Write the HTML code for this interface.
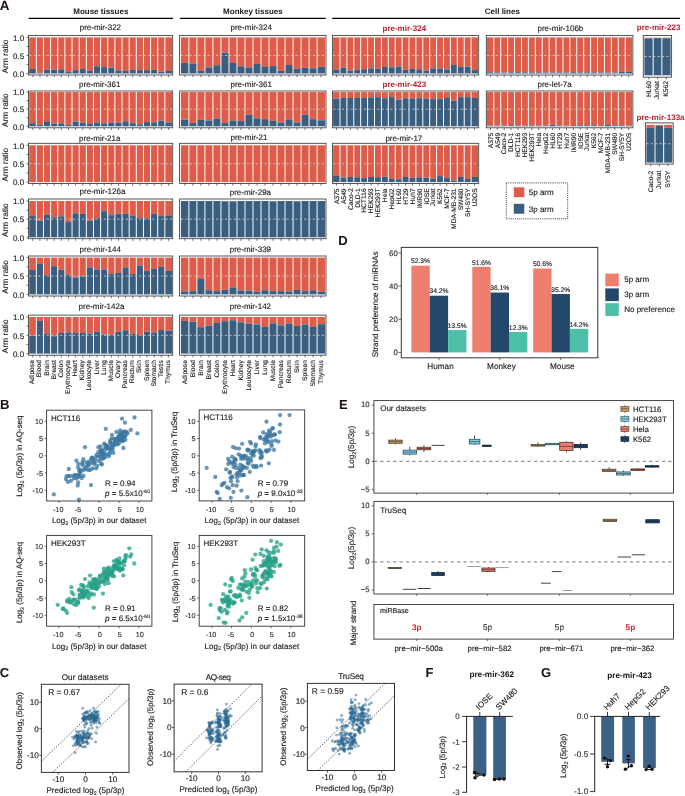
<!DOCTYPE html>
<html><head><meta charset="utf-8"><style>
html,body{margin:0;padding:0;background:#fff;}
svg{display:block;will-change:transform;}
text{font-family:"Liberation Sans", sans-serif;text-rendering:geometricPrecision;}
</style></head><body>
<svg width="685" height="796" viewBox="0 0 685 796" font-family='"Liberation Sans", sans-serif'>
<rect width="685" height="796" fill="#fff"/>
<text x="-0.30" y="9.60" font-size="13.4" text-anchor="start" font-weight="bold" fill="#1c1010">A</text>
<text x="100.80" y="14.40" font-size="8" text-anchor="middle" font-weight="bold" fill="#1a1a1a">Mouse tissues</text>
<text x="252.90" y="14.40" font-size="8" text-anchor="middle" font-weight="bold" fill="#1a1a1a">Monkey tissues</text>
<text x="502.30" y="14.40" font-size="8" text-anchor="middle" font-weight="bold" fill="#1a1a1a">Cell lines</text>
<line x1="28.60" y1="18.40" x2="173.00" y2="18.40" stroke="#000" stroke-width="1.15"/>
<line x1="180.00" y1="18.40" x2="325.80" y2="18.40" stroke="#000" stroke-width="1.15"/>
<line x1="332.20" y1="18.40" x2="680.10" y2="18.40" stroke="#000" stroke-width="1.15"/>
<rect x="28.50" y="35.40" width="144.20" height="39.60" fill="#fff" stroke="none" stroke-width="0"/>
<rect x="29.20" y="37.40" width="7.14" height="31.62" fill="#DE5D4A" stroke="none" stroke-width="0"/>
<rect x="29.20" y="69.02" width="7.14" height="4.48" fill="#3A5E7F" stroke="none" stroke-width="0"/>
<rect x="36.34" y="37.40" width="7.14" height="35.45" fill="#DE5D4A" stroke="none" stroke-width="0"/>
<rect x="36.34" y="72.85" width="7.14" height="0.65" fill="#3A5E7F" stroke="none" stroke-width="0"/>
<rect x="43.48" y="37.40" width="7.14" height="32.27" fill="#DE5D4A" stroke="none" stroke-width="0"/>
<rect x="43.48" y="69.67" width="7.14" height="3.83" fill="#3A5E7F" stroke="none" stroke-width="0"/>
<rect x="50.62" y="37.40" width="7.14" height="32.27" fill="#DE5D4A" stroke="none" stroke-width="0"/>
<rect x="50.62" y="69.67" width="7.14" height="3.83" fill="#3A5E7F" stroke="none" stroke-width="0"/>
<rect x="57.76" y="37.40" width="7.14" height="31.84" fill="#DE5D4A" stroke="none" stroke-width="0"/>
<rect x="57.76" y="69.24" width="7.14" height="4.26" fill="#3A5E7F" stroke="none" stroke-width="0"/>
<rect x="64.90" y="37.40" width="7.14" height="34.62" fill="#DE5D4A" stroke="none" stroke-width="0"/>
<rect x="64.90" y="72.02" width="7.14" height="1.48" fill="#3A5E7F" stroke="none" stroke-width="0"/>
<rect x="72.04" y="37.40" width="7.14" height="32.71" fill="#DE5D4A" stroke="none" stroke-width="0"/>
<rect x="72.04" y="70.11" width="7.14" height="3.39" fill="#3A5E7F" stroke="none" stroke-width="0"/>
<rect x="79.18" y="37.40" width="7.14" height="31.62" fill="#DE5D4A" stroke="none" stroke-width="0"/>
<rect x="79.18" y="69.02" width="7.14" height="4.48" fill="#3A5E7F" stroke="none" stroke-width="0"/>
<rect x="86.32" y="37.40" width="7.14" height="33.32" fill="#DE5D4A" stroke="none" stroke-width="0"/>
<rect x="86.32" y="70.72" width="7.14" height="2.78" fill="#3A5E7F" stroke="none" stroke-width="0"/>
<rect x="93.46" y="37.40" width="7.14" height="28.88" fill="#DE5D4A" stroke="none" stroke-width="0"/>
<rect x="93.46" y="66.28" width="7.14" height="7.22" fill="#3A5E7F" stroke="none" stroke-width="0"/>
<rect x="100.60" y="37.40" width="7.14" height="29.71" fill="#DE5D4A" stroke="none" stroke-width="0"/>
<rect x="100.60" y="67.11" width="7.14" height="6.39" fill="#3A5E7F" stroke="none" stroke-width="0"/>
<rect x="107.74" y="37.40" width="7.14" height="30.32" fill="#DE5D4A" stroke="none" stroke-width="0"/>
<rect x="107.74" y="67.72" width="7.14" height="5.78" fill="#3A5E7F" stroke="none" stroke-width="0"/>
<rect x="114.88" y="37.40" width="7.14" height="32.89" fill="#DE5D4A" stroke="none" stroke-width="0"/>
<rect x="114.88" y="70.29" width="7.14" height="3.21" fill="#3A5E7F" stroke="none" stroke-width="0"/>
<rect x="122.02" y="37.40" width="7.14" height="33.54" fill="#DE5D4A" stroke="none" stroke-width="0"/>
<rect x="122.02" y="70.94" width="7.14" height="2.56" fill="#3A5E7F" stroke="none" stroke-width="0"/>
<rect x="129.16" y="37.40" width="7.14" height="32.49" fill="#DE5D4A" stroke="none" stroke-width="0"/>
<rect x="129.16" y="69.89" width="7.14" height="3.61" fill="#3A5E7F" stroke="none" stroke-width="0"/>
<rect x="136.30" y="37.40" width="7.14" height="32.71" fill="#DE5D4A" stroke="none" stroke-width="0"/>
<rect x="136.30" y="70.11" width="7.14" height="3.39" fill="#3A5E7F" stroke="none" stroke-width="0"/>
<rect x="143.44" y="37.40" width="7.14" height="32.71" fill="#DE5D4A" stroke="none" stroke-width="0"/>
<rect x="143.44" y="70.11" width="7.14" height="3.39" fill="#3A5E7F" stroke="none" stroke-width="0"/>
<rect x="150.58" y="37.40" width="7.14" height="32.49" fill="#DE5D4A" stroke="none" stroke-width="0"/>
<rect x="150.58" y="69.89" width="7.14" height="3.61" fill="#3A5E7F" stroke="none" stroke-width="0"/>
<rect x="157.72" y="37.40" width="7.14" height="34.40" fill="#DE5D4A" stroke="none" stroke-width="0"/>
<rect x="157.72" y="71.80" width="7.14" height="1.70" fill="#3A5E7F" stroke="none" stroke-width="0"/>
<rect x="164.86" y="37.40" width="7.14" height="33.54" fill="#DE5D4A" stroke="none" stroke-width="0"/>
<rect x="164.86" y="70.94" width="7.14" height="2.56" fill="#3A5E7F" stroke="none" stroke-width="0"/>
<line x1="36.34" y1="37.40" x2="36.34" y2="73.50" stroke="#ffffff" stroke-width="0.95"/>
<line x1="43.48" y1="37.40" x2="43.48" y2="73.50" stroke="#ffffff" stroke-width="0.95"/>
<line x1="50.62" y1="37.40" x2="50.62" y2="73.50" stroke="#ffffff" stroke-width="0.95"/>
<line x1="57.76" y1="37.40" x2="57.76" y2="73.50" stroke="#ffffff" stroke-width="0.95"/>
<line x1="64.90" y1="37.40" x2="64.90" y2="73.50" stroke="#ffffff" stroke-width="0.95"/>
<line x1="72.04" y1="37.40" x2="72.04" y2="73.50" stroke="#ffffff" stroke-width="0.95"/>
<line x1="79.18" y1="37.40" x2="79.18" y2="73.50" stroke="#ffffff" stroke-width="0.95"/>
<line x1="86.32" y1="37.40" x2="86.32" y2="73.50" stroke="#ffffff" stroke-width="0.95"/>
<line x1="93.46" y1="37.40" x2="93.46" y2="73.50" stroke="#ffffff" stroke-width="0.95"/>
<line x1="100.60" y1="37.40" x2="100.60" y2="73.50" stroke="#ffffff" stroke-width="0.95"/>
<line x1="107.74" y1="37.40" x2="107.74" y2="73.50" stroke="#ffffff" stroke-width="0.95"/>
<line x1="114.88" y1="37.40" x2="114.88" y2="73.50" stroke="#ffffff" stroke-width="0.95"/>
<line x1="122.02" y1="37.40" x2="122.02" y2="73.50" stroke="#ffffff" stroke-width="0.95"/>
<line x1="129.16" y1="37.40" x2="129.16" y2="73.50" stroke="#ffffff" stroke-width="0.95"/>
<line x1="136.30" y1="37.40" x2="136.30" y2="73.50" stroke="#ffffff" stroke-width="0.95"/>
<line x1="143.44" y1="37.40" x2="143.44" y2="73.50" stroke="#ffffff" stroke-width="0.95"/>
<line x1="150.58" y1="37.40" x2="150.58" y2="73.50" stroke="#ffffff" stroke-width="0.95"/>
<line x1="157.72" y1="37.40" x2="157.72" y2="73.50" stroke="#ffffff" stroke-width="0.95"/>
<line x1="164.86" y1="37.40" x2="164.86" y2="73.50" stroke="#ffffff" stroke-width="0.95"/>
<line x1="29.20" y1="55.45" x2="172.00" y2="55.45" stroke="#c8c8c8" stroke-width="0.9" stroke-dasharray="2.2,2.2"/>
<rect x="28.50" y="35.40" width="144.20" height="39.60" fill="none" stroke="#3a3a3a" stroke-width="0.85"/>
<line x1="32.77" y1="75.00" x2="32.77" y2="77.20" stroke="#2a2a2a" stroke-width="0.65"/>
<line x1="39.91" y1="75.00" x2="39.91" y2="77.20" stroke="#2a2a2a" stroke-width="0.65"/>
<line x1="47.05" y1="75.00" x2="47.05" y2="77.20" stroke="#2a2a2a" stroke-width="0.65"/>
<line x1="54.19" y1="75.00" x2="54.19" y2="77.20" stroke="#2a2a2a" stroke-width="0.65"/>
<line x1="61.33" y1="75.00" x2="61.33" y2="77.20" stroke="#2a2a2a" stroke-width="0.65"/>
<line x1="68.47" y1="75.00" x2="68.47" y2="77.20" stroke="#2a2a2a" stroke-width="0.65"/>
<line x1="75.61" y1="75.00" x2="75.61" y2="77.20" stroke="#2a2a2a" stroke-width="0.65"/>
<line x1="82.75" y1="75.00" x2="82.75" y2="77.20" stroke="#2a2a2a" stroke-width="0.65"/>
<line x1="89.89" y1="75.00" x2="89.89" y2="77.20" stroke="#2a2a2a" stroke-width="0.65"/>
<line x1="97.03" y1="75.00" x2="97.03" y2="77.20" stroke="#2a2a2a" stroke-width="0.65"/>
<line x1="104.17" y1="75.00" x2="104.17" y2="77.20" stroke="#2a2a2a" stroke-width="0.65"/>
<line x1="111.31" y1="75.00" x2="111.31" y2="77.20" stroke="#2a2a2a" stroke-width="0.65"/>
<line x1="118.45" y1="75.00" x2="118.45" y2="77.20" stroke="#2a2a2a" stroke-width="0.65"/>
<line x1="125.59" y1="75.00" x2="125.59" y2="77.20" stroke="#2a2a2a" stroke-width="0.65"/>
<line x1="132.73" y1="75.00" x2="132.73" y2="77.20" stroke="#2a2a2a" stroke-width="0.65"/>
<line x1="139.87" y1="75.00" x2="139.87" y2="77.20" stroke="#2a2a2a" stroke-width="0.65"/>
<line x1="147.01" y1="75.00" x2="147.01" y2="77.20" stroke="#2a2a2a" stroke-width="0.65"/>
<line x1="154.15" y1="75.00" x2="154.15" y2="77.20" stroke="#2a2a2a" stroke-width="0.65"/>
<line x1="161.29" y1="75.00" x2="161.29" y2="77.20" stroke="#2a2a2a" stroke-width="0.65"/>
<line x1="168.43" y1="75.00" x2="168.43" y2="77.20" stroke="#2a2a2a" stroke-width="0.65"/>
<line x1="26.50" y1="73.50" x2="28.50" y2="73.50" stroke="#333" stroke-width="0.7"/>
<line x1="26.50" y1="64.47" x2="28.50" y2="64.47" stroke="#333" stroke-width="0.7"/>
<line x1="26.50" y1="55.45" x2="28.50" y2="55.45" stroke="#333" stroke-width="0.7"/>
<line x1="26.50" y1="46.42" x2="28.50" y2="46.42" stroke="#333" stroke-width="0.7"/>
<line x1="26.50" y1="37.40" x2="28.50" y2="37.40" stroke="#333" stroke-width="0.7"/>
<text x="24.20" y="76.70" font-size="8.0" text-anchor="end" fill="#222" stroke="#222" stroke-width="0.14">0.0</text>
<text x="24.20" y="58.65" font-size="8.0" text-anchor="end" fill="#222" stroke="#222" stroke-width="0.14">0.5</text>
<text x="24.20" y="40.60" font-size="8.0" text-anchor="end" fill="#222" stroke="#222" stroke-width="0.14">1.0</text>
<text x="0.00" y="0.00" font-size="8.3" text-anchor="middle" fill="#1a1a1a" transform="translate(8.40,56.45) rotate(-90)" stroke="#1a1a1a" stroke-width="0.14">Arm ratio</text>
<text x="79.70" y="30.40" font-size="8" text-anchor="start" fill="#1a1a1a" stroke="#1a1a1a" stroke-width="0.14">pre-mir-322</text>
<rect x="179.60" y="35.40" width="146.40" height="39.60" fill="#fff" stroke="none" stroke-width="0"/>
<rect x="180.90" y="37.40" width="8.01" height="25.45" fill="#DE5D4A" stroke="none" stroke-width="0"/>
<rect x="180.90" y="62.85" width="8.01" height="10.65" fill="#3A5E7F" stroke="none" stroke-width="0"/>
<rect x="188.91" y="37.40" width="8.01" height="26.10" fill="#DE5D4A" stroke="none" stroke-width="0"/>
<rect x="188.91" y="63.50" width="8.01" height="10.00" fill="#3A5E7F" stroke="none" stroke-width="0"/>
<rect x="196.92" y="37.40" width="8.01" height="33.43" fill="#DE5D4A" stroke="none" stroke-width="0"/>
<rect x="196.92" y="70.83" width="8.01" height="2.67" fill="#3A5E7F" stroke="none" stroke-width="0"/>
<rect x="204.93" y="37.40" width="8.01" height="29.96" fill="#DE5D4A" stroke="none" stroke-width="0"/>
<rect x="204.93" y="67.36" width="8.01" height="6.14" fill="#3A5E7F" stroke="none" stroke-width="0"/>
<rect x="212.94" y="37.40" width="8.01" height="27.80" fill="#DE5D4A" stroke="none" stroke-width="0"/>
<rect x="212.94" y="65.20" width="8.01" height="8.30" fill="#3A5E7F" stroke="none" stroke-width="0"/>
<rect x="220.96" y="37.40" width="8.01" height="15.34" fill="#DE5D4A" stroke="none" stroke-width="0"/>
<rect x="220.96" y="52.74" width="8.01" height="20.76" fill="#3A5E7F" stroke="none" stroke-width="0"/>
<rect x="228.97" y="37.40" width="8.01" height="25.63" fill="#DE5D4A" stroke="none" stroke-width="0"/>
<rect x="228.97" y="63.03" width="8.01" height="10.47" fill="#3A5E7F" stroke="none" stroke-width="0"/>
<rect x="236.98" y="37.40" width="8.01" height="28.88" fill="#DE5D4A" stroke="none" stroke-width="0"/>
<rect x="236.98" y="66.28" width="8.01" height="7.22" fill="#3A5E7F" stroke="none" stroke-width="0"/>
<rect x="244.99" y="37.40" width="8.01" height="29.96" fill="#DE5D4A" stroke="none" stroke-width="0"/>
<rect x="244.99" y="67.36" width="8.01" height="6.14" fill="#3A5E7F" stroke="none" stroke-width="0"/>
<rect x="253.00" y="37.40" width="8.01" height="26.53" fill="#DE5D4A" stroke="none" stroke-width="0"/>
<rect x="253.00" y="63.93" width="8.01" height="9.57" fill="#3A5E7F" stroke="none" stroke-width="0"/>
<rect x="261.01" y="37.40" width="8.01" height="29.60" fill="#DE5D4A" stroke="none" stroke-width="0"/>
<rect x="261.01" y="67.00" width="8.01" height="6.50" fill="#3A5E7F" stroke="none" stroke-width="0"/>
<rect x="269.02" y="37.40" width="8.01" height="28.70" fill="#DE5D4A" stroke="none" stroke-width="0"/>
<rect x="269.02" y="66.10" width="8.01" height="7.40" fill="#3A5E7F" stroke="none" stroke-width="0"/>
<rect x="277.03" y="37.40" width="8.01" height="33.43" fill="#DE5D4A" stroke="none" stroke-width="0"/>
<rect x="277.03" y="70.83" width="8.01" height="2.67" fill="#3A5E7F" stroke="none" stroke-width="0"/>
<rect x="285.04" y="37.40" width="8.01" height="27.62" fill="#DE5D4A" stroke="none" stroke-width="0"/>
<rect x="285.04" y="65.02" width="8.01" height="8.48" fill="#3A5E7F" stroke="none" stroke-width="0"/>
<rect x="293.06" y="37.40" width="8.01" height="31.52" fill="#DE5D4A" stroke="none" stroke-width="0"/>
<rect x="293.06" y="68.92" width="8.01" height="4.58" fill="#3A5E7F" stroke="none" stroke-width="0"/>
<rect x="301.07" y="37.40" width="8.01" height="30.43" fill="#DE5D4A" stroke="none" stroke-width="0"/>
<rect x="301.07" y="67.83" width="8.01" height="5.67" fill="#3A5E7F" stroke="none" stroke-width="0"/>
<rect x="309.08" y="37.40" width="8.01" height="30.83" fill="#DE5D4A" stroke="none" stroke-width="0"/>
<rect x="309.08" y="68.23" width="8.01" height="5.27" fill="#3A5E7F" stroke="none" stroke-width="0"/>
<rect x="317.09" y="37.40" width="8.01" height="29.35" fill="#DE5D4A" stroke="none" stroke-width="0"/>
<rect x="317.09" y="66.75" width="8.01" height="6.75" fill="#3A5E7F" stroke="none" stroke-width="0"/>
<line x1="188.91" y1="37.40" x2="188.91" y2="73.50" stroke="#ffffff" stroke-width="0.95"/>
<line x1="196.92" y1="37.40" x2="196.92" y2="73.50" stroke="#ffffff" stroke-width="0.95"/>
<line x1="204.93" y1="37.40" x2="204.93" y2="73.50" stroke="#ffffff" stroke-width="0.95"/>
<line x1="212.94" y1="37.40" x2="212.94" y2="73.50" stroke="#ffffff" stroke-width="0.95"/>
<line x1="220.96" y1="37.40" x2="220.96" y2="73.50" stroke="#ffffff" stroke-width="0.95"/>
<line x1="228.97" y1="37.40" x2="228.97" y2="73.50" stroke="#ffffff" stroke-width="0.95"/>
<line x1="236.98" y1="37.40" x2="236.98" y2="73.50" stroke="#ffffff" stroke-width="0.95"/>
<line x1="244.99" y1="37.40" x2="244.99" y2="73.50" stroke="#ffffff" stroke-width="0.95"/>
<line x1="253.00" y1="37.40" x2="253.00" y2="73.50" stroke="#ffffff" stroke-width="0.95"/>
<line x1="261.01" y1="37.40" x2="261.01" y2="73.50" stroke="#ffffff" stroke-width="0.95"/>
<line x1="269.02" y1="37.40" x2="269.02" y2="73.50" stroke="#ffffff" stroke-width="0.95"/>
<line x1="277.03" y1="37.40" x2="277.03" y2="73.50" stroke="#ffffff" stroke-width="0.95"/>
<line x1="285.04" y1="37.40" x2="285.04" y2="73.50" stroke="#ffffff" stroke-width="0.95"/>
<line x1="293.06" y1="37.40" x2="293.06" y2="73.50" stroke="#ffffff" stroke-width="0.95"/>
<line x1="301.07" y1="37.40" x2="301.07" y2="73.50" stroke="#ffffff" stroke-width="0.95"/>
<line x1="309.08" y1="37.40" x2="309.08" y2="73.50" stroke="#ffffff" stroke-width="0.95"/>
<line x1="317.09" y1="37.40" x2="317.09" y2="73.50" stroke="#ffffff" stroke-width="0.95"/>
<line x1="180.90" y1="55.45" x2="325.10" y2="55.45" stroke="#c8c8c8" stroke-width="0.9" stroke-dasharray="2.2,2.2"/>
<rect x="179.60" y="35.40" width="146.40" height="39.60" fill="none" stroke="#3a3a3a" stroke-width="0.85"/>
<line x1="184.91" y1="75.00" x2="184.91" y2="77.20" stroke="#2a2a2a" stroke-width="0.65"/>
<line x1="192.92" y1="75.00" x2="192.92" y2="77.20" stroke="#2a2a2a" stroke-width="0.65"/>
<line x1="200.93" y1="75.00" x2="200.93" y2="77.20" stroke="#2a2a2a" stroke-width="0.65"/>
<line x1="208.94" y1="75.00" x2="208.94" y2="77.20" stroke="#2a2a2a" stroke-width="0.65"/>
<line x1="216.95" y1="75.00" x2="216.95" y2="77.20" stroke="#2a2a2a" stroke-width="0.65"/>
<line x1="224.96" y1="75.00" x2="224.96" y2="77.20" stroke="#2a2a2a" stroke-width="0.65"/>
<line x1="232.97" y1="75.00" x2="232.97" y2="77.20" stroke="#2a2a2a" stroke-width="0.65"/>
<line x1="240.98" y1="75.00" x2="240.98" y2="77.20" stroke="#2a2a2a" stroke-width="0.65"/>
<line x1="248.99" y1="75.00" x2="248.99" y2="77.20" stroke="#2a2a2a" stroke-width="0.65"/>
<line x1="257.01" y1="75.00" x2="257.01" y2="77.20" stroke="#2a2a2a" stroke-width="0.65"/>
<line x1="265.02" y1="75.00" x2="265.02" y2="77.20" stroke="#2a2a2a" stroke-width="0.65"/>
<line x1="273.03" y1="75.00" x2="273.03" y2="77.20" stroke="#2a2a2a" stroke-width="0.65"/>
<line x1="281.04" y1="75.00" x2="281.04" y2="77.20" stroke="#2a2a2a" stroke-width="0.65"/>
<line x1="289.05" y1="75.00" x2="289.05" y2="77.20" stroke="#2a2a2a" stroke-width="0.65"/>
<line x1="297.06" y1="75.00" x2="297.06" y2="77.20" stroke="#2a2a2a" stroke-width="0.65"/>
<line x1="305.07" y1="75.00" x2="305.07" y2="77.20" stroke="#2a2a2a" stroke-width="0.65"/>
<line x1="313.08" y1="75.00" x2="313.08" y2="77.20" stroke="#2a2a2a" stroke-width="0.65"/>
<line x1="321.09" y1="75.00" x2="321.09" y2="77.20" stroke="#2a2a2a" stroke-width="0.65"/>
<text x="230.50" y="29.60" font-size="8" text-anchor="start" fill="#1a1a1a" stroke="#1a1a1a" stroke-width="0.14">pre-mir-324</text>
<rect x="332.50" y="35.40" width="146.20" height="39.60" fill="#fff" stroke="none" stroke-width="0"/>
<rect x="333.10" y="37.40" width="6.90" height="32.24" fill="#DE5D4A" stroke="none" stroke-width="0"/>
<rect x="333.10" y="69.64" width="6.90" height="3.86" fill="#3A5E7F" stroke="none" stroke-width="0"/>
<rect x="340.00" y="37.40" width="6.90" height="30.47" fill="#DE5D4A" stroke="none" stroke-width="0"/>
<rect x="340.00" y="67.87" width="6.90" height="5.63" fill="#3A5E7F" stroke="none" stroke-width="0"/>
<rect x="346.90" y="37.40" width="6.90" height="33.10" fill="#DE5D4A" stroke="none" stroke-width="0"/>
<rect x="346.90" y="70.50" width="6.90" height="3.00" fill="#3A5E7F" stroke="none" stroke-width="0"/>
<rect x="353.80" y="37.40" width="6.90" height="32.02" fill="#DE5D4A" stroke="none" stroke-width="0"/>
<rect x="353.80" y="69.42" width="6.90" height="4.08" fill="#3A5E7F" stroke="none" stroke-width="0"/>
<rect x="360.70" y="37.40" width="6.90" height="31.77" fill="#DE5D4A" stroke="none" stroke-width="0"/>
<rect x="360.70" y="69.17" width="6.90" height="4.33" fill="#3A5E7F" stroke="none" stroke-width="0"/>
<rect x="367.60" y="37.40" width="6.90" height="30.90" fill="#DE5D4A" stroke="none" stroke-width="0"/>
<rect x="367.60" y="68.30" width="6.90" height="5.20" fill="#3A5E7F" stroke="none" stroke-width="0"/>
<rect x="374.50" y="37.40" width="6.90" height="31.33" fill="#DE5D4A" stroke="none" stroke-width="0"/>
<rect x="374.50" y="68.73" width="6.90" height="4.77" fill="#3A5E7F" stroke="none" stroke-width="0"/>
<rect x="381.40" y="37.40" width="6.90" height="29.60" fill="#DE5D4A" stroke="none" stroke-width="0"/>
<rect x="381.40" y="67.00" width="6.90" height="6.50" fill="#3A5E7F" stroke="none" stroke-width="0"/>
<rect x="388.30" y="37.40" width="6.90" height="29.82" fill="#DE5D4A" stroke="none" stroke-width="0"/>
<rect x="388.30" y="67.22" width="6.90" height="6.28" fill="#3A5E7F" stroke="none" stroke-width="0"/>
<rect x="395.20" y="37.40" width="6.90" height="28.95" fill="#DE5D4A" stroke="none" stroke-width="0"/>
<rect x="395.20" y="66.35" width="6.90" height="7.15" fill="#3A5E7F" stroke="none" stroke-width="0"/>
<rect x="402.10" y="37.40" width="6.90" height="32.49" fill="#DE5D4A" stroke="none" stroke-width="0"/>
<rect x="402.10" y="69.89" width="6.90" height="3.61" fill="#3A5E7F" stroke="none" stroke-width="0"/>
<rect x="409.00" y="37.40" width="6.90" height="31.55" fill="#DE5D4A" stroke="none" stroke-width="0"/>
<rect x="409.00" y="68.95" width="6.90" height="4.55" fill="#3A5E7F" stroke="none" stroke-width="0"/>
<rect x="415.90" y="37.40" width="6.90" height="31.77" fill="#DE5D4A" stroke="none" stroke-width="0"/>
<rect x="415.90" y="69.17" width="6.90" height="4.33" fill="#3A5E7F" stroke="none" stroke-width="0"/>
<rect x="422.80" y="37.40" width="6.90" height="33.10" fill="#DE5D4A" stroke="none" stroke-width="0"/>
<rect x="422.80" y="70.50" width="6.90" height="3.00" fill="#3A5E7F" stroke="none" stroke-width="0"/>
<rect x="429.70" y="37.40" width="6.90" height="30.90" fill="#DE5D4A" stroke="none" stroke-width="0"/>
<rect x="429.70" y="68.30" width="6.90" height="5.20" fill="#3A5E7F" stroke="none" stroke-width="0"/>
<rect x="436.60" y="37.40" width="6.90" height="31.12" fill="#DE5D4A" stroke="none" stroke-width="0"/>
<rect x="436.60" y="68.52" width="6.90" height="4.98" fill="#3A5E7F" stroke="none" stroke-width="0"/>
<rect x="443.50" y="37.40" width="6.90" height="32.02" fill="#DE5D4A" stroke="none" stroke-width="0"/>
<rect x="443.50" y="69.42" width="6.90" height="4.08" fill="#3A5E7F" stroke="none" stroke-width="0"/>
<rect x="450.40" y="37.40" width="6.90" height="27.62" fill="#DE5D4A" stroke="none" stroke-width="0"/>
<rect x="450.40" y="65.02" width="6.90" height="8.48" fill="#3A5E7F" stroke="none" stroke-width="0"/>
<rect x="457.30" y="37.40" width="6.90" height="29.60" fill="#DE5D4A" stroke="none" stroke-width="0"/>
<rect x="457.30" y="67.00" width="6.90" height="6.50" fill="#3A5E7F" stroke="none" stroke-width="0"/>
<rect x="464.20" y="37.40" width="6.90" height="29.39" fill="#DE5D4A" stroke="none" stroke-width="0"/>
<rect x="464.20" y="66.79" width="6.90" height="6.71" fill="#3A5E7F" stroke="none" stroke-width="0"/>
<rect x="471.10" y="37.40" width="6.90" height="32.67" fill="#DE5D4A" stroke="none" stroke-width="0"/>
<rect x="471.10" y="70.07" width="6.90" height="3.43" fill="#3A5E7F" stroke="none" stroke-width="0"/>
<line x1="340.00" y1="37.40" x2="340.00" y2="73.50" stroke="#ffffff" stroke-width="0.95"/>
<line x1="346.90" y1="37.40" x2="346.90" y2="73.50" stroke="#ffffff" stroke-width="0.95"/>
<line x1="353.80" y1="37.40" x2="353.80" y2="73.50" stroke="#ffffff" stroke-width="0.95"/>
<line x1="360.70" y1="37.40" x2="360.70" y2="73.50" stroke="#ffffff" stroke-width="0.95"/>
<line x1="367.60" y1="37.40" x2="367.60" y2="73.50" stroke="#ffffff" stroke-width="0.95"/>
<line x1="374.50" y1="37.40" x2="374.50" y2="73.50" stroke="#ffffff" stroke-width="0.95"/>
<line x1="381.40" y1="37.40" x2="381.40" y2="73.50" stroke="#ffffff" stroke-width="0.95"/>
<line x1="388.30" y1="37.40" x2="388.30" y2="73.50" stroke="#ffffff" stroke-width="0.95"/>
<line x1="395.20" y1="37.40" x2="395.20" y2="73.50" stroke="#ffffff" stroke-width="0.95"/>
<line x1="402.10" y1="37.40" x2="402.10" y2="73.50" stroke="#ffffff" stroke-width="0.95"/>
<line x1="409.00" y1="37.40" x2="409.00" y2="73.50" stroke="#ffffff" stroke-width="0.95"/>
<line x1="415.90" y1="37.40" x2="415.90" y2="73.50" stroke="#ffffff" stroke-width="0.95"/>
<line x1="422.80" y1="37.40" x2="422.80" y2="73.50" stroke="#ffffff" stroke-width="0.95"/>
<line x1="429.70" y1="37.40" x2="429.70" y2="73.50" stroke="#ffffff" stroke-width="0.95"/>
<line x1="436.60" y1="37.40" x2="436.60" y2="73.50" stroke="#ffffff" stroke-width="0.95"/>
<line x1="443.50" y1="37.40" x2="443.50" y2="73.50" stroke="#ffffff" stroke-width="0.95"/>
<line x1="450.40" y1="37.40" x2="450.40" y2="73.50" stroke="#ffffff" stroke-width="0.95"/>
<line x1="457.30" y1="37.40" x2="457.30" y2="73.50" stroke="#ffffff" stroke-width="0.95"/>
<line x1="464.20" y1="37.40" x2="464.20" y2="73.50" stroke="#ffffff" stroke-width="0.95"/>
<line x1="471.10" y1="37.40" x2="471.10" y2="73.50" stroke="#ffffff" stroke-width="0.95"/>
<line x1="333.10" y1="55.45" x2="478.00" y2="55.45" stroke="#c8c8c8" stroke-width="0.9" stroke-dasharray="2.2,2.2"/>
<rect x="332.50" y="35.40" width="146.20" height="39.60" fill="none" stroke="#3a3a3a" stroke-width="0.85"/>
<line x1="336.55" y1="75.00" x2="336.55" y2="77.20" stroke="#2a2a2a" stroke-width="0.65"/>
<line x1="343.45" y1="75.00" x2="343.45" y2="77.20" stroke="#2a2a2a" stroke-width="0.65"/>
<line x1="350.35" y1="75.00" x2="350.35" y2="77.20" stroke="#2a2a2a" stroke-width="0.65"/>
<line x1="357.25" y1="75.00" x2="357.25" y2="77.20" stroke="#2a2a2a" stroke-width="0.65"/>
<line x1="364.15" y1="75.00" x2="364.15" y2="77.20" stroke="#2a2a2a" stroke-width="0.65"/>
<line x1="371.05" y1="75.00" x2="371.05" y2="77.20" stroke="#2a2a2a" stroke-width="0.65"/>
<line x1="377.95" y1="75.00" x2="377.95" y2="77.20" stroke="#2a2a2a" stroke-width="0.65"/>
<line x1="384.85" y1="75.00" x2="384.85" y2="77.20" stroke="#2a2a2a" stroke-width="0.65"/>
<line x1="391.75" y1="75.00" x2="391.75" y2="77.20" stroke="#2a2a2a" stroke-width="0.65"/>
<line x1="398.65" y1="75.00" x2="398.65" y2="77.20" stroke="#2a2a2a" stroke-width="0.65"/>
<line x1="405.55" y1="75.00" x2="405.55" y2="77.20" stroke="#2a2a2a" stroke-width="0.65"/>
<line x1="412.45" y1="75.00" x2="412.45" y2="77.20" stroke="#2a2a2a" stroke-width="0.65"/>
<line x1="419.35" y1="75.00" x2="419.35" y2="77.20" stroke="#2a2a2a" stroke-width="0.65"/>
<line x1="426.25" y1="75.00" x2="426.25" y2="77.20" stroke="#2a2a2a" stroke-width="0.65"/>
<line x1="433.15" y1="75.00" x2="433.15" y2="77.20" stroke="#2a2a2a" stroke-width="0.65"/>
<line x1="440.05" y1="75.00" x2="440.05" y2="77.20" stroke="#2a2a2a" stroke-width="0.65"/>
<line x1="446.95" y1="75.00" x2="446.95" y2="77.20" stroke="#2a2a2a" stroke-width="0.65"/>
<line x1="453.85" y1="75.00" x2="453.85" y2="77.20" stroke="#2a2a2a" stroke-width="0.65"/>
<line x1="460.75" y1="75.00" x2="460.75" y2="77.20" stroke="#2a2a2a" stroke-width="0.65"/>
<line x1="467.65" y1="75.00" x2="467.65" y2="77.20" stroke="#2a2a2a" stroke-width="0.65"/>
<line x1="474.55" y1="75.00" x2="474.55" y2="77.20" stroke="#2a2a2a" stroke-width="0.65"/>
<text x="382.50" y="30.50" font-size="8" text-anchor="start" font-weight="bold" fill="#B8232F">pre-mir-324</text>
<rect x="486.30" y="35.40" width="146.60" height="39.60" fill="#fff" stroke="none" stroke-width="0"/>
<rect x="486.90" y="37.40" width="6.91" height="34.84" fill="#DE5D4A" stroke="none" stroke-width="0"/>
<rect x="486.90" y="72.24" width="6.91" height="1.26" fill="#3A5E7F" stroke="none" stroke-width="0"/>
<rect x="493.81" y="37.40" width="6.91" height="35.02" fill="#DE5D4A" stroke="none" stroke-width="0"/>
<rect x="493.81" y="72.42" width="6.91" height="1.08" fill="#3A5E7F" stroke="none" stroke-width="0"/>
<rect x="500.73" y="37.40" width="6.91" height="35.20" fill="#DE5D4A" stroke="none" stroke-width="0"/>
<rect x="500.73" y="72.60" width="6.91" height="0.90" fill="#3A5E7F" stroke="none" stroke-width="0"/>
<rect x="507.64" y="37.40" width="6.91" height="35.02" fill="#DE5D4A" stroke="none" stroke-width="0"/>
<rect x="507.64" y="72.42" width="6.91" height="1.08" fill="#3A5E7F" stroke="none" stroke-width="0"/>
<rect x="514.56" y="37.40" width="6.91" height="34.84" fill="#DE5D4A" stroke="none" stroke-width="0"/>
<rect x="514.56" y="72.24" width="6.91" height="1.26" fill="#3A5E7F" stroke="none" stroke-width="0"/>
<rect x="521.47" y="37.40" width="6.91" height="35.02" fill="#DE5D4A" stroke="none" stroke-width="0"/>
<rect x="521.47" y="72.42" width="6.91" height="1.08" fill="#3A5E7F" stroke="none" stroke-width="0"/>
<rect x="528.39" y="37.40" width="6.91" height="35.02" fill="#DE5D4A" stroke="none" stroke-width="0"/>
<rect x="528.39" y="72.42" width="6.91" height="1.08" fill="#3A5E7F" stroke="none" stroke-width="0"/>
<rect x="535.30" y="37.40" width="6.91" height="35.02" fill="#DE5D4A" stroke="none" stroke-width="0"/>
<rect x="535.30" y="72.42" width="6.91" height="1.08" fill="#3A5E7F" stroke="none" stroke-width="0"/>
<rect x="542.21" y="37.40" width="6.91" height="35.20" fill="#DE5D4A" stroke="none" stroke-width="0"/>
<rect x="542.21" y="72.60" width="6.91" height="0.90" fill="#3A5E7F" stroke="none" stroke-width="0"/>
<rect x="549.13" y="37.40" width="6.91" height="35.20" fill="#DE5D4A" stroke="none" stroke-width="0"/>
<rect x="549.13" y="72.60" width="6.91" height="0.90" fill="#3A5E7F" stroke="none" stroke-width="0"/>
<rect x="556.04" y="37.40" width="6.91" height="35.02" fill="#DE5D4A" stroke="none" stroke-width="0"/>
<rect x="556.04" y="72.42" width="6.91" height="1.08" fill="#3A5E7F" stroke="none" stroke-width="0"/>
<rect x="562.96" y="37.40" width="6.91" height="35.20" fill="#DE5D4A" stroke="none" stroke-width="0"/>
<rect x="562.96" y="72.60" width="6.91" height="0.90" fill="#3A5E7F" stroke="none" stroke-width="0"/>
<rect x="569.87" y="37.40" width="6.91" height="34.84" fill="#DE5D4A" stroke="none" stroke-width="0"/>
<rect x="569.87" y="72.24" width="6.91" height="1.26" fill="#3A5E7F" stroke="none" stroke-width="0"/>
<rect x="576.79" y="37.40" width="6.91" height="35.02" fill="#DE5D4A" stroke="none" stroke-width="0"/>
<rect x="576.79" y="72.42" width="6.91" height="1.08" fill="#3A5E7F" stroke="none" stroke-width="0"/>
<rect x="583.70" y="37.40" width="6.91" height="35.02" fill="#DE5D4A" stroke="none" stroke-width="0"/>
<rect x="583.70" y="72.42" width="6.91" height="1.08" fill="#3A5E7F" stroke="none" stroke-width="0"/>
<rect x="590.61" y="37.40" width="6.91" height="35.02" fill="#DE5D4A" stroke="none" stroke-width="0"/>
<rect x="590.61" y="72.42" width="6.91" height="1.08" fill="#3A5E7F" stroke="none" stroke-width="0"/>
<rect x="597.53" y="37.40" width="6.91" height="35.20" fill="#DE5D4A" stroke="none" stroke-width="0"/>
<rect x="597.53" y="72.60" width="6.91" height="0.90" fill="#3A5E7F" stroke="none" stroke-width="0"/>
<rect x="604.44" y="37.40" width="6.91" height="35.20" fill="#DE5D4A" stroke="none" stroke-width="0"/>
<rect x="604.44" y="72.60" width="6.91" height="0.90" fill="#3A5E7F" stroke="none" stroke-width="0"/>
<rect x="611.36" y="37.40" width="6.91" height="35.20" fill="#DE5D4A" stroke="none" stroke-width="0"/>
<rect x="611.36" y="72.60" width="6.91" height="0.90" fill="#3A5E7F" stroke="none" stroke-width="0"/>
<rect x="618.27" y="37.40" width="6.91" height="34.48" fill="#DE5D4A" stroke="none" stroke-width="0"/>
<rect x="618.27" y="71.88" width="6.91" height="1.62" fill="#3A5E7F" stroke="none" stroke-width="0"/>
<rect x="625.19" y="37.40" width="6.91" height="34.48" fill="#DE5D4A" stroke="none" stroke-width="0"/>
<rect x="625.19" y="71.88" width="6.91" height="1.62" fill="#3A5E7F" stroke="none" stroke-width="0"/>
<line x1="493.81" y1="37.40" x2="493.81" y2="73.50" stroke="#ffffff" stroke-width="0.95"/>
<line x1="500.73" y1="37.40" x2="500.73" y2="73.50" stroke="#ffffff" stroke-width="0.95"/>
<line x1="507.64" y1="37.40" x2="507.64" y2="73.50" stroke="#ffffff" stroke-width="0.95"/>
<line x1="514.56" y1="37.40" x2="514.56" y2="73.50" stroke="#ffffff" stroke-width="0.95"/>
<line x1="521.47" y1="37.40" x2="521.47" y2="73.50" stroke="#ffffff" stroke-width="0.95"/>
<line x1="528.39" y1="37.40" x2="528.39" y2="73.50" stroke="#ffffff" stroke-width="0.95"/>
<line x1="535.30" y1="37.40" x2="535.30" y2="73.50" stroke="#ffffff" stroke-width="0.95"/>
<line x1="542.21" y1="37.40" x2="542.21" y2="73.50" stroke="#ffffff" stroke-width="0.95"/>
<line x1="549.13" y1="37.40" x2="549.13" y2="73.50" stroke="#ffffff" stroke-width="0.95"/>
<line x1="556.04" y1="37.40" x2="556.04" y2="73.50" stroke="#ffffff" stroke-width="0.95"/>
<line x1="562.96" y1="37.40" x2="562.96" y2="73.50" stroke="#ffffff" stroke-width="0.95"/>
<line x1="569.87" y1="37.40" x2="569.87" y2="73.50" stroke="#ffffff" stroke-width="0.95"/>
<line x1="576.79" y1="37.40" x2="576.79" y2="73.50" stroke="#ffffff" stroke-width="0.95"/>
<line x1="583.70" y1="37.40" x2="583.70" y2="73.50" stroke="#ffffff" stroke-width="0.95"/>
<line x1="590.61" y1="37.40" x2="590.61" y2="73.50" stroke="#ffffff" stroke-width="0.95"/>
<line x1="597.53" y1="37.40" x2="597.53" y2="73.50" stroke="#ffffff" stroke-width="0.95"/>
<line x1="604.44" y1="37.40" x2="604.44" y2="73.50" stroke="#ffffff" stroke-width="0.95"/>
<line x1="611.36" y1="37.40" x2="611.36" y2="73.50" stroke="#ffffff" stroke-width="0.95"/>
<line x1="618.27" y1="37.40" x2="618.27" y2="73.50" stroke="#ffffff" stroke-width="0.95"/>
<line x1="625.19" y1="37.40" x2="625.19" y2="73.50" stroke="#ffffff" stroke-width="0.95"/>
<line x1="486.90" y1="55.45" x2="632.10" y2="55.45" stroke="#c8c8c8" stroke-width="0.9" stroke-dasharray="2.2,2.2"/>
<rect x="486.30" y="35.40" width="146.60" height="39.60" fill="none" stroke="#3a3a3a" stroke-width="0.85"/>
<line x1="490.36" y1="75.00" x2="490.36" y2="77.20" stroke="#2a2a2a" stroke-width="0.65"/>
<line x1="497.27" y1="75.00" x2="497.27" y2="77.20" stroke="#2a2a2a" stroke-width="0.65"/>
<line x1="504.19" y1="75.00" x2="504.19" y2="77.20" stroke="#2a2a2a" stroke-width="0.65"/>
<line x1="511.10" y1="75.00" x2="511.10" y2="77.20" stroke="#2a2a2a" stroke-width="0.65"/>
<line x1="518.01" y1="75.00" x2="518.01" y2="77.20" stroke="#2a2a2a" stroke-width="0.65"/>
<line x1="524.93" y1="75.00" x2="524.93" y2="77.20" stroke="#2a2a2a" stroke-width="0.65"/>
<line x1="531.84" y1="75.00" x2="531.84" y2="77.20" stroke="#2a2a2a" stroke-width="0.65"/>
<line x1="538.76" y1="75.00" x2="538.76" y2="77.20" stroke="#2a2a2a" stroke-width="0.65"/>
<line x1="545.67" y1="75.00" x2="545.67" y2="77.20" stroke="#2a2a2a" stroke-width="0.65"/>
<line x1="552.59" y1="75.00" x2="552.59" y2="77.20" stroke="#2a2a2a" stroke-width="0.65"/>
<line x1="559.50" y1="75.00" x2="559.50" y2="77.20" stroke="#2a2a2a" stroke-width="0.65"/>
<line x1="566.41" y1="75.00" x2="566.41" y2="77.20" stroke="#2a2a2a" stroke-width="0.65"/>
<line x1="573.33" y1="75.00" x2="573.33" y2="77.20" stroke="#2a2a2a" stroke-width="0.65"/>
<line x1="580.24" y1="75.00" x2="580.24" y2="77.20" stroke="#2a2a2a" stroke-width="0.65"/>
<line x1="587.16" y1="75.00" x2="587.16" y2="77.20" stroke="#2a2a2a" stroke-width="0.65"/>
<line x1="594.07" y1="75.00" x2="594.07" y2="77.20" stroke="#2a2a2a" stroke-width="0.65"/>
<line x1="600.99" y1="75.00" x2="600.99" y2="77.20" stroke="#2a2a2a" stroke-width="0.65"/>
<line x1="607.90" y1="75.00" x2="607.90" y2="77.20" stroke="#2a2a2a" stroke-width="0.65"/>
<line x1="614.81" y1="75.00" x2="614.81" y2="77.20" stroke="#2a2a2a" stroke-width="0.65"/>
<line x1="621.73" y1="75.00" x2="621.73" y2="77.20" stroke="#2a2a2a" stroke-width="0.65"/>
<line x1="628.64" y1="75.00" x2="628.64" y2="77.20" stroke="#2a2a2a" stroke-width="0.65"/>
<text x="537.50" y="31.00" font-size="8" text-anchor="start" fill="#1a1a1a" stroke="#1a1a1a" stroke-width="0.14">pre-mir-106b</text>
<rect x="28.50" y="91.00" width="144.20" height="36.80" fill="#fff" stroke="none" stroke-width="0"/>
<rect x="29.20" y="92.10" width="7.14" height="31.05" fill="#DE5D4A" stroke="none" stroke-width="0"/>
<rect x="29.20" y="123.15" width="7.14" height="3.15" fill="#3A5E7F" stroke="none" stroke-width="0"/>
<rect x="36.34" y="92.10" width="7.14" height="32.76" fill="#DE5D4A" stroke="none" stroke-width="0"/>
<rect x="36.34" y="124.86" width="7.14" height="1.44" fill="#3A5E7F" stroke="none" stroke-width="0"/>
<rect x="43.48" y="92.10" width="7.14" height="29.14" fill="#DE5D4A" stroke="none" stroke-width="0"/>
<rect x="43.48" y="121.24" width="7.14" height="5.06" fill="#3A5E7F" stroke="none" stroke-width="0"/>
<rect x="50.62" y="92.10" width="7.14" height="31.46" fill="#DE5D4A" stroke="none" stroke-width="0"/>
<rect x="50.62" y="123.56" width="7.14" height="2.74" fill="#3A5E7F" stroke="none" stroke-width="0"/>
<rect x="57.76" y="92.10" width="7.14" height="31.26" fill="#DE5D4A" stroke="none" stroke-width="0"/>
<rect x="57.76" y="123.36" width="7.14" height="2.94" fill="#3A5E7F" stroke="none" stroke-width="0"/>
<rect x="64.90" y="92.10" width="7.14" height="32.76" fill="#DE5D4A" stroke="none" stroke-width="0"/>
<rect x="64.90" y="124.86" width="7.14" height="1.44" fill="#3A5E7F" stroke="none" stroke-width="0"/>
<rect x="72.04" y="92.10" width="7.14" height="29.34" fill="#DE5D4A" stroke="none" stroke-width="0"/>
<rect x="72.04" y="121.44" width="7.14" height="4.86" fill="#3A5E7F" stroke="none" stroke-width="0"/>
<rect x="79.18" y="92.10" width="7.14" height="30.64" fill="#DE5D4A" stroke="none" stroke-width="0"/>
<rect x="79.18" y="122.74" width="7.14" height="3.56" fill="#3A5E7F" stroke="none" stroke-width="0"/>
<rect x="86.32" y="92.10" width="7.14" height="31.91" fill="#DE5D4A" stroke="none" stroke-width="0"/>
<rect x="86.32" y="124.01" width="7.14" height="2.29" fill="#3A5E7F" stroke="none" stroke-width="0"/>
<rect x="93.46" y="92.10" width="7.14" height="30.44" fill="#DE5D4A" stroke="none" stroke-width="0"/>
<rect x="93.46" y="122.54" width="7.14" height="3.76" fill="#3A5E7F" stroke="none" stroke-width="0"/>
<rect x="100.60" y="92.10" width="7.14" height="31.26" fill="#DE5D4A" stroke="none" stroke-width="0"/>
<rect x="100.60" y="123.36" width="7.14" height="2.94" fill="#3A5E7F" stroke="none" stroke-width="0"/>
<rect x="107.74" y="92.10" width="7.14" height="30.64" fill="#DE5D4A" stroke="none" stroke-width="0"/>
<rect x="107.74" y="122.74" width="7.14" height="3.56" fill="#3A5E7F" stroke="none" stroke-width="0"/>
<rect x="114.88" y="92.10" width="7.14" height="30.64" fill="#DE5D4A" stroke="none" stroke-width="0"/>
<rect x="114.88" y="122.74" width="7.14" height="3.56" fill="#3A5E7F" stroke="none" stroke-width="0"/>
<rect x="122.02" y="92.10" width="7.14" height="29.14" fill="#DE5D4A" stroke="none" stroke-width="0"/>
<rect x="122.02" y="121.24" width="7.14" height="5.06" fill="#3A5E7F" stroke="none" stroke-width="0"/>
<rect x="129.16" y="92.10" width="7.14" height="31.05" fill="#DE5D4A" stroke="none" stroke-width="0"/>
<rect x="129.16" y="123.15" width="7.14" height="3.15" fill="#3A5E7F" stroke="none" stroke-width="0"/>
<rect x="136.30" y="92.10" width="7.14" height="32.15" fill="#DE5D4A" stroke="none" stroke-width="0"/>
<rect x="136.30" y="124.25" width="7.14" height="2.05" fill="#3A5E7F" stroke="none" stroke-width="0"/>
<rect x="143.44" y="92.10" width="7.14" height="29.96" fill="#DE5D4A" stroke="none" stroke-width="0"/>
<rect x="143.44" y="122.06" width="7.14" height="4.24" fill="#3A5E7F" stroke="none" stroke-width="0"/>
<rect x="150.58" y="92.10" width="7.14" height="30.20" fill="#DE5D4A" stroke="none" stroke-width="0"/>
<rect x="150.58" y="122.30" width="7.14" height="4.00" fill="#3A5E7F" stroke="none" stroke-width="0"/>
<rect x="157.72" y="92.10" width="7.14" height="28.49" fill="#DE5D4A" stroke="none" stroke-width="0"/>
<rect x="157.72" y="120.59" width="7.14" height="5.71" fill="#3A5E7F" stroke="none" stroke-width="0"/>
<rect x="164.86" y="92.10" width="7.14" height="30.64" fill="#DE5D4A" stroke="none" stroke-width="0"/>
<rect x="164.86" y="122.74" width="7.14" height="3.56" fill="#3A5E7F" stroke="none" stroke-width="0"/>
<line x1="36.34" y1="92.10" x2="36.34" y2="126.30" stroke="#ffffff" stroke-width="0.95"/>
<line x1="43.48" y1="92.10" x2="43.48" y2="126.30" stroke="#ffffff" stroke-width="0.95"/>
<line x1="50.62" y1="92.10" x2="50.62" y2="126.30" stroke="#ffffff" stroke-width="0.95"/>
<line x1="57.76" y1="92.10" x2="57.76" y2="126.30" stroke="#ffffff" stroke-width="0.95"/>
<line x1="64.90" y1="92.10" x2="64.90" y2="126.30" stroke="#ffffff" stroke-width="0.95"/>
<line x1="72.04" y1="92.10" x2="72.04" y2="126.30" stroke="#ffffff" stroke-width="0.95"/>
<line x1="79.18" y1="92.10" x2="79.18" y2="126.30" stroke="#ffffff" stroke-width="0.95"/>
<line x1="86.32" y1="92.10" x2="86.32" y2="126.30" stroke="#ffffff" stroke-width="0.95"/>
<line x1="93.46" y1="92.10" x2="93.46" y2="126.30" stroke="#ffffff" stroke-width="0.95"/>
<line x1="100.60" y1="92.10" x2="100.60" y2="126.30" stroke="#ffffff" stroke-width="0.95"/>
<line x1="107.74" y1="92.10" x2="107.74" y2="126.30" stroke="#ffffff" stroke-width="0.95"/>
<line x1="114.88" y1="92.10" x2="114.88" y2="126.30" stroke="#ffffff" stroke-width="0.95"/>
<line x1="122.02" y1="92.10" x2="122.02" y2="126.30" stroke="#ffffff" stroke-width="0.95"/>
<line x1="129.16" y1="92.10" x2="129.16" y2="126.30" stroke="#ffffff" stroke-width="0.95"/>
<line x1="136.30" y1="92.10" x2="136.30" y2="126.30" stroke="#ffffff" stroke-width="0.95"/>
<line x1="143.44" y1="92.10" x2="143.44" y2="126.30" stroke="#ffffff" stroke-width="0.95"/>
<line x1="150.58" y1="92.10" x2="150.58" y2="126.30" stroke="#ffffff" stroke-width="0.95"/>
<line x1="157.72" y1="92.10" x2="157.72" y2="126.30" stroke="#ffffff" stroke-width="0.95"/>
<line x1="164.86" y1="92.10" x2="164.86" y2="126.30" stroke="#ffffff" stroke-width="0.95"/>
<line x1="29.20" y1="109.20" x2="172.00" y2="109.20" stroke="#c8c8c8" stroke-width="0.9" stroke-dasharray="2.2,2.2"/>
<rect x="28.50" y="91.00" width="144.20" height="36.80" fill="none" stroke="#3a3a3a" stroke-width="0.85"/>
<line x1="32.77" y1="127.80" x2="32.77" y2="130.00" stroke="#2a2a2a" stroke-width="0.65"/>
<line x1="39.91" y1="127.80" x2="39.91" y2="130.00" stroke="#2a2a2a" stroke-width="0.65"/>
<line x1="47.05" y1="127.80" x2="47.05" y2="130.00" stroke="#2a2a2a" stroke-width="0.65"/>
<line x1="54.19" y1="127.80" x2="54.19" y2="130.00" stroke="#2a2a2a" stroke-width="0.65"/>
<line x1="61.33" y1="127.80" x2="61.33" y2="130.00" stroke="#2a2a2a" stroke-width="0.65"/>
<line x1="68.47" y1="127.80" x2="68.47" y2="130.00" stroke="#2a2a2a" stroke-width="0.65"/>
<line x1="75.61" y1="127.80" x2="75.61" y2="130.00" stroke="#2a2a2a" stroke-width="0.65"/>
<line x1="82.75" y1="127.80" x2="82.75" y2="130.00" stroke="#2a2a2a" stroke-width="0.65"/>
<line x1="89.89" y1="127.80" x2="89.89" y2="130.00" stroke="#2a2a2a" stroke-width="0.65"/>
<line x1="97.03" y1="127.80" x2="97.03" y2="130.00" stroke="#2a2a2a" stroke-width="0.65"/>
<line x1="104.17" y1="127.80" x2="104.17" y2="130.00" stroke="#2a2a2a" stroke-width="0.65"/>
<line x1="111.31" y1="127.80" x2="111.31" y2="130.00" stroke="#2a2a2a" stroke-width="0.65"/>
<line x1="118.45" y1="127.80" x2="118.45" y2="130.00" stroke="#2a2a2a" stroke-width="0.65"/>
<line x1="125.59" y1="127.80" x2="125.59" y2="130.00" stroke="#2a2a2a" stroke-width="0.65"/>
<line x1="132.73" y1="127.80" x2="132.73" y2="130.00" stroke="#2a2a2a" stroke-width="0.65"/>
<line x1="139.87" y1="127.80" x2="139.87" y2="130.00" stroke="#2a2a2a" stroke-width="0.65"/>
<line x1="147.01" y1="127.80" x2="147.01" y2="130.00" stroke="#2a2a2a" stroke-width="0.65"/>
<line x1="154.15" y1="127.80" x2="154.15" y2="130.00" stroke="#2a2a2a" stroke-width="0.65"/>
<line x1="161.29" y1="127.80" x2="161.29" y2="130.00" stroke="#2a2a2a" stroke-width="0.65"/>
<line x1="168.43" y1="127.80" x2="168.43" y2="130.00" stroke="#2a2a2a" stroke-width="0.65"/>
<line x1="26.50" y1="126.30" x2="28.50" y2="126.30" stroke="#333" stroke-width="0.7"/>
<line x1="26.50" y1="117.75" x2="28.50" y2="117.75" stroke="#333" stroke-width="0.7"/>
<line x1="26.50" y1="109.20" x2="28.50" y2="109.20" stroke="#333" stroke-width="0.7"/>
<line x1="26.50" y1="100.65" x2="28.50" y2="100.65" stroke="#333" stroke-width="0.7"/>
<line x1="26.50" y1="92.10" x2="28.50" y2="92.10" stroke="#333" stroke-width="0.7"/>
<text x="24.20" y="129.50" font-size="8.0" text-anchor="end" fill="#222" stroke="#222" stroke-width="0.14">0.0</text>
<text x="24.20" y="112.40" font-size="8.0" text-anchor="end" fill="#222" stroke="#222" stroke-width="0.14">0.5</text>
<text x="24.20" y="95.30" font-size="8.0" text-anchor="end" fill="#222" stroke="#222" stroke-width="0.14">1.0</text>
<text x="0.00" y="0.00" font-size="8.3" text-anchor="middle" fill="#1a1a1a" transform="translate(8.40,110.20) rotate(-90)" stroke="#1a1a1a" stroke-width="0.14">Arm ratio</text>
<text x="79.10" y="87.00" font-size="8" text-anchor="start" fill="#1a1a1a" stroke="#1a1a1a" stroke-width="0.14">pre-mir-361</text>
<rect x="179.60" y="91.00" width="146.40" height="36.80" fill="#fff" stroke="none" stroke-width="0"/>
<rect x="180.90" y="92.10" width="8.01" height="27.50" fill="#DE5D4A" stroke="none" stroke-width="0"/>
<rect x="180.90" y="119.60" width="8.01" height="6.70" fill="#3A5E7F" stroke="none" stroke-width="0"/>
<rect x="188.91" y="92.10" width="8.01" height="30.95" fill="#DE5D4A" stroke="none" stroke-width="0"/>
<rect x="188.91" y="123.05" width="8.01" height="3.25" fill="#3A5E7F" stroke="none" stroke-width="0"/>
<rect x="196.92" y="92.10" width="8.01" height="27.70" fill="#DE5D4A" stroke="none" stroke-width="0"/>
<rect x="196.92" y="119.80" width="8.01" height="6.50" fill="#3A5E7F" stroke="none" stroke-width="0"/>
<rect x="204.93" y="92.10" width="8.01" height="28.35" fill="#DE5D4A" stroke="none" stroke-width="0"/>
<rect x="204.93" y="120.45" width="8.01" height="5.85" fill="#3A5E7F" stroke="none" stroke-width="0"/>
<rect x="212.94" y="92.10" width="8.01" height="26.40" fill="#DE5D4A" stroke="none" stroke-width="0"/>
<rect x="212.94" y="118.50" width="8.01" height="7.80" fill="#3A5E7F" stroke="none" stroke-width="0"/>
<rect x="220.96" y="92.10" width="8.01" height="30.95" fill="#DE5D4A" stroke="none" stroke-width="0"/>
<rect x="220.96" y="123.05" width="8.01" height="3.25" fill="#3A5E7F" stroke="none" stroke-width="0"/>
<rect x="228.97" y="92.10" width="8.01" height="28.35" fill="#DE5D4A" stroke="none" stroke-width="0"/>
<rect x="228.97" y="120.45" width="8.01" height="5.85" fill="#3A5E7F" stroke="none" stroke-width="0"/>
<rect x="236.98" y="92.10" width="8.01" height="29.00" fill="#DE5D4A" stroke="none" stroke-width="0"/>
<rect x="236.98" y="121.10" width="8.01" height="5.20" fill="#3A5E7F" stroke="none" stroke-width="0"/>
<rect x="244.99" y="92.10" width="8.01" height="22.78" fill="#DE5D4A" stroke="none" stroke-width="0"/>
<rect x="244.99" y="114.88" width="8.01" height="11.42" fill="#3A5E7F" stroke="none" stroke-width="0"/>
<rect x="253.00" y="92.10" width="8.01" height="26.20" fill="#DE5D4A" stroke="none" stroke-width="0"/>
<rect x="253.00" y="118.30" width="8.01" height="8.00" fill="#3A5E7F" stroke="none" stroke-width="0"/>
<rect x="261.01" y="92.10" width="8.01" height="27.05" fill="#DE5D4A" stroke="none" stroke-width="0"/>
<rect x="261.01" y="119.15" width="8.01" height="7.15" fill="#3A5E7F" stroke="none" stroke-width="0"/>
<rect x="269.02" y="92.10" width="8.01" height="28.80" fill="#DE5D4A" stroke="none" stroke-width="0"/>
<rect x="269.02" y="120.90" width="8.01" height="5.40" fill="#3A5E7F" stroke="none" stroke-width="0"/>
<rect x="277.03" y="92.10" width="8.01" height="30.51" fill="#DE5D4A" stroke="none" stroke-width="0"/>
<rect x="277.03" y="122.61" width="8.01" height="3.69" fill="#3A5E7F" stroke="none" stroke-width="0"/>
<rect x="285.04" y="92.10" width="8.01" height="27.29" fill="#DE5D4A" stroke="none" stroke-width="0"/>
<rect x="285.04" y="119.39" width="8.01" height="6.91" fill="#3A5E7F" stroke="none" stroke-width="0"/>
<rect x="293.06" y="92.10" width="8.01" height="30.30" fill="#DE5D4A" stroke="none" stroke-width="0"/>
<rect x="293.06" y="122.40" width="8.01" height="3.90" fill="#3A5E7F" stroke="none" stroke-width="0"/>
<rect x="301.07" y="92.10" width="8.01" height="22.78" fill="#DE5D4A" stroke="none" stroke-width="0"/>
<rect x="301.07" y="114.88" width="8.01" height="11.42" fill="#3A5E7F" stroke="none" stroke-width="0"/>
<rect x="309.08" y="92.10" width="8.01" height="27.05" fill="#DE5D4A" stroke="none" stroke-width="0"/>
<rect x="309.08" y="119.15" width="8.01" height="7.15" fill="#3A5E7F" stroke="none" stroke-width="0"/>
<rect x="317.09" y="92.10" width="8.01" height="28.15" fill="#DE5D4A" stroke="none" stroke-width="0"/>
<rect x="317.09" y="120.25" width="8.01" height="6.05" fill="#3A5E7F" stroke="none" stroke-width="0"/>
<line x1="188.91" y1="92.10" x2="188.91" y2="126.30" stroke="#ffffff" stroke-width="0.95"/>
<line x1="196.92" y1="92.10" x2="196.92" y2="126.30" stroke="#ffffff" stroke-width="0.95"/>
<line x1="204.93" y1="92.10" x2="204.93" y2="126.30" stroke="#ffffff" stroke-width="0.95"/>
<line x1="212.94" y1="92.10" x2="212.94" y2="126.30" stroke="#ffffff" stroke-width="0.95"/>
<line x1="220.96" y1="92.10" x2="220.96" y2="126.30" stroke="#ffffff" stroke-width="0.95"/>
<line x1="228.97" y1="92.10" x2="228.97" y2="126.30" stroke="#ffffff" stroke-width="0.95"/>
<line x1="236.98" y1="92.10" x2="236.98" y2="126.30" stroke="#ffffff" stroke-width="0.95"/>
<line x1="244.99" y1="92.10" x2="244.99" y2="126.30" stroke="#ffffff" stroke-width="0.95"/>
<line x1="253.00" y1="92.10" x2="253.00" y2="126.30" stroke="#ffffff" stroke-width="0.95"/>
<line x1="261.01" y1="92.10" x2="261.01" y2="126.30" stroke="#ffffff" stroke-width="0.95"/>
<line x1="269.02" y1="92.10" x2="269.02" y2="126.30" stroke="#ffffff" stroke-width="0.95"/>
<line x1="277.03" y1="92.10" x2="277.03" y2="126.30" stroke="#ffffff" stroke-width="0.95"/>
<line x1="285.04" y1="92.10" x2="285.04" y2="126.30" stroke="#ffffff" stroke-width="0.95"/>
<line x1="293.06" y1="92.10" x2="293.06" y2="126.30" stroke="#ffffff" stroke-width="0.95"/>
<line x1="301.07" y1="92.10" x2="301.07" y2="126.30" stroke="#ffffff" stroke-width="0.95"/>
<line x1="309.08" y1="92.10" x2="309.08" y2="126.30" stroke="#ffffff" stroke-width="0.95"/>
<line x1="317.09" y1="92.10" x2="317.09" y2="126.30" stroke="#ffffff" stroke-width="0.95"/>
<line x1="180.90" y1="109.20" x2="325.10" y2="109.20" stroke="#c8c8c8" stroke-width="0.9" stroke-dasharray="2.2,2.2"/>
<rect x="179.60" y="91.00" width="146.40" height="36.80" fill="none" stroke="#3a3a3a" stroke-width="0.85"/>
<line x1="184.91" y1="127.80" x2="184.91" y2="130.00" stroke="#2a2a2a" stroke-width="0.65"/>
<line x1="192.92" y1="127.80" x2="192.92" y2="130.00" stroke="#2a2a2a" stroke-width="0.65"/>
<line x1="200.93" y1="127.80" x2="200.93" y2="130.00" stroke="#2a2a2a" stroke-width="0.65"/>
<line x1="208.94" y1="127.80" x2="208.94" y2="130.00" stroke="#2a2a2a" stroke-width="0.65"/>
<line x1="216.95" y1="127.80" x2="216.95" y2="130.00" stroke="#2a2a2a" stroke-width="0.65"/>
<line x1="224.96" y1="127.80" x2="224.96" y2="130.00" stroke="#2a2a2a" stroke-width="0.65"/>
<line x1="232.97" y1="127.80" x2="232.97" y2="130.00" stroke="#2a2a2a" stroke-width="0.65"/>
<line x1="240.98" y1="127.80" x2="240.98" y2="130.00" stroke="#2a2a2a" stroke-width="0.65"/>
<line x1="248.99" y1="127.80" x2="248.99" y2="130.00" stroke="#2a2a2a" stroke-width="0.65"/>
<line x1="257.01" y1="127.80" x2="257.01" y2="130.00" stroke="#2a2a2a" stroke-width="0.65"/>
<line x1="265.02" y1="127.80" x2="265.02" y2="130.00" stroke="#2a2a2a" stroke-width="0.65"/>
<line x1="273.03" y1="127.80" x2="273.03" y2="130.00" stroke="#2a2a2a" stroke-width="0.65"/>
<line x1="281.04" y1="127.80" x2="281.04" y2="130.00" stroke="#2a2a2a" stroke-width="0.65"/>
<line x1="289.05" y1="127.80" x2="289.05" y2="130.00" stroke="#2a2a2a" stroke-width="0.65"/>
<line x1="297.06" y1="127.80" x2="297.06" y2="130.00" stroke="#2a2a2a" stroke-width="0.65"/>
<line x1="305.07" y1="127.80" x2="305.07" y2="130.00" stroke="#2a2a2a" stroke-width="0.65"/>
<line x1="313.08" y1="127.80" x2="313.08" y2="130.00" stroke="#2a2a2a" stroke-width="0.65"/>
<line x1="321.09" y1="127.80" x2="321.09" y2="130.00" stroke="#2a2a2a" stroke-width="0.65"/>
<text x="230.50" y="86.70" font-size="8" text-anchor="start" fill="#1a1a1a" stroke="#1a1a1a" stroke-width="0.14">pre-mir-361</text>
<rect x="332.50" y="91.00" width="146.20" height="36.80" fill="#fff" stroke="none" stroke-width="0"/>
<rect x="333.10" y="92.10" width="6.90" height="6.57" fill="#DE5D4A" stroke="none" stroke-width="0"/>
<rect x="333.10" y="98.67" width="6.90" height="27.63" fill="#3A5E7F" stroke="none" stroke-width="0"/>
<rect x="340.00" y="92.10" width="6.90" height="5.88" fill="#DE5D4A" stroke="none" stroke-width="0"/>
<rect x="340.00" y="97.98" width="6.90" height="28.32" fill="#3A5E7F" stroke="none" stroke-width="0"/>
<rect x="346.90" y="92.10" width="6.90" height="5.88" fill="#DE5D4A" stroke="none" stroke-width="0"/>
<rect x="346.90" y="97.98" width="6.90" height="28.32" fill="#3A5E7F" stroke="none" stroke-width="0"/>
<rect x="353.80" y="92.10" width="6.90" height="5.88" fill="#DE5D4A" stroke="none" stroke-width="0"/>
<rect x="353.80" y="97.98" width="6.90" height="28.32" fill="#3A5E7F" stroke="none" stroke-width="0"/>
<rect x="360.70" y="92.10" width="6.90" height="5.88" fill="#DE5D4A" stroke="none" stroke-width="0"/>
<rect x="360.70" y="97.98" width="6.90" height="28.32" fill="#3A5E7F" stroke="none" stroke-width="0"/>
<rect x="367.60" y="92.10" width="6.90" height="5.23" fill="#DE5D4A" stroke="none" stroke-width="0"/>
<rect x="367.60" y="97.33" width="6.90" height="28.97" fill="#3A5E7F" stroke="none" stroke-width="0"/>
<rect x="374.50" y="92.10" width="6.90" height="5.03" fill="#DE5D4A" stroke="none" stroke-width="0"/>
<rect x="374.50" y="97.13" width="6.90" height="29.17" fill="#3A5E7F" stroke="none" stroke-width="0"/>
<rect x="381.40" y="92.10" width="6.90" height="6.12" fill="#DE5D4A" stroke="none" stroke-width="0"/>
<rect x="381.40" y="98.22" width="6.90" height="28.08" fill="#3A5E7F" stroke="none" stroke-width="0"/>
<rect x="388.30" y="92.10" width="6.90" height="5.03" fill="#DE5D4A" stroke="none" stroke-width="0"/>
<rect x="388.30" y="97.13" width="6.90" height="29.17" fill="#3A5E7F" stroke="none" stroke-width="0"/>
<rect x="395.20" y="92.10" width="6.90" height="7.66" fill="#DE5D4A" stroke="none" stroke-width="0"/>
<rect x="395.20" y="99.76" width="6.90" height="26.54" fill="#3A5E7F" stroke="none" stroke-width="0"/>
<rect x="402.10" y="92.10" width="6.90" height="6.12" fill="#DE5D4A" stroke="none" stroke-width="0"/>
<rect x="402.10" y="98.22" width="6.90" height="28.08" fill="#3A5E7F" stroke="none" stroke-width="0"/>
<rect x="409.00" y="92.10" width="6.90" height="6.33" fill="#DE5D4A" stroke="none" stroke-width="0"/>
<rect x="409.00" y="98.43" width="6.90" height="27.87" fill="#3A5E7F" stroke="none" stroke-width="0"/>
<rect x="415.90" y="92.10" width="6.90" height="6.12" fill="#DE5D4A" stroke="none" stroke-width="0"/>
<rect x="415.90" y="98.22" width="6.90" height="28.08" fill="#3A5E7F" stroke="none" stroke-width="0"/>
<rect x="422.80" y="92.10" width="6.90" height="6.77" fill="#DE5D4A" stroke="none" stroke-width="0"/>
<rect x="422.80" y="98.87" width="6.90" height="27.43" fill="#3A5E7F" stroke="none" stroke-width="0"/>
<rect x="429.70" y="92.10" width="6.90" height="6.98" fill="#DE5D4A" stroke="none" stroke-width="0"/>
<rect x="429.70" y="99.08" width="6.90" height="27.22" fill="#3A5E7F" stroke="none" stroke-width="0"/>
<rect x="436.60" y="92.10" width="6.90" height="6.98" fill="#DE5D4A" stroke="none" stroke-width="0"/>
<rect x="436.60" y="99.08" width="6.90" height="27.22" fill="#3A5E7F" stroke="none" stroke-width="0"/>
<rect x="443.50" y="92.10" width="6.90" height="5.88" fill="#DE5D4A" stroke="none" stroke-width="0"/>
<rect x="443.50" y="97.98" width="6.90" height="28.32" fill="#3A5E7F" stroke="none" stroke-width="0"/>
<rect x="450.40" y="92.10" width="6.90" height="8.72" fill="#DE5D4A" stroke="none" stroke-width="0"/>
<rect x="450.40" y="100.82" width="6.90" height="25.48" fill="#3A5E7F" stroke="none" stroke-width="0"/>
<rect x="457.30" y="92.10" width="6.90" height="5.03" fill="#DE5D4A" stroke="none" stroke-width="0"/>
<rect x="457.30" y="97.13" width="6.90" height="29.17" fill="#3A5E7F" stroke="none" stroke-width="0"/>
<rect x="464.20" y="92.10" width="6.90" height="5.03" fill="#DE5D4A" stroke="none" stroke-width="0"/>
<rect x="464.20" y="97.13" width="6.90" height="29.17" fill="#3A5E7F" stroke="none" stroke-width="0"/>
<rect x="471.10" y="92.10" width="6.90" height="5.88" fill="#DE5D4A" stroke="none" stroke-width="0"/>
<rect x="471.10" y="97.98" width="6.90" height="28.32" fill="#3A5E7F" stroke="none" stroke-width="0"/>
<line x1="340.00" y1="92.10" x2="340.00" y2="126.30" stroke="#ffffff" stroke-width="0.95"/>
<line x1="346.90" y1="92.10" x2="346.90" y2="126.30" stroke="#ffffff" stroke-width="0.95"/>
<line x1="353.80" y1="92.10" x2="353.80" y2="126.30" stroke="#ffffff" stroke-width="0.95"/>
<line x1="360.70" y1="92.10" x2="360.70" y2="126.30" stroke="#ffffff" stroke-width="0.95"/>
<line x1="367.60" y1="92.10" x2="367.60" y2="126.30" stroke="#ffffff" stroke-width="0.95"/>
<line x1="374.50" y1="92.10" x2="374.50" y2="126.30" stroke="#ffffff" stroke-width="0.95"/>
<line x1="381.40" y1="92.10" x2="381.40" y2="126.30" stroke="#ffffff" stroke-width="0.95"/>
<line x1="388.30" y1="92.10" x2="388.30" y2="126.30" stroke="#ffffff" stroke-width="0.95"/>
<line x1="395.20" y1="92.10" x2="395.20" y2="126.30" stroke="#ffffff" stroke-width="0.95"/>
<line x1="402.10" y1="92.10" x2="402.10" y2="126.30" stroke="#ffffff" stroke-width="0.95"/>
<line x1="409.00" y1="92.10" x2="409.00" y2="126.30" stroke="#ffffff" stroke-width="0.95"/>
<line x1="415.90" y1="92.10" x2="415.90" y2="126.30" stroke="#ffffff" stroke-width="0.95"/>
<line x1="422.80" y1="92.10" x2="422.80" y2="126.30" stroke="#ffffff" stroke-width="0.95"/>
<line x1="429.70" y1="92.10" x2="429.70" y2="126.30" stroke="#ffffff" stroke-width="0.95"/>
<line x1="436.60" y1="92.10" x2="436.60" y2="126.30" stroke="#ffffff" stroke-width="0.95"/>
<line x1="443.50" y1="92.10" x2="443.50" y2="126.30" stroke="#ffffff" stroke-width="0.95"/>
<line x1="450.40" y1="92.10" x2="450.40" y2="126.30" stroke="#ffffff" stroke-width="0.95"/>
<line x1="457.30" y1="92.10" x2="457.30" y2="126.30" stroke="#ffffff" stroke-width="0.95"/>
<line x1="464.20" y1="92.10" x2="464.20" y2="126.30" stroke="#ffffff" stroke-width="0.95"/>
<line x1="471.10" y1="92.10" x2="471.10" y2="126.30" stroke="#ffffff" stroke-width="0.95"/>
<line x1="333.10" y1="109.20" x2="478.00" y2="109.20" stroke="#c8c8c8" stroke-width="0.9" stroke-dasharray="2.2,2.2"/>
<rect x="332.50" y="91.00" width="146.20" height="36.80" fill="none" stroke="#3a3a3a" stroke-width="0.85"/>
<line x1="336.55" y1="127.80" x2="336.55" y2="130.00" stroke="#2a2a2a" stroke-width="0.65"/>
<line x1="343.45" y1="127.80" x2="343.45" y2="130.00" stroke="#2a2a2a" stroke-width="0.65"/>
<line x1="350.35" y1="127.80" x2="350.35" y2="130.00" stroke="#2a2a2a" stroke-width="0.65"/>
<line x1="357.25" y1="127.80" x2="357.25" y2="130.00" stroke="#2a2a2a" stroke-width="0.65"/>
<line x1="364.15" y1="127.80" x2="364.15" y2="130.00" stroke="#2a2a2a" stroke-width="0.65"/>
<line x1="371.05" y1="127.80" x2="371.05" y2="130.00" stroke="#2a2a2a" stroke-width="0.65"/>
<line x1="377.95" y1="127.80" x2="377.95" y2="130.00" stroke="#2a2a2a" stroke-width="0.65"/>
<line x1="384.85" y1="127.80" x2="384.85" y2="130.00" stroke="#2a2a2a" stroke-width="0.65"/>
<line x1="391.75" y1="127.80" x2="391.75" y2="130.00" stroke="#2a2a2a" stroke-width="0.65"/>
<line x1="398.65" y1="127.80" x2="398.65" y2="130.00" stroke="#2a2a2a" stroke-width="0.65"/>
<line x1="405.55" y1="127.80" x2="405.55" y2="130.00" stroke="#2a2a2a" stroke-width="0.65"/>
<line x1="412.45" y1="127.80" x2="412.45" y2="130.00" stroke="#2a2a2a" stroke-width="0.65"/>
<line x1="419.35" y1="127.80" x2="419.35" y2="130.00" stroke="#2a2a2a" stroke-width="0.65"/>
<line x1="426.25" y1="127.80" x2="426.25" y2="130.00" stroke="#2a2a2a" stroke-width="0.65"/>
<line x1="433.15" y1="127.80" x2="433.15" y2="130.00" stroke="#2a2a2a" stroke-width="0.65"/>
<line x1="440.05" y1="127.80" x2="440.05" y2="130.00" stroke="#2a2a2a" stroke-width="0.65"/>
<line x1="446.95" y1="127.80" x2="446.95" y2="130.00" stroke="#2a2a2a" stroke-width="0.65"/>
<line x1="453.85" y1="127.80" x2="453.85" y2="130.00" stroke="#2a2a2a" stroke-width="0.65"/>
<line x1="460.75" y1="127.80" x2="460.75" y2="130.00" stroke="#2a2a2a" stroke-width="0.65"/>
<line x1="467.65" y1="127.80" x2="467.65" y2="130.00" stroke="#2a2a2a" stroke-width="0.65"/>
<line x1="474.55" y1="127.80" x2="474.55" y2="130.00" stroke="#2a2a2a" stroke-width="0.65"/>
<text x="382.50" y="86.50" font-size="8" text-anchor="start" font-weight="bold" fill="#B8232F">pre-mir-423</text>
<rect x="486.30" y="91.00" width="146.60" height="36.80" fill="#fff" stroke="none" stroke-width="0"/>
<rect x="486.90" y="92.10" width="6.91" height="33.52" fill="#DE5D4A" stroke="none" stroke-width="0"/>
<rect x="486.90" y="125.62" width="6.91" height="0.68" fill="#3A5E7F" stroke="none" stroke-width="0"/>
<rect x="493.81" y="92.10" width="6.91" height="33.52" fill="#DE5D4A" stroke="none" stroke-width="0"/>
<rect x="493.81" y="125.62" width="6.91" height="0.68" fill="#3A5E7F" stroke="none" stroke-width="0"/>
<rect x="500.73" y="92.10" width="6.91" height="33.52" fill="#DE5D4A" stroke="none" stroke-width="0"/>
<rect x="500.73" y="125.62" width="6.91" height="0.68" fill="#3A5E7F" stroke="none" stroke-width="0"/>
<rect x="507.64" y="92.10" width="6.91" height="33.17" fill="#DE5D4A" stroke="none" stroke-width="0"/>
<rect x="507.64" y="125.27" width="6.91" height="1.03" fill="#3A5E7F" stroke="none" stroke-width="0"/>
<rect x="514.56" y="92.10" width="6.91" height="33.52" fill="#DE5D4A" stroke="none" stroke-width="0"/>
<rect x="514.56" y="125.62" width="6.91" height="0.68" fill="#3A5E7F" stroke="none" stroke-width="0"/>
<rect x="521.47" y="92.10" width="6.91" height="33.52" fill="#DE5D4A" stroke="none" stroke-width="0"/>
<rect x="521.47" y="125.62" width="6.91" height="0.68" fill="#3A5E7F" stroke="none" stroke-width="0"/>
<rect x="528.39" y="92.10" width="6.91" height="33.34" fill="#DE5D4A" stroke="none" stroke-width="0"/>
<rect x="528.39" y="125.44" width="6.91" height="0.86" fill="#3A5E7F" stroke="none" stroke-width="0"/>
<rect x="535.30" y="92.10" width="6.91" height="33.52" fill="#DE5D4A" stroke="none" stroke-width="0"/>
<rect x="535.30" y="125.62" width="6.91" height="0.68" fill="#3A5E7F" stroke="none" stroke-width="0"/>
<rect x="542.21" y="92.10" width="6.91" height="33.52" fill="#DE5D4A" stroke="none" stroke-width="0"/>
<rect x="542.21" y="125.62" width="6.91" height="0.68" fill="#3A5E7F" stroke="none" stroke-width="0"/>
<rect x="549.13" y="92.10" width="6.91" height="32.66" fill="#DE5D4A" stroke="none" stroke-width="0"/>
<rect x="549.13" y="124.76" width="6.91" height="1.54" fill="#3A5E7F" stroke="none" stroke-width="0"/>
<rect x="556.04" y="92.10" width="6.91" height="33.52" fill="#DE5D4A" stroke="none" stroke-width="0"/>
<rect x="556.04" y="125.62" width="6.91" height="0.68" fill="#3A5E7F" stroke="none" stroke-width="0"/>
<rect x="562.96" y="92.10" width="6.91" height="33.52" fill="#DE5D4A" stroke="none" stroke-width="0"/>
<rect x="562.96" y="125.62" width="6.91" height="0.68" fill="#3A5E7F" stroke="none" stroke-width="0"/>
<rect x="569.87" y="92.10" width="6.91" height="33.86" fill="#DE5D4A" stroke="none" stroke-width="0"/>
<rect x="569.87" y="125.96" width="6.91" height="0.34" fill="#3A5E7F" stroke="none" stroke-width="0"/>
<rect x="576.79" y="92.10" width="6.91" height="33.17" fill="#DE5D4A" stroke="none" stroke-width="0"/>
<rect x="576.79" y="125.27" width="6.91" height="1.03" fill="#3A5E7F" stroke="none" stroke-width="0"/>
<rect x="583.70" y="92.10" width="6.91" height="33.17" fill="#DE5D4A" stroke="none" stroke-width="0"/>
<rect x="583.70" y="125.27" width="6.91" height="1.03" fill="#3A5E7F" stroke="none" stroke-width="0"/>
<rect x="590.61" y="92.10" width="6.91" height="33.17" fill="#DE5D4A" stroke="none" stroke-width="0"/>
<rect x="590.61" y="125.27" width="6.91" height="1.03" fill="#3A5E7F" stroke="none" stroke-width="0"/>
<rect x="597.53" y="92.10" width="6.91" height="33.86" fill="#DE5D4A" stroke="none" stroke-width="0"/>
<rect x="597.53" y="125.96" width="6.91" height="0.34" fill="#3A5E7F" stroke="none" stroke-width="0"/>
<rect x="604.44" y="92.10" width="6.91" height="32.83" fill="#DE5D4A" stroke="none" stroke-width="0"/>
<rect x="604.44" y="124.93" width="6.91" height="1.37" fill="#3A5E7F" stroke="none" stroke-width="0"/>
<rect x="611.36" y="92.10" width="6.91" height="33.17" fill="#DE5D4A" stroke="none" stroke-width="0"/>
<rect x="611.36" y="125.27" width="6.91" height="1.03" fill="#3A5E7F" stroke="none" stroke-width="0"/>
<rect x="618.27" y="92.10" width="6.91" height="33.34" fill="#DE5D4A" stroke="none" stroke-width="0"/>
<rect x="618.27" y="125.44" width="6.91" height="0.86" fill="#3A5E7F" stroke="none" stroke-width="0"/>
<rect x="625.19" y="92.10" width="6.91" height="33.52" fill="#DE5D4A" stroke="none" stroke-width="0"/>
<rect x="625.19" y="125.62" width="6.91" height="0.68" fill="#3A5E7F" stroke="none" stroke-width="0"/>
<line x1="493.81" y1="92.10" x2="493.81" y2="126.30" stroke="#ffffff" stroke-width="0.95"/>
<line x1="500.73" y1="92.10" x2="500.73" y2="126.30" stroke="#ffffff" stroke-width="0.95"/>
<line x1="507.64" y1="92.10" x2="507.64" y2="126.30" stroke="#ffffff" stroke-width="0.95"/>
<line x1="514.56" y1="92.10" x2="514.56" y2="126.30" stroke="#ffffff" stroke-width="0.95"/>
<line x1="521.47" y1="92.10" x2="521.47" y2="126.30" stroke="#ffffff" stroke-width="0.95"/>
<line x1="528.39" y1="92.10" x2="528.39" y2="126.30" stroke="#ffffff" stroke-width="0.95"/>
<line x1="535.30" y1="92.10" x2="535.30" y2="126.30" stroke="#ffffff" stroke-width="0.95"/>
<line x1="542.21" y1="92.10" x2="542.21" y2="126.30" stroke="#ffffff" stroke-width="0.95"/>
<line x1="549.13" y1="92.10" x2="549.13" y2="126.30" stroke="#ffffff" stroke-width="0.95"/>
<line x1="556.04" y1="92.10" x2="556.04" y2="126.30" stroke="#ffffff" stroke-width="0.95"/>
<line x1="562.96" y1="92.10" x2="562.96" y2="126.30" stroke="#ffffff" stroke-width="0.95"/>
<line x1="569.87" y1="92.10" x2="569.87" y2="126.30" stroke="#ffffff" stroke-width="0.95"/>
<line x1="576.79" y1="92.10" x2="576.79" y2="126.30" stroke="#ffffff" stroke-width="0.95"/>
<line x1="583.70" y1="92.10" x2="583.70" y2="126.30" stroke="#ffffff" stroke-width="0.95"/>
<line x1="590.61" y1="92.10" x2="590.61" y2="126.30" stroke="#ffffff" stroke-width="0.95"/>
<line x1="597.53" y1="92.10" x2="597.53" y2="126.30" stroke="#ffffff" stroke-width="0.95"/>
<line x1="604.44" y1="92.10" x2="604.44" y2="126.30" stroke="#ffffff" stroke-width="0.95"/>
<line x1="611.36" y1="92.10" x2="611.36" y2="126.30" stroke="#ffffff" stroke-width="0.95"/>
<line x1="618.27" y1="92.10" x2="618.27" y2="126.30" stroke="#ffffff" stroke-width="0.95"/>
<line x1="625.19" y1="92.10" x2="625.19" y2="126.30" stroke="#ffffff" stroke-width="0.95"/>
<line x1="486.90" y1="109.20" x2="632.10" y2="109.20" stroke="#c8c8c8" stroke-width="0.9" stroke-dasharray="2.2,2.2"/>
<rect x="486.30" y="91.00" width="146.60" height="36.80" fill="none" stroke="#3a3a3a" stroke-width="0.85"/>
<line x1="490.36" y1="127.80" x2="490.36" y2="130.00" stroke="#2a2a2a" stroke-width="0.65"/>
<line x1="497.27" y1="127.80" x2="497.27" y2="130.00" stroke="#2a2a2a" stroke-width="0.65"/>
<line x1="504.19" y1="127.80" x2="504.19" y2="130.00" stroke="#2a2a2a" stroke-width="0.65"/>
<line x1="511.10" y1="127.80" x2="511.10" y2="130.00" stroke="#2a2a2a" stroke-width="0.65"/>
<line x1="518.01" y1="127.80" x2="518.01" y2="130.00" stroke="#2a2a2a" stroke-width="0.65"/>
<line x1="524.93" y1="127.80" x2="524.93" y2="130.00" stroke="#2a2a2a" stroke-width="0.65"/>
<line x1="531.84" y1="127.80" x2="531.84" y2="130.00" stroke="#2a2a2a" stroke-width="0.65"/>
<line x1="538.76" y1="127.80" x2="538.76" y2="130.00" stroke="#2a2a2a" stroke-width="0.65"/>
<line x1="545.67" y1="127.80" x2="545.67" y2="130.00" stroke="#2a2a2a" stroke-width="0.65"/>
<line x1="552.59" y1="127.80" x2="552.59" y2="130.00" stroke="#2a2a2a" stroke-width="0.65"/>
<line x1="559.50" y1="127.80" x2="559.50" y2="130.00" stroke="#2a2a2a" stroke-width="0.65"/>
<line x1="566.41" y1="127.80" x2="566.41" y2="130.00" stroke="#2a2a2a" stroke-width="0.65"/>
<line x1="573.33" y1="127.80" x2="573.33" y2="130.00" stroke="#2a2a2a" stroke-width="0.65"/>
<line x1="580.24" y1="127.80" x2="580.24" y2="130.00" stroke="#2a2a2a" stroke-width="0.65"/>
<line x1="587.16" y1="127.80" x2="587.16" y2="130.00" stroke="#2a2a2a" stroke-width="0.65"/>
<line x1="594.07" y1="127.80" x2="594.07" y2="130.00" stroke="#2a2a2a" stroke-width="0.65"/>
<line x1="600.99" y1="127.80" x2="600.99" y2="130.00" stroke="#2a2a2a" stroke-width="0.65"/>
<line x1="607.90" y1="127.80" x2="607.90" y2="130.00" stroke="#2a2a2a" stroke-width="0.65"/>
<line x1="614.81" y1="127.80" x2="614.81" y2="130.00" stroke="#2a2a2a" stroke-width="0.65"/>
<line x1="621.73" y1="127.80" x2="621.73" y2="130.00" stroke="#2a2a2a" stroke-width="0.65"/>
<line x1="628.64" y1="127.80" x2="628.64" y2="130.00" stroke="#2a2a2a" stroke-width="0.65"/>
<text x="537.50" y="87.20" font-size="8" text-anchor="start" fill="#1a1a1a" stroke="#1a1a1a" stroke-width="0.14">pre-let-7a</text>
<text x="0.00" y="0.00" font-size="6.7" text-anchor="end" fill="#222" transform="translate(492.66,132.70) rotate(-90)" stroke="#222" stroke-width="0.14">A375</text>
<text x="0.00" y="0.00" font-size="6.7" text-anchor="end" fill="#222" transform="translate(499.57,132.70) rotate(-90)" stroke="#222" stroke-width="0.14">A549</text>
<text x="0.00" y="0.00" font-size="6.7" text-anchor="end" fill="#222" transform="translate(506.49,132.70) rotate(-90)" stroke="#222" stroke-width="0.14">Caco-2</text>
<text x="0.00" y="0.00" font-size="6.7" text-anchor="end" fill="#222" transform="translate(513.40,132.70) rotate(-90)" stroke="#222" stroke-width="0.14">DLD-1</text>
<text x="0.00" y="0.00" font-size="6.7" text-anchor="end" fill="#222" transform="translate(520.31,132.70) rotate(-90)" stroke="#222" stroke-width="0.14">HCT116</text>
<text x="0.00" y="0.00" font-size="6.7" text-anchor="end" fill="#222" transform="translate(527.23,132.70) rotate(-90)" stroke="#222" stroke-width="0.14">HEK293</text>
<text x="0.00" y="0.00" font-size="6.7" text-anchor="end" fill="#222" transform="translate(534.14,132.70) rotate(-90)" stroke="#222" stroke-width="0.14">HEK293T</text>
<text x="0.00" y="0.00" font-size="6.7" text-anchor="end" fill="#222" transform="translate(541.06,132.70) rotate(-90)" stroke="#222" stroke-width="0.14">Hela</text>
<text x="0.00" y="0.00" font-size="6.7" text-anchor="end" fill="#222" transform="translate(547.97,132.70) rotate(-90)" stroke="#222" stroke-width="0.14">HepG2</text>
<text x="0.00" y="0.00" font-size="6.7" text-anchor="end" fill="#222" transform="translate(554.89,132.70) rotate(-90)" stroke="#222" stroke-width="0.14">HL60</text>
<text x="0.00" y="0.00" font-size="6.7" text-anchor="end" fill="#222" transform="translate(561.80,132.70) rotate(-90)" stroke="#222" stroke-width="0.14">HT29</text>
<text x="0.00" y="0.00" font-size="6.7" text-anchor="end" fill="#222" transform="translate(568.71,132.70) rotate(-90)" stroke="#222" stroke-width="0.14">Huh7</text>
<text x="0.00" y="0.00" font-size="6.7" text-anchor="end" fill="#222" transform="translate(575.63,132.70) rotate(-90)" stroke="#222" stroke-width="0.14">IMR90</text>
<text x="0.00" y="0.00" font-size="6.7" text-anchor="end" fill="#222" transform="translate(582.54,132.70) rotate(-90)" stroke="#222" stroke-width="0.14">IOSE</text>
<text x="0.00" y="0.00" font-size="6.7" text-anchor="end" fill="#222" transform="translate(589.46,132.70) rotate(-90)" stroke="#222" stroke-width="0.14">Jurkat</text>
<text x="0.00" y="0.00" font-size="6.7" text-anchor="end" fill="#222" transform="translate(596.37,132.70) rotate(-90)" stroke="#222" stroke-width="0.14">K562</text>
<text x="0.00" y="0.00" font-size="6.7" text-anchor="end" fill="#222" transform="translate(603.29,132.70) rotate(-90)" stroke="#222" stroke-width="0.14">MCF-7</text>
<text x="0.00" y="0.00" font-size="6.7" text-anchor="end" fill="#222" transform="translate(610.20,132.70) rotate(-90)" stroke="#222" stroke-width="0.14">MDA-MB-231</text>
<text x="0.00" y="0.00" font-size="6.7" text-anchor="end" fill="#222" transform="translate(617.11,132.70) rotate(-90)" stroke="#222" stroke-width="0.14">SW480</text>
<text x="0.00" y="0.00" font-size="6.7" text-anchor="end" fill="#222" transform="translate(624.03,132.70) rotate(-90)" stroke="#222" stroke-width="0.14">SH-SY5Y</text>
<text x="0.00" y="0.00" font-size="6.7" text-anchor="end" fill="#222" transform="translate(630.94,132.70) rotate(-90)" stroke="#222" stroke-width="0.14">U2OS</text>
<rect x="28.50" y="143.30" width="144.20" height="40.20" fill="#fff" stroke="none" stroke-width="0"/>
<rect x="29.20" y="145.30" width="7.14" height="36.80" fill="#DE5D4A" stroke="none" stroke-width="0"/>
<rect x="36.34" y="145.30" width="7.14" height="36.80" fill="#DE5D4A" stroke="none" stroke-width="0"/>
<rect x="43.48" y="145.30" width="7.14" height="36.80" fill="#DE5D4A" stroke="none" stroke-width="0"/>
<rect x="50.62" y="145.30" width="7.14" height="36.80" fill="#DE5D4A" stroke="none" stroke-width="0"/>
<rect x="57.76" y="145.30" width="7.14" height="36.80" fill="#DE5D4A" stroke="none" stroke-width="0"/>
<rect x="64.90" y="145.30" width="7.14" height="36.80" fill="#DE5D4A" stroke="none" stroke-width="0"/>
<rect x="72.04" y="145.30" width="7.14" height="36.80" fill="#DE5D4A" stroke="none" stroke-width="0"/>
<rect x="79.18" y="145.30" width="7.14" height="36.80" fill="#DE5D4A" stroke="none" stroke-width="0"/>
<rect x="86.32" y="145.30" width="7.14" height="36.80" fill="#DE5D4A" stroke="none" stroke-width="0"/>
<rect x="93.46" y="145.30" width="7.14" height="36.80" fill="#DE5D4A" stroke="none" stroke-width="0"/>
<rect x="100.60" y="145.30" width="7.14" height="36.80" fill="#DE5D4A" stroke="none" stroke-width="0"/>
<rect x="107.74" y="145.30" width="7.14" height="36.80" fill="#DE5D4A" stroke="none" stroke-width="0"/>
<rect x="114.88" y="145.30" width="7.14" height="36.80" fill="#DE5D4A" stroke="none" stroke-width="0"/>
<rect x="122.02" y="145.30" width="7.14" height="36.80" fill="#DE5D4A" stroke="none" stroke-width="0"/>
<rect x="129.16" y="145.30" width="7.14" height="36.80" fill="#DE5D4A" stroke="none" stroke-width="0"/>
<rect x="136.30" y="145.30" width="7.14" height="36.80" fill="#DE5D4A" stroke="none" stroke-width="0"/>
<rect x="143.44" y="145.30" width="7.14" height="36.80" fill="#DE5D4A" stroke="none" stroke-width="0"/>
<rect x="150.58" y="145.30" width="7.14" height="36.80" fill="#DE5D4A" stroke="none" stroke-width="0"/>
<rect x="157.72" y="145.30" width="7.14" height="36.80" fill="#DE5D4A" stroke="none" stroke-width="0"/>
<rect x="164.86" y="145.30" width="7.14" height="36.80" fill="#DE5D4A" stroke="none" stroke-width="0"/>
<line x1="36.34" y1="145.30" x2="36.34" y2="182.10" stroke="#ffffff" stroke-width="0.95"/>
<line x1="43.48" y1="145.30" x2="43.48" y2="182.10" stroke="#ffffff" stroke-width="0.95"/>
<line x1="50.62" y1="145.30" x2="50.62" y2="182.10" stroke="#ffffff" stroke-width="0.95"/>
<line x1="57.76" y1="145.30" x2="57.76" y2="182.10" stroke="#ffffff" stroke-width="0.95"/>
<line x1="64.90" y1="145.30" x2="64.90" y2="182.10" stroke="#ffffff" stroke-width="0.95"/>
<line x1="72.04" y1="145.30" x2="72.04" y2="182.10" stroke="#ffffff" stroke-width="0.95"/>
<line x1="79.18" y1="145.30" x2="79.18" y2="182.10" stroke="#ffffff" stroke-width="0.95"/>
<line x1="86.32" y1="145.30" x2="86.32" y2="182.10" stroke="#ffffff" stroke-width="0.95"/>
<line x1="93.46" y1="145.30" x2="93.46" y2="182.10" stroke="#ffffff" stroke-width="0.95"/>
<line x1="100.60" y1="145.30" x2="100.60" y2="182.10" stroke="#ffffff" stroke-width="0.95"/>
<line x1="107.74" y1="145.30" x2="107.74" y2="182.10" stroke="#ffffff" stroke-width="0.95"/>
<line x1="114.88" y1="145.30" x2="114.88" y2="182.10" stroke="#ffffff" stroke-width="0.95"/>
<line x1="122.02" y1="145.30" x2="122.02" y2="182.10" stroke="#ffffff" stroke-width="0.95"/>
<line x1="129.16" y1="145.30" x2="129.16" y2="182.10" stroke="#ffffff" stroke-width="0.95"/>
<line x1="136.30" y1="145.30" x2="136.30" y2="182.10" stroke="#ffffff" stroke-width="0.95"/>
<line x1="143.44" y1="145.30" x2="143.44" y2="182.10" stroke="#ffffff" stroke-width="0.95"/>
<line x1="150.58" y1="145.30" x2="150.58" y2="182.10" stroke="#ffffff" stroke-width="0.95"/>
<line x1="157.72" y1="145.30" x2="157.72" y2="182.10" stroke="#ffffff" stroke-width="0.95"/>
<line x1="164.86" y1="145.30" x2="164.86" y2="182.10" stroke="#ffffff" stroke-width="0.95"/>
<line x1="29.20" y1="163.70" x2="172.00" y2="163.70" stroke="#c8c8c8" stroke-width="0.9" stroke-dasharray="2.2,2.2"/>
<rect x="28.50" y="143.30" width="144.20" height="40.20" fill="none" stroke="#3a3a3a" stroke-width="0.85"/>
<line x1="32.77" y1="183.50" x2="32.77" y2="185.70" stroke="#2a2a2a" stroke-width="0.65"/>
<line x1="39.91" y1="183.50" x2="39.91" y2="185.70" stroke="#2a2a2a" stroke-width="0.65"/>
<line x1="47.05" y1="183.50" x2="47.05" y2="185.70" stroke="#2a2a2a" stroke-width="0.65"/>
<line x1="54.19" y1="183.50" x2="54.19" y2="185.70" stroke="#2a2a2a" stroke-width="0.65"/>
<line x1="61.33" y1="183.50" x2="61.33" y2="185.70" stroke="#2a2a2a" stroke-width="0.65"/>
<line x1="68.47" y1="183.50" x2="68.47" y2="185.70" stroke="#2a2a2a" stroke-width="0.65"/>
<line x1="75.61" y1="183.50" x2="75.61" y2="185.70" stroke="#2a2a2a" stroke-width="0.65"/>
<line x1="82.75" y1="183.50" x2="82.75" y2="185.70" stroke="#2a2a2a" stroke-width="0.65"/>
<line x1="89.89" y1="183.50" x2="89.89" y2="185.70" stroke="#2a2a2a" stroke-width="0.65"/>
<line x1="97.03" y1="183.50" x2="97.03" y2="185.70" stroke="#2a2a2a" stroke-width="0.65"/>
<line x1="104.17" y1="183.50" x2="104.17" y2="185.70" stroke="#2a2a2a" stroke-width="0.65"/>
<line x1="111.31" y1="183.50" x2="111.31" y2="185.70" stroke="#2a2a2a" stroke-width="0.65"/>
<line x1="118.45" y1="183.50" x2="118.45" y2="185.70" stroke="#2a2a2a" stroke-width="0.65"/>
<line x1="125.59" y1="183.50" x2="125.59" y2="185.70" stroke="#2a2a2a" stroke-width="0.65"/>
<line x1="132.73" y1="183.50" x2="132.73" y2="185.70" stroke="#2a2a2a" stroke-width="0.65"/>
<line x1="139.87" y1="183.50" x2="139.87" y2="185.70" stroke="#2a2a2a" stroke-width="0.65"/>
<line x1="147.01" y1="183.50" x2="147.01" y2="185.70" stroke="#2a2a2a" stroke-width="0.65"/>
<line x1="154.15" y1="183.50" x2="154.15" y2="185.70" stroke="#2a2a2a" stroke-width="0.65"/>
<line x1="161.29" y1="183.50" x2="161.29" y2="185.70" stroke="#2a2a2a" stroke-width="0.65"/>
<line x1="168.43" y1="183.50" x2="168.43" y2="185.70" stroke="#2a2a2a" stroke-width="0.65"/>
<line x1="26.50" y1="182.10" x2="28.50" y2="182.10" stroke="#333" stroke-width="0.7"/>
<line x1="26.50" y1="172.90" x2="28.50" y2="172.90" stroke="#333" stroke-width="0.7"/>
<line x1="26.50" y1="163.70" x2="28.50" y2="163.70" stroke="#333" stroke-width="0.7"/>
<line x1="26.50" y1="154.50" x2="28.50" y2="154.50" stroke="#333" stroke-width="0.7"/>
<line x1="26.50" y1="145.30" x2="28.50" y2="145.30" stroke="#333" stroke-width="0.7"/>
<text x="24.20" y="185.30" font-size="8.0" text-anchor="end" fill="#222" stroke="#222" stroke-width="0.14">0.0</text>
<text x="24.20" y="166.90" font-size="8.0" text-anchor="end" fill="#222" stroke="#222" stroke-width="0.14">0.5</text>
<text x="24.20" y="148.50" font-size="8.0" text-anchor="end" fill="#222" stroke="#222" stroke-width="0.14">1.0</text>
<text x="0.00" y="0.00" font-size="8.3" text-anchor="middle" fill="#1a1a1a" transform="translate(8.40,164.70) rotate(-90)" stroke="#1a1a1a" stroke-width="0.14">Arm ratio</text>
<text x="79.10" y="140.90" font-size="8" text-anchor="start" fill="#1a1a1a" stroke="#1a1a1a" stroke-width="0.14">pre-mir-21a</text>
<rect x="179.60" y="143.30" width="146.40" height="40.20" fill="#fff" stroke="none" stroke-width="0"/>
<rect x="180.90" y="145.30" width="8.01" height="36.80" fill="#DE5D4A" stroke="none" stroke-width="0"/>
<rect x="188.91" y="145.30" width="8.01" height="36.80" fill="#DE5D4A" stroke="none" stroke-width="0"/>
<rect x="196.92" y="145.30" width="8.01" height="36.80" fill="#DE5D4A" stroke="none" stroke-width="0"/>
<rect x="204.93" y="145.30" width="8.01" height="36.80" fill="#DE5D4A" stroke="none" stroke-width="0"/>
<rect x="212.94" y="145.30" width="8.01" height="36.80" fill="#DE5D4A" stroke="none" stroke-width="0"/>
<rect x="220.96" y="145.30" width="8.01" height="36.80" fill="#DE5D4A" stroke="none" stroke-width="0"/>
<rect x="228.97" y="145.30" width="8.01" height="36.80" fill="#DE5D4A" stroke="none" stroke-width="0"/>
<rect x="236.98" y="145.30" width="8.01" height="36.80" fill="#DE5D4A" stroke="none" stroke-width="0"/>
<rect x="244.99" y="145.30" width="8.01" height="36.80" fill="#DE5D4A" stroke="none" stroke-width="0"/>
<rect x="253.00" y="145.30" width="8.01" height="36.80" fill="#DE5D4A" stroke="none" stroke-width="0"/>
<rect x="261.01" y="145.30" width="8.01" height="36.80" fill="#DE5D4A" stroke="none" stroke-width="0"/>
<rect x="269.02" y="145.30" width="8.01" height="36.80" fill="#DE5D4A" stroke="none" stroke-width="0"/>
<rect x="277.03" y="145.30" width="8.01" height="36.80" fill="#DE5D4A" stroke="none" stroke-width="0"/>
<rect x="285.04" y="145.30" width="8.01" height="36.80" fill="#DE5D4A" stroke="none" stroke-width="0"/>
<rect x="293.06" y="145.30" width="8.01" height="36.80" fill="#DE5D4A" stroke="none" stroke-width="0"/>
<rect x="301.07" y="145.30" width="8.01" height="36.80" fill="#DE5D4A" stroke="none" stroke-width="0"/>
<rect x="309.08" y="145.30" width="8.01" height="36.80" fill="#DE5D4A" stroke="none" stroke-width="0"/>
<rect x="317.09" y="145.30" width="8.01" height="36.80" fill="#DE5D4A" stroke="none" stroke-width="0"/>
<line x1="188.91" y1="145.30" x2="188.91" y2="182.10" stroke="#ffffff" stroke-width="0.95"/>
<line x1="196.92" y1="145.30" x2="196.92" y2="182.10" stroke="#ffffff" stroke-width="0.95"/>
<line x1="204.93" y1="145.30" x2="204.93" y2="182.10" stroke="#ffffff" stroke-width="0.95"/>
<line x1="212.94" y1="145.30" x2="212.94" y2="182.10" stroke="#ffffff" stroke-width="0.95"/>
<line x1="220.96" y1="145.30" x2="220.96" y2="182.10" stroke="#ffffff" stroke-width="0.95"/>
<line x1="228.97" y1="145.30" x2="228.97" y2="182.10" stroke="#ffffff" stroke-width="0.95"/>
<line x1="236.98" y1="145.30" x2="236.98" y2="182.10" stroke="#ffffff" stroke-width="0.95"/>
<line x1="244.99" y1="145.30" x2="244.99" y2="182.10" stroke="#ffffff" stroke-width="0.95"/>
<line x1="253.00" y1="145.30" x2="253.00" y2="182.10" stroke="#ffffff" stroke-width="0.95"/>
<line x1="261.01" y1="145.30" x2="261.01" y2="182.10" stroke="#ffffff" stroke-width="0.95"/>
<line x1="269.02" y1="145.30" x2="269.02" y2="182.10" stroke="#ffffff" stroke-width="0.95"/>
<line x1="277.03" y1="145.30" x2="277.03" y2="182.10" stroke="#ffffff" stroke-width="0.95"/>
<line x1="285.04" y1="145.30" x2="285.04" y2="182.10" stroke="#ffffff" stroke-width="0.95"/>
<line x1="293.06" y1="145.30" x2="293.06" y2="182.10" stroke="#ffffff" stroke-width="0.95"/>
<line x1="301.07" y1="145.30" x2="301.07" y2="182.10" stroke="#ffffff" stroke-width="0.95"/>
<line x1="309.08" y1="145.30" x2="309.08" y2="182.10" stroke="#ffffff" stroke-width="0.95"/>
<line x1="317.09" y1="145.30" x2="317.09" y2="182.10" stroke="#ffffff" stroke-width="0.95"/>
<line x1="180.90" y1="163.70" x2="325.10" y2="163.70" stroke="#c8c8c8" stroke-width="0.9" stroke-dasharray="2.2,2.2"/>
<rect x="179.60" y="143.30" width="146.40" height="40.20" fill="none" stroke="#3a3a3a" stroke-width="0.85"/>
<line x1="184.91" y1="183.50" x2="184.91" y2="185.70" stroke="#2a2a2a" stroke-width="0.65"/>
<line x1="192.92" y1="183.50" x2="192.92" y2="185.70" stroke="#2a2a2a" stroke-width="0.65"/>
<line x1="200.93" y1="183.50" x2="200.93" y2="185.70" stroke="#2a2a2a" stroke-width="0.65"/>
<line x1="208.94" y1="183.50" x2="208.94" y2="185.70" stroke="#2a2a2a" stroke-width="0.65"/>
<line x1="216.95" y1="183.50" x2="216.95" y2="185.70" stroke="#2a2a2a" stroke-width="0.65"/>
<line x1="224.96" y1="183.50" x2="224.96" y2="185.70" stroke="#2a2a2a" stroke-width="0.65"/>
<line x1="232.97" y1="183.50" x2="232.97" y2="185.70" stroke="#2a2a2a" stroke-width="0.65"/>
<line x1="240.98" y1="183.50" x2="240.98" y2="185.70" stroke="#2a2a2a" stroke-width="0.65"/>
<line x1="248.99" y1="183.50" x2="248.99" y2="185.70" stroke="#2a2a2a" stroke-width="0.65"/>
<line x1="257.01" y1="183.50" x2="257.01" y2="185.70" stroke="#2a2a2a" stroke-width="0.65"/>
<line x1="265.02" y1="183.50" x2="265.02" y2="185.70" stroke="#2a2a2a" stroke-width="0.65"/>
<line x1="273.03" y1="183.50" x2="273.03" y2="185.70" stroke="#2a2a2a" stroke-width="0.65"/>
<line x1="281.04" y1="183.50" x2="281.04" y2="185.70" stroke="#2a2a2a" stroke-width="0.65"/>
<line x1="289.05" y1="183.50" x2="289.05" y2="185.70" stroke="#2a2a2a" stroke-width="0.65"/>
<line x1="297.06" y1="183.50" x2="297.06" y2="185.70" stroke="#2a2a2a" stroke-width="0.65"/>
<line x1="305.07" y1="183.50" x2="305.07" y2="185.70" stroke="#2a2a2a" stroke-width="0.65"/>
<line x1="313.08" y1="183.50" x2="313.08" y2="185.70" stroke="#2a2a2a" stroke-width="0.65"/>
<line x1="321.09" y1="183.50" x2="321.09" y2="185.70" stroke="#2a2a2a" stroke-width="0.65"/>
<text x="230.50" y="140.30" font-size="8" text-anchor="start" fill="#1a1a1a" stroke="#1a1a1a" stroke-width="0.14">pre-mir-21</text>
<rect x="332.50" y="143.30" width="146.20" height="40.20" fill="#fff" stroke="none" stroke-width="0"/>
<rect x="333.10" y="145.30" width="6.90" height="30.14" fill="#DE5D4A" stroke="none" stroke-width="0"/>
<rect x="333.10" y="175.44" width="6.90" height="6.66" fill="#3A5E7F" stroke="none" stroke-width="0"/>
<rect x="340.00" y="145.30" width="6.90" height="32.35" fill="#DE5D4A" stroke="none" stroke-width="0"/>
<rect x="340.00" y="177.65" width="6.90" height="4.45" fill="#3A5E7F" stroke="none" stroke-width="0"/>
<rect x="346.90" y="145.30" width="6.90" height="31.68" fill="#DE5D4A" stroke="none" stroke-width="0"/>
<rect x="346.90" y="176.98" width="6.90" height="5.12" fill="#3A5E7F" stroke="none" stroke-width="0"/>
<rect x="353.80" y="145.30" width="6.90" height="31.91" fill="#DE5D4A" stroke="none" stroke-width="0"/>
<rect x="353.80" y="177.21" width="6.90" height="4.89" fill="#3A5E7F" stroke="none" stroke-width="0"/>
<rect x="360.70" y="145.30" width="6.90" height="32.79" fill="#DE5D4A" stroke="none" stroke-width="0"/>
<rect x="360.70" y="178.09" width="6.90" height="4.01" fill="#3A5E7F" stroke="none" stroke-width="0"/>
<rect x="367.60" y="145.30" width="6.90" height="31.68" fill="#DE5D4A" stroke="none" stroke-width="0"/>
<rect x="367.60" y="176.98" width="6.90" height="5.12" fill="#3A5E7F" stroke="none" stroke-width="0"/>
<rect x="374.50" y="145.30" width="6.90" height="31.91" fill="#DE5D4A" stroke="none" stroke-width="0"/>
<rect x="374.50" y="177.21" width="6.90" height="4.89" fill="#3A5E7F" stroke="none" stroke-width="0"/>
<rect x="381.40" y="145.30" width="6.90" height="31.46" fill="#DE5D4A" stroke="none" stroke-width="0"/>
<rect x="381.40" y="176.76" width="6.90" height="5.34" fill="#3A5E7F" stroke="none" stroke-width="0"/>
<rect x="388.30" y="145.30" width="6.90" height="33.64" fill="#DE5D4A" stroke="none" stroke-width="0"/>
<rect x="388.30" y="178.94" width="6.90" height="3.16" fill="#3A5E7F" stroke="none" stroke-width="0"/>
<rect x="395.20" y="145.30" width="6.90" height="33.86" fill="#DE5D4A" stroke="none" stroke-width="0"/>
<rect x="395.20" y="179.16" width="6.90" height="2.94" fill="#3A5E7F" stroke="none" stroke-width="0"/>
<rect x="402.10" y="145.30" width="6.90" height="31.68" fill="#DE5D4A" stroke="none" stroke-width="0"/>
<rect x="402.10" y="176.98" width="6.90" height="5.12" fill="#3A5E7F" stroke="none" stroke-width="0"/>
<rect x="409.00" y="145.30" width="6.90" height="32.57" fill="#DE5D4A" stroke="none" stroke-width="0"/>
<rect x="409.00" y="177.87" width="6.90" height="4.23" fill="#3A5E7F" stroke="none" stroke-width="0"/>
<rect x="415.90" y="145.30" width="6.90" height="31.91" fill="#DE5D4A" stroke="none" stroke-width="0"/>
<rect x="415.90" y="177.21" width="6.90" height="4.89" fill="#3A5E7F" stroke="none" stroke-width="0"/>
<rect x="422.80" y="145.30" width="6.90" height="32.35" fill="#DE5D4A" stroke="none" stroke-width="0"/>
<rect x="422.80" y="177.65" width="6.90" height="4.45" fill="#3A5E7F" stroke="none" stroke-width="0"/>
<rect x="429.70" y="145.30" width="6.90" height="33.41" fill="#DE5D4A" stroke="none" stroke-width="0"/>
<rect x="429.70" y="178.71" width="6.90" height="3.39" fill="#3A5E7F" stroke="none" stroke-width="0"/>
<rect x="436.60" y="145.30" width="6.90" height="30.80" fill="#DE5D4A" stroke="none" stroke-width="0"/>
<rect x="436.60" y="176.10" width="6.90" height="6.00" fill="#3A5E7F" stroke="none" stroke-width="0"/>
<rect x="443.50" y="145.30" width="6.90" height="32.79" fill="#DE5D4A" stroke="none" stroke-width="0"/>
<rect x="443.50" y="178.09" width="6.90" height="4.01" fill="#3A5E7F" stroke="none" stroke-width="0"/>
<rect x="450.40" y="145.30" width="6.90" height="35.40" fill="#DE5D4A" stroke="none" stroke-width="0"/>
<rect x="450.40" y="180.70" width="6.90" height="1.40" fill="#3A5E7F" stroke="none" stroke-width="0"/>
<rect x="457.30" y="145.30" width="6.90" height="31.68" fill="#DE5D4A" stroke="none" stroke-width="0"/>
<rect x="457.30" y="176.98" width="6.90" height="5.12" fill="#3A5E7F" stroke="none" stroke-width="0"/>
<rect x="464.20" y="145.30" width="6.90" height="33.64" fill="#DE5D4A" stroke="none" stroke-width="0"/>
<rect x="464.20" y="178.94" width="6.90" height="3.16" fill="#3A5E7F" stroke="none" stroke-width="0"/>
<rect x="471.10" y="145.30" width="6.90" height="31.68" fill="#DE5D4A" stroke="none" stroke-width="0"/>
<rect x="471.10" y="176.98" width="6.90" height="5.12" fill="#3A5E7F" stroke="none" stroke-width="0"/>
<line x1="340.00" y1="145.30" x2="340.00" y2="182.10" stroke="#ffffff" stroke-width="0.95"/>
<line x1="346.90" y1="145.30" x2="346.90" y2="182.10" stroke="#ffffff" stroke-width="0.95"/>
<line x1="353.80" y1="145.30" x2="353.80" y2="182.10" stroke="#ffffff" stroke-width="0.95"/>
<line x1="360.70" y1="145.30" x2="360.70" y2="182.10" stroke="#ffffff" stroke-width="0.95"/>
<line x1="367.60" y1="145.30" x2="367.60" y2="182.10" stroke="#ffffff" stroke-width="0.95"/>
<line x1="374.50" y1="145.30" x2="374.50" y2="182.10" stroke="#ffffff" stroke-width="0.95"/>
<line x1="381.40" y1="145.30" x2="381.40" y2="182.10" stroke="#ffffff" stroke-width="0.95"/>
<line x1="388.30" y1="145.30" x2="388.30" y2="182.10" stroke="#ffffff" stroke-width="0.95"/>
<line x1="395.20" y1="145.30" x2="395.20" y2="182.10" stroke="#ffffff" stroke-width="0.95"/>
<line x1="402.10" y1="145.30" x2="402.10" y2="182.10" stroke="#ffffff" stroke-width="0.95"/>
<line x1="409.00" y1="145.30" x2="409.00" y2="182.10" stroke="#ffffff" stroke-width="0.95"/>
<line x1="415.90" y1="145.30" x2="415.90" y2="182.10" stroke="#ffffff" stroke-width="0.95"/>
<line x1="422.80" y1="145.30" x2="422.80" y2="182.10" stroke="#ffffff" stroke-width="0.95"/>
<line x1="429.70" y1="145.30" x2="429.70" y2="182.10" stroke="#ffffff" stroke-width="0.95"/>
<line x1="436.60" y1="145.30" x2="436.60" y2="182.10" stroke="#ffffff" stroke-width="0.95"/>
<line x1="443.50" y1="145.30" x2="443.50" y2="182.10" stroke="#ffffff" stroke-width="0.95"/>
<line x1="450.40" y1="145.30" x2="450.40" y2="182.10" stroke="#ffffff" stroke-width="0.95"/>
<line x1="457.30" y1="145.30" x2="457.30" y2="182.10" stroke="#ffffff" stroke-width="0.95"/>
<line x1="464.20" y1="145.30" x2="464.20" y2="182.10" stroke="#ffffff" stroke-width="0.95"/>
<line x1="471.10" y1="145.30" x2="471.10" y2="182.10" stroke="#ffffff" stroke-width="0.95"/>
<line x1="333.10" y1="163.70" x2="478.00" y2="163.70" stroke="#c8c8c8" stroke-width="0.9" stroke-dasharray="2.2,2.2"/>
<rect x="332.50" y="143.30" width="146.20" height="40.20" fill="none" stroke="#3a3a3a" stroke-width="0.85"/>
<line x1="336.55" y1="183.50" x2="336.55" y2="185.70" stroke="#2a2a2a" stroke-width="0.65"/>
<line x1="343.45" y1="183.50" x2="343.45" y2="185.70" stroke="#2a2a2a" stroke-width="0.65"/>
<line x1="350.35" y1="183.50" x2="350.35" y2="185.70" stroke="#2a2a2a" stroke-width="0.65"/>
<line x1="357.25" y1="183.50" x2="357.25" y2="185.70" stroke="#2a2a2a" stroke-width="0.65"/>
<line x1="364.15" y1="183.50" x2="364.15" y2="185.70" stroke="#2a2a2a" stroke-width="0.65"/>
<line x1="371.05" y1="183.50" x2="371.05" y2="185.70" stroke="#2a2a2a" stroke-width="0.65"/>
<line x1="377.95" y1="183.50" x2="377.95" y2="185.70" stroke="#2a2a2a" stroke-width="0.65"/>
<line x1="384.85" y1="183.50" x2="384.85" y2="185.70" stroke="#2a2a2a" stroke-width="0.65"/>
<line x1="391.75" y1="183.50" x2="391.75" y2="185.70" stroke="#2a2a2a" stroke-width="0.65"/>
<line x1="398.65" y1="183.50" x2="398.65" y2="185.70" stroke="#2a2a2a" stroke-width="0.65"/>
<line x1="405.55" y1="183.50" x2="405.55" y2="185.70" stroke="#2a2a2a" stroke-width="0.65"/>
<line x1="412.45" y1="183.50" x2="412.45" y2="185.70" stroke="#2a2a2a" stroke-width="0.65"/>
<line x1="419.35" y1="183.50" x2="419.35" y2="185.70" stroke="#2a2a2a" stroke-width="0.65"/>
<line x1="426.25" y1="183.50" x2="426.25" y2="185.70" stroke="#2a2a2a" stroke-width="0.65"/>
<line x1="433.15" y1="183.50" x2="433.15" y2="185.70" stroke="#2a2a2a" stroke-width="0.65"/>
<line x1="440.05" y1="183.50" x2="440.05" y2="185.70" stroke="#2a2a2a" stroke-width="0.65"/>
<line x1="446.95" y1="183.50" x2="446.95" y2="185.70" stroke="#2a2a2a" stroke-width="0.65"/>
<line x1="453.85" y1="183.50" x2="453.85" y2="185.70" stroke="#2a2a2a" stroke-width="0.65"/>
<line x1="460.75" y1="183.50" x2="460.75" y2="185.70" stroke="#2a2a2a" stroke-width="0.65"/>
<line x1="467.65" y1="183.50" x2="467.65" y2="185.70" stroke="#2a2a2a" stroke-width="0.65"/>
<line x1="474.55" y1="183.50" x2="474.55" y2="185.70" stroke="#2a2a2a" stroke-width="0.65"/>
<text x="385.40" y="140.80" font-size="8" text-anchor="start" fill="#1a1a1a" stroke="#1a1a1a" stroke-width="0.14">pre-mir-17</text>
<text x="0.00" y="0.00" font-size="6.7" text-anchor="end" fill="#222" transform="translate(338.85,188.40) rotate(-90)" stroke="#222" stroke-width="0.14">A375</text>
<text x="0.00" y="0.00" font-size="6.7" text-anchor="end" fill="#222" transform="translate(345.75,188.40) rotate(-90)" stroke="#222" stroke-width="0.14">A549</text>
<text x="0.00" y="0.00" font-size="6.7" text-anchor="end" fill="#222" transform="translate(352.65,188.40) rotate(-90)" stroke="#222" stroke-width="0.14">Caco-2</text>
<text x="0.00" y="0.00" font-size="6.7" text-anchor="end" fill="#222" transform="translate(359.55,188.40) rotate(-90)" stroke="#222" stroke-width="0.14">DLD-1</text>
<text x="0.00" y="0.00" font-size="6.7" text-anchor="end" fill="#222" transform="translate(366.45,188.40) rotate(-90)" stroke="#222" stroke-width="0.14">HCT116</text>
<text x="0.00" y="0.00" font-size="6.7" text-anchor="end" fill="#222" transform="translate(373.35,188.40) rotate(-90)" stroke="#222" stroke-width="0.14">HEK293</text>
<text x="0.00" y="0.00" font-size="6.7" text-anchor="end" fill="#222" transform="translate(380.25,188.40) rotate(-90)" stroke="#222" stroke-width="0.14">HEK293T</text>
<text x="0.00" y="0.00" font-size="6.7" text-anchor="end" fill="#222" transform="translate(387.15,188.40) rotate(-90)" stroke="#222" stroke-width="0.14">Hela</text>
<text x="0.00" y="0.00" font-size="6.7" text-anchor="end" fill="#222" transform="translate(394.05,188.40) rotate(-90)" stroke="#222" stroke-width="0.14">HepG2</text>
<text x="0.00" y="0.00" font-size="6.7" text-anchor="end" fill="#222" transform="translate(400.95,188.40) rotate(-90)" stroke="#222" stroke-width="0.14">HL60</text>
<text x="0.00" y="0.00" font-size="6.7" text-anchor="end" fill="#222" transform="translate(407.85,188.40) rotate(-90)" stroke="#222" stroke-width="0.14">HT29</text>
<text x="0.00" y="0.00" font-size="6.7" text-anchor="end" fill="#222" transform="translate(414.75,188.40) rotate(-90)" stroke="#222" stroke-width="0.14">Huh7</text>
<text x="0.00" y="0.00" font-size="6.7" text-anchor="end" fill="#222" transform="translate(421.65,188.40) rotate(-90)" stroke="#222" stroke-width="0.14">IMR90</text>
<text x="0.00" y="0.00" font-size="6.7" text-anchor="end" fill="#222" transform="translate(428.55,188.40) rotate(-90)" stroke="#222" stroke-width="0.14">IOSE</text>
<text x="0.00" y="0.00" font-size="6.7" text-anchor="end" fill="#222" transform="translate(435.45,188.40) rotate(-90)" stroke="#222" stroke-width="0.14">Jurkat</text>
<text x="0.00" y="0.00" font-size="6.7" text-anchor="end" fill="#222" transform="translate(442.35,188.40) rotate(-90)" stroke="#222" stroke-width="0.14">K562</text>
<text x="0.00" y="0.00" font-size="6.7" text-anchor="end" fill="#222" transform="translate(449.25,188.40) rotate(-90)" stroke="#222" stroke-width="0.14">MCF-7</text>
<text x="0.00" y="0.00" font-size="6.7" text-anchor="end" fill="#222" transform="translate(456.15,188.40) rotate(-90)" stroke="#222" stroke-width="0.14">MDA-MB-231</text>
<text x="0.00" y="0.00" font-size="6.7" text-anchor="end" fill="#222" transform="translate(463.05,188.40) rotate(-90)" stroke="#222" stroke-width="0.14">SW480</text>
<text x="0.00" y="0.00" font-size="6.7" text-anchor="end" fill="#222" transform="translate(469.95,188.40) rotate(-90)" stroke="#222" stroke-width="0.14">SH-SY5Y</text>
<text x="0.00" y="0.00" font-size="6.7" text-anchor="end" fill="#222" transform="translate(476.85,188.40) rotate(-90)" stroke="#222" stroke-width="0.14">U2OS</text>
<rect x="28.50" y="199.00" width="144.20" height="39.70" fill="#fff" stroke="none" stroke-width="0"/>
<rect x="29.20" y="201.00" width="7.14" height="15.03" fill="#DE5D4A" stroke="none" stroke-width="0"/>
<rect x="29.20" y="216.03" width="7.14" height="21.27" fill="#3A5E7F" stroke="none" stroke-width="0"/>
<rect x="36.34" y="201.00" width="7.14" height="19.71" fill="#DE5D4A" stroke="none" stroke-width="0"/>
<rect x="36.34" y="220.71" width="7.14" height="16.59" fill="#3A5E7F" stroke="none" stroke-width="0"/>
<rect x="43.48" y="201.00" width="7.14" height="13.94" fill="#DE5D4A" stroke="none" stroke-width="0"/>
<rect x="43.48" y="214.94" width="7.14" height="22.36" fill="#3A5E7F" stroke="none" stroke-width="0"/>
<rect x="50.62" y="201.00" width="7.14" height="16.30" fill="#DE5D4A" stroke="none" stroke-width="0"/>
<rect x="50.62" y="217.30" width="7.14" height="20.00" fill="#3A5E7F" stroke="none" stroke-width="0"/>
<rect x="57.76" y="201.00" width="7.14" height="15.25" fill="#DE5D4A" stroke="none" stroke-width="0"/>
<rect x="57.76" y="216.25" width="7.14" height="21.05" fill="#3A5E7F" stroke="none" stroke-width="0"/>
<rect x="64.90" y="201.00" width="7.14" height="21.02" fill="#DE5D4A" stroke="none" stroke-width="0"/>
<rect x="64.90" y="222.02" width="7.14" height="15.28" fill="#3A5E7F" stroke="none" stroke-width="0"/>
<rect x="72.04" y="201.00" width="7.14" height="12.23" fill="#DE5D4A" stroke="none" stroke-width="0"/>
<rect x="72.04" y="213.23" width="7.14" height="24.07" fill="#3A5E7F" stroke="none" stroke-width="0"/>
<rect x="79.18" y="201.00" width="7.14" height="12.89" fill="#DE5D4A" stroke="none" stroke-width="0"/>
<rect x="79.18" y="213.89" width="7.14" height="23.41" fill="#3A5E7F" stroke="none" stroke-width="0"/>
<rect x="86.32" y="201.00" width="7.14" height="19.93" fill="#DE5D4A" stroke="none" stroke-width="0"/>
<rect x="86.32" y="220.93" width="7.14" height="16.37" fill="#3A5E7F" stroke="none" stroke-width="0"/>
<rect x="93.46" y="201.00" width="7.14" height="17.13" fill="#DE5D4A" stroke="none" stroke-width="0"/>
<rect x="93.46" y="218.13" width="7.14" height="19.17" fill="#3A5E7F" stroke="none" stroke-width="0"/>
<rect x="100.60" y="201.00" width="7.14" height="10.13" fill="#DE5D4A" stroke="none" stroke-width="0"/>
<rect x="100.60" y="211.13" width="7.14" height="26.17" fill="#3A5E7F" stroke="none" stroke-width="0"/>
<rect x="107.74" y="201.00" width="7.14" height="14.16" fill="#DE5D4A" stroke="none" stroke-width="0"/>
<rect x="107.74" y="215.16" width="7.14" height="22.14" fill="#3A5E7F" stroke="none" stroke-width="0"/>
<rect x="114.88" y="201.00" width="7.14" height="12.67" fill="#DE5D4A" stroke="none" stroke-width="0"/>
<rect x="114.88" y="213.67" width="7.14" height="23.63" fill="#3A5E7F" stroke="none" stroke-width="0"/>
<rect x="122.02" y="201.00" width="7.14" height="12.89" fill="#DE5D4A" stroke="none" stroke-width="0"/>
<rect x="122.02" y="213.89" width="7.14" height="23.41" fill="#3A5E7F" stroke="none" stroke-width="0"/>
<rect x="129.16" y="201.00" width="7.14" height="15.03" fill="#DE5D4A" stroke="none" stroke-width="0"/>
<rect x="129.16" y="216.03" width="7.14" height="21.27" fill="#3A5E7F" stroke="none" stroke-width="0"/>
<rect x="136.30" y="201.00" width="7.14" height="16.95" fill="#DE5D4A" stroke="none" stroke-width="0"/>
<rect x="136.30" y="217.95" width="7.14" height="19.35" fill="#3A5E7F" stroke="none" stroke-width="0"/>
<rect x="143.44" y="201.00" width="7.14" height="17.13" fill="#DE5D4A" stroke="none" stroke-width="0"/>
<rect x="143.44" y="218.13" width="7.14" height="19.17" fill="#3A5E7F" stroke="none" stroke-width="0"/>
<rect x="150.58" y="201.00" width="7.14" height="12.89" fill="#DE5D4A" stroke="none" stroke-width="0"/>
<rect x="150.58" y="213.89" width="7.14" height="23.41" fill="#3A5E7F" stroke="none" stroke-width="0"/>
<rect x="157.72" y="201.00" width="7.14" height="15.03" fill="#DE5D4A" stroke="none" stroke-width="0"/>
<rect x="157.72" y="216.03" width="7.14" height="21.27" fill="#3A5E7F" stroke="none" stroke-width="0"/>
<rect x="164.86" y="201.00" width="7.14" height="14.37" fill="#DE5D4A" stroke="none" stroke-width="0"/>
<rect x="164.86" y="215.37" width="7.14" height="21.93" fill="#3A5E7F" stroke="none" stroke-width="0"/>
<line x1="36.34" y1="201.00" x2="36.34" y2="237.30" stroke="#ffffff" stroke-width="0.95"/>
<line x1="43.48" y1="201.00" x2="43.48" y2="237.30" stroke="#ffffff" stroke-width="0.95"/>
<line x1="50.62" y1="201.00" x2="50.62" y2="237.30" stroke="#ffffff" stroke-width="0.95"/>
<line x1="57.76" y1="201.00" x2="57.76" y2="237.30" stroke="#ffffff" stroke-width="0.95"/>
<line x1="64.90" y1="201.00" x2="64.90" y2="237.30" stroke="#ffffff" stroke-width="0.95"/>
<line x1="72.04" y1="201.00" x2="72.04" y2="237.30" stroke="#ffffff" stroke-width="0.95"/>
<line x1="79.18" y1="201.00" x2="79.18" y2="237.30" stroke="#ffffff" stroke-width="0.95"/>
<line x1="86.32" y1="201.00" x2="86.32" y2="237.30" stroke="#ffffff" stroke-width="0.95"/>
<line x1="93.46" y1="201.00" x2="93.46" y2="237.30" stroke="#ffffff" stroke-width="0.95"/>
<line x1="100.60" y1="201.00" x2="100.60" y2="237.30" stroke="#ffffff" stroke-width="0.95"/>
<line x1="107.74" y1="201.00" x2="107.74" y2="237.30" stroke="#ffffff" stroke-width="0.95"/>
<line x1="114.88" y1="201.00" x2="114.88" y2="237.30" stroke="#ffffff" stroke-width="0.95"/>
<line x1="122.02" y1="201.00" x2="122.02" y2="237.30" stroke="#ffffff" stroke-width="0.95"/>
<line x1="129.16" y1="201.00" x2="129.16" y2="237.30" stroke="#ffffff" stroke-width="0.95"/>
<line x1="136.30" y1="201.00" x2="136.30" y2="237.30" stroke="#ffffff" stroke-width="0.95"/>
<line x1="143.44" y1="201.00" x2="143.44" y2="237.30" stroke="#ffffff" stroke-width="0.95"/>
<line x1="150.58" y1="201.00" x2="150.58" y2="237.30" stroke="#ffffff" stroke-width="0.95"/>
<line x1="157.72" y1="201.00" x2="157.72" y2="237.30" stroke="#ffffff" stroke-width="0.95"/>
<line x1="164.86" y1="201.00" x2="164.86" y2="237.30" stroke="#ffffff" stroke-width="0.95"/>
<line x1="29.20" y1="219.15" x2="172.00" y2="219.15" stroke="#c8c8c8" stroke-width="0.9" stroke-dasharray="2.2,2.2"/>
<rect x="28.50" y="199.00" width="144.20" height="39.70" fill="none" stroke="#3a3a3a" stroke-width="0.85"/>
<line x1="32.77" y1="238.70" x2="32.77" y2="240.90" stroke="#2a2a2a" stroke-width="0.65"/>
<line x1="39.91" y1="238.70" x2="39.91" y2="240.90" stroke="#2a2a2a" stroke-width="0.65"/>
<line x1="47.05" y1="238.70" x2="47.05" y2="240.90" stroke="#2a2a2a" stroke-width="0.65"/>
<line x1="54.19" y1="238.70" x2="54.19" y2="240.90" stroke="#2a2a2a" stroke-width="0.65"/>
<line x1="61.33" y1="238.70" x2="61.33" y2="240.90" stroke="#2a2a2a" stroke-width="0.65"/>
<line x1="68.47" y1="238.70" x2="68.47" y2="240.90" stroke="#2a2a2a" stroke-width="0.65"/>
<line x1="75.61" y1="238.70" x2="75.61" y2="240.90" stroke="#2a2a2a" stroke-width="0.65"/>
<line x1="82.75" y1="238.70" x2="82.75" y2="240.90" stroke="#2a2a2a" stroke-width="0.65"/>
<line x1="89.89" y1="238.70" x2="89.89" y2="240.90" stroke="#2a2a2a" stroke-width="0.65"/>
<line x1="97.03" y1="238.70" x2="97.03" y2="240.90" stroke="#2a2a2a" stroke-width="0.65"/>
<line x1="104.17" y1="238.70" x2="104.17" y2="240.90" stroke="#2a2a2a" stroke-width="0.65"/>
<line x1="111.31" y1="238.70" x2="111.31" y2="240.90" stroke="#2a2a2a" stroke-width="0.65"/>
<line x1="118.45" y1="238.70" x2="118.45" y2="240.90" stroke="#2a2a2a" stroke-width="0.65"/>
<line x1="125.59" y1="238.70" x2="125.59" y2="240.90" stroke="#2a2a2a" stroke-width="0.65"/>
<line x1="132.73" y1="238.70" x2="132.73" y2="240.90" stroke="#2a2a2a" stroke-width="0.65"/>
<line x1="139.87" y1="238.70" x2="139.87" y2="240.90" stroke="#2a2a2a" stroke-width="0.65"/>
<line x1="147.01" y1="238.70" x2="147.01" y2="240.90" stroke="#2a2a2a" stroke-width="0.65"/>
<line x1="154.15" y1="238.70" x2="154.15" y2="240.90" stroke="#2a2a2a" stroke-width="0.65"/>
<line x1="161.29" y1="238.70" x2="161.29" y2="240.90" stroke="#2a2a2a" stroke-width="0.65"/>
<line x1="168.43" y1="238.70" x2="168.43" y2="240.90" stroke="#2a2a2a" stroke-width="0.65"/>
<line x1="26.50" y1="237.30" x2="28.50" y2="237.30" stroke="#333" stroke-width="0.7"/>
<line x1="26.50" y1="228.23" x2="28.50" y2="228.23" stroke="#333" stroke-width="0.7"/>
<line x1="26.50" y1="219.15" x2="28.50" y2="219.15" stroke="#333" stroke-width="0.7"/>
<line x1="26.50" y1="210.07" x2="28.50" y2="210.07" stroke="#333" stroke-width="0.7"/>
<line x1="26.50" y1="201.00" x2="28.50" y2="201.00" stroke="#333" stroke-width="0.7"/>
<text x="24.20" y="240.50" font-size="8.0" text-anchor="end" fill="#222" stroke="#222" stroke-width="0.14">0.0</text>
<text x="24.20" y="222.35" font-size="8.0" text-anchor="end" fill="#222" stroke="#222" stroke-width="0.14">0.5</text>
<text x="24.20" y="204.20" font-size="8.0" text-anchor="end" fill="#222" stroke="#222" stroke-width="0.14">1.0</text>
<text x="0.00" y="0.00" font-size="8.3" text-anchor="middle" fill="#1a1a1a" transform="translate(8.40,220.15) rotate(-90)" stroke="#1a1a1a" stroke-width="0.14">Arm ratio</text>
<text x="79.60" y="194.40" font-size="8" text-anchor="start" fill="#1a1a1a" stroke="#1a1a1a" stroke-width="0.14">pre-mir-126a</text>
<rect x="179.60" y="199.00" width="146.40" height="39.70" fill="#fff" stroke="none" stroke-width="0"/>
<rect x="180.90" y="201.00" width="8.01" height="0.00" fill="#DE5D4A" stroke="none" stroke-width="0"/>
<rect x="180.90" y="201.00" width="8.01" height="36.30" fill="#3A5E7F" stroke="none" stroke-width="0"/>
<rect x="188.91" y="201.00" width="8.01" height="0.00" fill="#DE5D4A" stroke="none" stroke-width="0"/>
<rect x="188.91" y="201.00" width="8.01" height="36.30" fill="#3A5E7F" stroke="none" stroke-width="0"/>
<rect x="196.92" y="201.00" width="8.01" height="0.00" fill="#DE5D4A" stroke="none" stroke-width="0"/>
<rect x="196.92" y="201.00" width="8.01" height="36.30" fill="#3A5E7F" stroke="none" stroke-width="0"/>
<rect x="204.93" y="201.00" width="8.01" height="0.00" fill="#DE5D4A" stroke="none" stroke-width="0"/>
<rect x="204.93" y="201.00" width="8.01" height="36.30" fill="#3A5E7F" stroke="none" stroke-width="0"/>
<rect x="212.94" y="201.00" width="8.01" height="0.00" fill="#DE5D4A" stroke="none" stroke-width="0"/>
<rect x="212.94" y="201.00" width="8.01" height="36.30" fill="#3A5E7F" stroke="none" stroke-width="0"/>
<rect x="220.96" y="201.00" width="8.01" height="0.36" fill="#DE5D4A" stroke="none" stroke-width="0"/>
<rect x="220.96" y="201.36" width="8.01" height="35.94" fill="#3A5E7F" stroke="none" stroke-width="0"/>
<rect x="228.97" y="201.00" width="8.01" height="0.36" fill="#DE5D4A" stroke="none" stroke-width="0"/>
<rect x="228.97" y="201.36" width="8.01" height="35.94" fill="#3A5E7F" stroke="none" stroke-width="0"/>
<rect x="236.98" y="201.00" width="8.01" height="0.00" fill="#DE5D4A" stroke="none" stroke-width="0"/>
<rect x="236.98" y="201.00" width="8.01" height="36.30" fill="#3A5E7F" stroke="none" stroke-width="0"/>
<rect x="244.99" y="201.00" width="8.01" height="0.00" fill="#DE5D4A" stroke="none" stroke-width="0"/>
<rect x="244.99" y="201.00" width="8.01" height="36.30" fill="#3A5E7F" stroke="none" stroke-width="0"/>
<rect x="253.00" y="201.00" width="8.01" height="0.00" fill="#DE5D4A" stroke="none" stroke-width="0"/>
<rect x="253.00" y="201.00" width="8.01" height="36.30" fill="#3A5E7F" stroke="none" stroke-width="0"/>
<rect x="261.01" y="201.00" width="8.01" height="0.00" fill="#DE5D4A" stroke="none" stroke-width="0"/>
<rect x="261.01" y="201.00" width="8.01" height="36.30" fill="#3A5E7F" stroke="none" stroke-width="0"/>
<rect x="269.02" y="201.00" width="8.01" height="0.36" fill="#DE5D4A" stroke="none" stroke-width="0"/>
<rect x="269.02" y="201.36" width="8.01" height="35.94" fill="#3A5E7F" stroke="none" stroke-width="0"/>
<rect x="277.03" y="201.00" width="8.01" height="0.00" fill="#DE5D4A" stroke="none" stroke-width="0"/>
<rect x="277.03" y="201.00" width="8.01" height="36.30" fill="#3A5E7F" stroke="none" stroke-width="0"/>
<rect x="285.04" y="201.00" width="8.01" height="0.00" fill="#DE5D4A" stroke="none" stroke-width="0"/>
<rect x="285.04" y="201.00" width="8.01" height="36.30" fill="#3A5E7F" stroke="none" stroke-width="0"/>
<rect x="293.06" y="201.00" width="8.01" height="0.36" fill="#DE5D4A" stroke="none" stroke-width="0"/>
<rect x="293.06" y="201.36" width="8.01" height="35.94" fill="#3A5E7F" stroke="none" stroke-width="0"/>
<rect x="301.07" y="201.00" width="8.01" height="0.00" fill="#DE5D4A" stroke="none" stroke-width="0"/>
<rect x="301.07" y="201.00" width="8.01" height="36.30" fill="#3A5E7F" stroke="none" stroke-width="0"/>
<rect x="309.08" y="201.00" width="8.01" height="0.00" fill="#DE5D4A" stroke="none" stroke-width="0"/>
<rect x="309.08" y="201.00" width="8.01" height="36.30" fill="#3A5E7F" stroke="none" stroke-width="0"/>
<rect x="317.09" y="201.00" width="8.01" height="0.00" fill="#DE5D4A" stroke="none" stroke-width="0"/>
<rect x="317.09" y="201.00" width="8.01" height="36.30" fill="#3A5E7F" stroke="none" stroke-width="0"/>
<line x1="188.91" y1="201.00" x2="188.91" y2="237.30" stroke="#ffffff" stroke-width="0.95"/>
<line x1="196.92" y1="201.00" x2="196.92" y2="237.30" stroke="#ffffff" stroke-width="0.95"/>
<line x1="204.93" y1="201.00" x2="204.93" y2="237.30" stroke="#ffffff" stroke-width="0.95"/>
<line x1="212.94" y1="201.00" x2="212.94" y2="237.30" stroke="#ffffff" stroke-width="0.95"/>
<line x1="220.96" y1="201.00" x2="220.96" y2="237.30" stroke="#ffffff" stroke-width="0.95"/>
<line x1="228.97" y1="201.00" x2="228.97" y2="237.30" stroke="#ffffff" stroke-width="0.95"/>
<line x1="236.98" y1="201.00" x2="236.98" y2="237.30" stroke="#ffffff" stroke-width="0.95"/>
<line x1="244.99" y1="201.00" x2="244.99" y2="237.30" stroke="#ffffff" stroke-width="0.95"/>
<line x1="253.00" y1="201.00" x2="253.00" y2="237.30" stroke="#ffffff" stroke-width="0.95"/>
<line x1="261.01" y1="201.00" x2="261.01" y2="237.30" stroke="#ffffff" stroke-width="0.95"/>
<line x1="269.02" y1="201.00" x2="269.02" y2="237.30" stroke="#ffffff" stroke-width="0.95"/>
<line x1="277.03" y1="201.00" x2="277.03" y2="237.30" stroke="#ffffff" stroke-width="0.95"/>
<line x1="285.04" y1="201.00" x2="285.04" y2="237.30" stroke="#ffffff" stroke-width="0.95"/>
<line x1="293.06" y1="201.00" x2="293.06" y2="237.30" stroke="#ffffff" stroke-width="0.95"/>
<line x1="301.07" y1="201.00" x2="301.07" y2="237.30" stroke="#ffffff" stroke-width="0.95"/>
<line x1="309.08" y1="201.00" x2="309.08" y2="237.30" stroke="#ffffff" stroke-width="0.95"/>
<line x1="317.09" y1="201.00" x2="317.09" y2="237.30" stroke="#ffffff" stroke-width="0.95"/>
<line x1="180.90" y1="219.15" x2="325.10" y2="219.15" stroke="#c8c8c8" stroke-width="0.9" stroke-dasharray="2.2,2.2"/>
<rect x="179.60" y="199.00" width="146.40" height="39.70" fill="none" stroke="#3a3a3a" stroke-width="0.85"/>
<line x1="184.91" y1="238.70" x2="184.91" y2="240.90" stroke="#2a2a2a" stroke-width="0.65"/>
<line x1="192.92" y1="238.70" x2="192.92" y2="240.90" stroke="#2a2a2a" stroke-width="0.65"/>
<line x1="200.93" y1="238.70" x2="200.93" y2="240.90" stroke="#2a2a2a" stroke-width="0.65"/>
<line x1="208.94" y1="238.70" x2="208.94" y2="240.90" stroke="#2a2a2a" stroke-width="0.65"/>
<line x1="216.95" y1="238.70" x2="216.95" y2="240.90" stroke="#2a2a2a" stroke-width="0.65"/>
<line x1="224.96" y1="238.70" x2="224.96" y2="240.90" stroke="#2a2a2a" stroke-width="0.65"/>
<line x1="232.97" y1="238.70" x2="232.97" y2="240.90" stroke="#2a2a2a" stroke-width="0.65"/>
<line x1="240.98" y1="238.70" x2="240.98" y2="240.90" stroke="#2a2a2a" stroke-width="0.65"/>
<line x1="248.99" y1="238.70" x2="248.99" y2="240.90" stroke="#2a2a2a" stroke-width="0.65"/>
<line x1="257.01" y1="238.70" x2="257.01" y2="240.90" stroke="#2a2a2a" stroke-width="0.65"/>
<line x1="265.02" y1="238.70" x2="265.02" y2="240.90" stroke="#2a2a2a" stroke-width="0.65"/>
<line x1="273.03" y1="238.70" x2="273.03" y2="240.90" stroke="#2a2a2a" stroke-width="0.65"/>
<line x1="281.04" y1="238.70" x2="281.04" y2="240.90" stroke="#2a2a2a" stroke-width="0.65"/>
<line x1="289.05" y1="238.70" x2="289.05" y2="240.90" stroke="#2a2a2a" stroke-width="0.65"/>
<line x1="297.06" y1="238.70" x2="297.06" y2="240.90" stroke="#2a2a2a" stroke-width="0.65"/>
<line x1="305.07" y1="238.70" x2="305.07" y2="240.90" stroke="#2a2a2a" stroke-width="0.65"/>
<line x1="313.08" y1="238.70" x2="313.08" y2="240.90" stroke="#2a2a2a" stroke-width="0.65"/>
<line x1="321.09" y1="238.70" x2="321.09" y2="240.90" stroke="#2a2a2a" stroke-width="0.65"/>
<text x="229.70" y="194.70" font-size="8" text-anchor="start" fill="#1a1a1a" stroke="#1a1a1a" stroke-width="0.14">pre-mir-29a</text>
<rect x="28.50" y="256.00" width="144.20" height="40.00" fill="#fff" stroke="none" stroke-width="0"/>
<rect x="29.20" y="257.60" width="7.14" height="12.40" fill="#DE5D4A" stroke="none" stroke-width="0"/>
<rect x="29.20" y="270.00" width="7.14" height="24.40" fill="#3A5E7F" stroke="none" stroke-width="0"/>
<rect x="36.34" y="257.60" width="7.14" height="6.33" fill="#DE5D4A" stroke="none" stroke-width="0"/>
<rect x="36.34" y="263.93" width="7.14" height="30.47" fill="#3A5E7F" stroke="none" stroke-width="0"/>
<rect x="43.48" y="257.60" width="7.14" height="17.37" fill="#DE5D4A" stroke="none" stroke-width="0"/>
<rect x="43.48" y="274.97" width="7.14" height="19.43" fill="#3A5E7F" stroke="none" stroke-width="0"/>
<rect x="50.62" y="257.60" width="7.14" height="8.57" fill="#DE5D4A" stroke="none" stroke-width="0"/>
<rect x="50.62" y="266.17" width="7.14" height="28.23" fill="#3A5E7F" stroke="none" stroke-width="0"/>
<rect x="57.76" y="257.60" width="7.14" height="12.18" fill="#DE5D4A" stroke="none" stroke-width="0"/>
<rect x="57.76" y="269.78" width="7.14" height="24.62" fill="#3A5E7F" stroke="none" stroke-width="0"/>
<rect x="64.90" y="257.60" width="7.14" height="17.37" fill="#DE5D4A" stroke="none" stroke-width="0"/>
<rect x="64.90" y="274.97" width="7.14" height="19.43" fill="#3A5E7F" stroke="none" stroke-width="0"/>
<rect x="72.04" y="257.60" width="7.14" height="19.87" fill="#DE5D4A" stroke="none" stroke-width="0"/>
<rect x="72.04" y="277.47" width="7.14" height="16.93" fill="#3A5E7F" stroke="none" stroke-width="0"/>
<rect x="79.18" y="257.60" width="7.14" height="18.77" fill="#DE5D4A" stroke="none" stroke-width="0"/>
<rect x="79.18" y="276.37" width="7.14" height="18.03" fill="#3A5E7F" stroke="none" stroke-width="0"/>
<rect x="86.32" y="257.60" width="7.14" height="9.72" fill="#DE5D4A" stroke="none" stroke-width="0"/>
<rect x="86.32" y="267.32" width="7.14" height="27.08" fill="#3A5E7F" stroke="none" stroke-width="0"/>
<rect x="93.46" y="257.60" width="7.14" height="11.74" fill="#DE5D4A" stroke="none" stroke-width="0"/>
<rect x="93.46" y="269.34" width="7.14" height="25.06" fill="#3A5E7F" stroke="none" stroke-width="0"/>
<rect x="100.60" y="257.60" width="7.14" height="11.74" fill="#DE5D4A" stroke="none" stroke-width="0"/>
<rect x="100.60" y="269.34" width="7.14" height="25.06" fill="#3A5E7F" stroke="none" stroke-width="0"/>
<rect x="107.74" y="257.60" width="7.14" height="16.27" fill="#DE5D4A" stroke="none" stroke-width="0"/>
<rect x="107.74" y="273.87" width="7.14" height="20.53" fill="#3A5E7F" stroke="none" stroke-width="0"/>
<rect x="114.88" y="257.60" width="7.14" height="15.35" fill="#DE5D4A" stroke="none" stroke-width="0"/>
<rect x="114.88" y="272.95" width="7.14" height="21.45" fill="#3A5E7F" stroke="none" stroke-width="0"/>
<rect x="122.02" y="257.60" width="7.14" height="9.72" fill="#DE5D4A" stroke="none" stroke-width="0"/>
<rect x="122.02" y="267.32" width="7.14" height="27.08" fill="#3A5E7F" stroke="none" stroke-width="0"/>
<rect x="129.16" y="257.60" width="7.14" height="16.49" fill="#DE5D4A" stroke="none" stroke-width="0"/>
<rect x="129.16" y="274.09" width="7.14" height="20.31" fill="#3A5E7F" stroke="none" stroke-width="0"/>
<rect x="136.30" y="257.60" width="7.14" height="7.91" fill="#DE5D4A" stroke="none" stroke-width="0"/>
<rect x="136.30" y="265.51" width="7.14" height="28.89" fill="#3A5E7F" stroke="none" stroke-width="0"/>
<rect x="143.44" y="257.60" width="7.14" height="13.32" fill="#DE5D4A" stroke="none" stroke-width="0"/>
<rect x="143.44" y="270.92" width="7.14" height="23.48" fill="#3A5E7F" stroke="none" stroke-width="0"/>
<rect x="150.58" y="257.60" width="7.14" height="11.30" fill="#DE5D4A" stroke="none" stroke-width="0"/>
<rect x="150.58" y="268.90" width="7.14" height="25.50" fill="#3A5E7F" stroke="none" stroke-width="0"/>
<rect x="157.72" y="257.60" width="7.14" height="9.27" fill="#DE5D4A" stroke="none" stroke-width="0"/>
<rect x="157.72" y="266.87" width="7.14" height="27.53" fill="#3A5E7F" stroke="none" stroke-width="0"/>
<rect x="164.86" y="257.60" width="7.14" height="13.32" fill="#DE5D4A" stroke="none" stroke-width="0"/>
<rect x="164.86" y="270.92" width="7.14" height="23.48" fill="#3A5E7F" stroke="none" stroke-width="0"/>
<line x1="36.34" y1="257.60" x2="36.34" y2="294.40" stroke="#ffffff" stroke-width="0.95"/>
<line x1="43.48" y1="257.60" x2="43.48" y2="294.40" stroke="#ffffff" stroke-width="0.95"/>
<line x1="50.62" y1="257.60" x2="50.62" y2="294.40" stroke="#ffffff" stroke-width="0.95"/>
<line x1="57.76" y1="257.60" x2="57.76" y2="294.40" stroke="#ffffff" stroke-width="0.95"/>
<line x1="64.90" y1="257.60" x2="64.90" y2="294.40" stroke="#ffffff" stroke-width="0.95"/>
<line x1="72.04" y1="257.60" x2="72.04" y2="294.40" stroke="#ffffff" stroke-width="0.95"/>
<line x1="79.18" y1="257.60" x2="79.18" y2="294.40" stroke="#ffffff" stroke-width="0.95"/>
<line x1="86.32" y1="257.60" x2="86.32" y2="294.40" stroke="#ffffff" stroke-width="0.95"/>
<line x1="93.46" y1="257.60" x2="93.46" y2="294.40" stroke="#ffffff" stroke-width="0.95"/>
<line x1="100.60" y1="257.60" x2="100.60" y2="294.40" stroke="#ffffff" stroke-width="0.95"/>
<line x1="107.74" y1="257.60" x2="107.74" y2="294.40" stroke="#ffffff" stroke-width="0.95"/>
<line x1="114.88" y1="257.60" x2="114.88" y2="294.40" stroke="#ffffff" stroke-width="0.95"/>
<line x1="122.02" y1="257.60" x2="122.02" y2="294.40" stroke="#ffffff" stroke-width="0.95"/>
<line x1="129.16" y1="257.60" x2="129.16" y2="294.40" stroke="#ffffff" stroke-width="0.95"/>
<line x1="136.30" y1="257.60" x2="136.30" y2="294.40" stroke="#ffffff" stroke-width="0.95"/>
<line x1="143.44" y1="257.60" x2="143.44" y2="294.40" stroke="#ffffff" stroke-width="0.95"/>
<line x1="150.58" y1="257.60" x2="150.58" y2="294.40" stroke="#ffffff" stroke-width="0.95"/>
<line x1="157.72" y1="257.60" x2="157.72" y2="294.40" stroke="#ffffff" stroke-width="0.95"/>
<line x1="164.86" y1="257.60" x2="164.86" y2="294.40" stroke="#ffffff" stroke-width="0.95"/>
<line x1="29.20" y1="276.00" x2="172.00" y2="276.00" stroke="#c8c8c8" stroke-width="0.9" stroke-dasharray="2.2,2.2"/>
<rect x="28.50" y="256.00" width="144.20" height="40.00" fill="none" stroke="#3a3a3a" stroke-width="0.85"/>
<line x1="32.77" y1="296.00" x2="32.77" y2="298.20" stroke="#2a2a2a" stroke-width="0.65"/>
<line x1="39.91" y1="296.00" x2="39.91" y2="298.20" stroke="#2a2a2a" stroke-width="0.65"/>
<line x1="47.05" y1="296.00" x2="47.05" y2="298.20" stroke="#2a2a2a" stroke-width="0.65"/>
<line x1="54.19" y1="296.00" x2="54.19" y2="298.20" stroke="#2a2a2a" stroke-width="0.65"/>
<line x1="61.33" y1="296.00" x2="61.33" y2="298.20" stroke="#2a2a2a" stroke-width="0.65"/>
<line x1="68.47" y1="296.00" x2="68.47" y2="298.20" stroke="#2a2a2a" stroke-width="0.65"/>
<line x1="75.61" y1="296.00" x2="75.61" y2="298.20" stroke="#2a2a2a" stroke-width="0.65"/>
<line x1="82.75" y1="296.00" x2="82.75" y2="298.20" stroke="#2a2a2a" stroke-width="0.65"/>
<line x1="89.89" y1="296.00" x2="89.89" y2="298.20" stroke="#2a2a2a" stroke-width="0.65"/>
<line x1="97.03" y1="296.00" x2="97.03" y2="298.20" stroke="#2a2a2a" stroke-width="0.65"/>
<line x1="104.17" y1="296.00" x2="104.17" y2="298.20" stroke="#2a2a2a" stroke-width="0.65"/>
<line x1="111.31" y1="296.00" x2="111.31" y2="298.20" stroke="#2a2a2a" stroke-width="0.65"/>
<line x1="118.45" y1="296.00" x2="118.45" y2="298.20" stroke="#2a2a2a" stroke-width="0.65"/>
<line x1="125.59" y1="296.00" x2="125.59" y2="298.20" stroke="#2a2a2a" stroke-width="0.65"/>
<line x1="132.73" y1="296.00" x2="132.73" y2="298.20" stroke="#2a2a2a" stroke-width="0.65"/>
<line x1="139.87" y1="296.00" x2="139.87" y2="298.20" stroke="#2a2a2a" stroke-width="0.65"/>
<line x1="147.01" y1="296.00" x2="147.01" y2="298.20" stroke="#2a2a2a" stroke-width="0.65"/>
<line x1="154.15" y1="296.00" x2="154.15" y2="298.20" stroke="#2a2a2a" stroke-width="0.65"/>
<line x1="161.29" y1="296.00" x2="161.29" y2="298.20" stroke="#2a2a2a" stroke-width="0.65"/>
<line x1="168.43" y1="296.00" x2="168.43" y2="298.20" stroke="#2a2a2a" stroke-width="0.65"/>
<line x1="26.50" y1="294.40" x2="28.50" y2="294.40" stroke="#333" stroke-width="0.7"/>
<line x1="26.50" y1="285.20" x2="28.50" y2="285.20" stroke="#333" stroke-width="0.7"/>
<line x1="26.50" y1="276.00" x2="28.50" y2="276.00" stroke="#333" stroke-width="0.7"/>
<line x1="26.50" y1="266.80" x2="28.50" y2="266.80" stroke="#333" stroke-width="0.7"/>
<line x1="26.50" y1="257.60" x2="28.50" y2="257.60" stroke="#333" stroke-width="0.7"/>
<text x="24.20" y="297.60" font-size="8.0" text-anchor="end" fill="#222" stroke="#222" stroke-width="0.14">0.0</text>
<text x="24.20" y="279.20" font-size="8.0" text-anchor="end" fill="#222" stroke="#222" stroke-width="0.14">0.5</text>
<text x="24.20" y="260.80" font-size="8.0" text-anchor="end" fill="#222" stroke="#222" stroke-width="0.14">1.0</text>
<text x="0.00" y="0.00" font-size="8.3" text-anchor="middle" fill="#1a1a1a" transform="translate(8.40,277.00) rotate(-90)" stroke="#1a1a1a" stroke-width="0.14">Arm ratio</text>
<text x="79.60" y="251.80" font-size="8" text-anchor="start" fill="#1a1a1a" stroke="#1a1a1a" stroke-width="0.14">pre-mir-144</text>
<rect x="179.60" y="256.00" width="146.40" height="40.00" fill="#fff" stroke="none" stroke-width="0"/>
<rect x="180.90" y="257.60" width="8.01" height="33.75" fill="#DE5D4A" stroke="none" stroke-width="0"/>
<rect x="180.90" y="291.35" width="8.01" height="3.05" fill="#3A5E7F" stroke="none" stroke-width="0"/>
<rect x="188.91" y="257.60" width="8.01" height="33.52" fill="#DE5D4A" stroke="none" stroke-width="0"/>
<rect x="188.91" y="291.12" width="8.01" height="3.28" fill="#3A5E7F" stroke="none" stroke-width="0"/>
<rect x="196.92" y="257.60" width="8.01" height="21.34" fill="#DE5D4A" stroke="none" stroke-width="0"/>
<rect x="196.92" y="278.94" width="8.01" height="15.46" fill="#3A5E7F" stroke="none" stroke-width="0"/>
<rect x="204.93" y="257.60" width="8.01" height="32.57" fill="#DE5D4A" stroke="none" stroke-width="0"/>
<rect x="204.93" y="290.17" width="8.01" height="4.23" fill="#3A5E7F" stroke="none" stroke-width="0"/>
<rect x="212.94" y="257.60" width="8.01" height="33.52" fill="#DE5D4A" stroke="none" stroke-width="0"/>
<rect x="212.94" y="291.12" width="8.01" height="3.28" fill="#3A5E7F" stroke="none" stroke-width="0"/>
<rect x="220.96" y="257.60" width="8.01" height="32.13" fill="#DE5D4A" stroke="none" stroke-width="0"/>
<rect x="220.96" y="289.73" width="8.01" height="4.67" fill="#3A5E7F" stroke="none" stroke-width="0"/>
<rect x="228.97" y="257.60" width="8.01" height="29.77" fill="#DE5D4A" stroke="none" stroke-width="0"/>
<rect x="228.97" y="287.37" width="8.01" height="7.03" fill="#3A5E7F" stroke="none" stroke-width="0"/>
<rect x="236.98" y="257.60" width="8.01" height="32.83" fill="#DE5D4A" stroke="none" stroke-width="0"/>
<rect x="236.98" y="290.43" width="8.01" height="3.97" fill="#3A5E7F" stroke="none" stroke-width="0"/>
<rect x="244.99" y="257.60" width="8.01" height="33.05" fill="#DE5D4A" stroke="none" stroke-width="0"/>
<rect x="244.99" y="290.65" width="8.01" height="3.75" fill="#3A5E7F" stroke="none" stroke-width="0"/>
<rect x="253.00" y="257.60" width="8.01" height="34.44" fill="#DE5D4A" stroke="none" stroke-width="0"/>
<rect x="253.00" y="292.04" width="8.01" height="2.36" fill="#3A5E7F" stroke="none" stroke-width="0"/>
<rect x="261.01" y="257.60" width="8.01" height="32.57" fill="#DE5D4A" stroke="none" stroke-width="0"/>
<rect x="261.01" y="290.17" width="8.01" height="4.23" fill="#3A5E7F" stroke="none" stroke-width="0"/>
<rect x="269.02" y="257.60" width="8.01" height="33.52" fill="#DE5D4A" stroke="none" stroke-width="0"/>
<rect x="269.02" y="291.12" width="8.01" height="3.28" fill="#3A5E7F" stroke="none" stroke-width="0"/>
<rect x="277.03" y="257.60" width="8.01" height="33.52" fill="#DE5D4A" stroke="none" stroke-width="0"/>
<rect x="277.03" y="291.12" width="8.01" height="3.28" fill="#3A5E7F" stroke="none" stroke-width="0"/>
<rect x="285.04" y="257.60" width="8.01" height="33.75" fill="#DE5D4A" stroke="none" stroke-width="0"/>
<rect x="285.04" y="291.35" width="8.01" height="3.05" fill="#3A5E7F" stroke="none" stroke-width="0"/>
<rect x="293.06" y="257.60" width="8.01" height="32.35" fill="#DE5D4A" stroke="none" stroke-width="0"/>
<rect x="293.06" y="289.95" width="8.01" height="4.45" fill="#3A5E7F" stroke="none" stroke-width="0"/>
<rect x="301.07" y="257.60" width="8.01" height="33.52" fill="#DE5D4A" stroke="none" stroke-width="0"/>
<rect x="301.07" y="291.12" width="8.01" height="3.28" fill="#3A5E7F" stroke="none" stroke-width="0"/>
<rect x="309.08" y="257.60" width="8.01" height="32.57" fill="#DE5D4A" stroke="none" stroke-width="0"/>
<rect x="309.08" y="290.17" width="8.01" height="4.23" fill="#3A5E7F" stroke="none" stroke-width="0"/>
<rect x="317.09" y="257.60" width="8.01" height="34.22" fill="#DE5D4A" stroke="none" stroke-width="0"/>
<rect x="317.09" y="291.82" width="8.01" height="2.58" fill="#3A5E7F" stroke="none" stroke-width="0"/>
<line x1="188.91" y1="257.60" x2="188.91" y2="294.40" stroke="#ffffff" stroke-width="0.95"/>
<line x1="196.92" y1="257.60" x2="196.92" y2="294.40" stroke="#ffffff" stroke-width="0.95"/>
<line x1="204.93" y1="257.60" x2="204.93" y2="294.40" stroke="#ffffff" stroke-width="0.95"/>
<line x1="212.94" y1="257.60" x2="212.94" y2="294.40" stroke="#ffffff" stroke-width="0.95"/>
<line x1="220.96" y1="257.60" x2="220.96" y2="294.40" stroke="#ffffff" stroke-width="0.95"/>
<line x1="228.97" y1="257.60" x2="228.97" y2="294.40" stroke="#ffffff" stroke-width="0.95"/>
<line x1="236.98" y1="257.60" x2="236.98" y2="294.40" stroke="#ffffff" stroke-width="0.95"/>
<line x1="244.99" y1="257.60" x2="244.99" y2="294.40" stroke="#ffffff" stroke-width="0.95"/>
<line x1="253.00" y1="257.60" x2="253.00" y2="294.40" stroke="#ffffff" stroke-width="0.95"/>
<line x1="261.01" y1="257.60" x2="261.01" y2="294.40" stroke="#ffffff" stroke-width="0.95"/>
<line x1="269.02" y1="257.60" x2="269.02" y2="294.40" stroke="#ffffff" stroke-width="0.95"/>
<line x1="277.03" y1="257.60" x2="277.03" y2="294.40" stroke="#ffffff" stroke-width="0.95"/>
<line x1="285.04" y1="257.60" x2="285.04" y2="294.40" stroke="#ffffff" stroke-width="0.95"/>
<line x1="293.06" y1="257.60" x2="293.06" y2="294.40" stroke="#ffffff" stroke-width="0.95"/>
<line x1="301.07" y1="257.60" x2="301.07" y2="294.40" stroke="#ffffff" stroke-width="0.95"/>
<line x1="309.08" y1="257.60" x2="309.08" y2="294.40" stroke="#ffffff" stroke-width="0.95"/>
<line x1="317.09" y1="257.60" x2="317.09" y2="294.40" stroke="#ffffff" stroke-width="0.95"/>
<line x1="180.90" y1="276.00" x2="325.10" y2="276.00" stroke="#c8c8c8" stroke-width="0.9" stroke-dasharray="2.2,2.2"/>
<rect x="179.60" y="256.00" width="146.40" height="40.00" fill="none" stroke="#3a3a3a" stroke-width="0.85"/>
<line x1="184.91" y1="296.00" x2="184.91" y2="298.20" stroke="#2a2a2a" stroke-width="0.65"/>
<line x1="192.92" y1="296.00" x2="192.92" y2="298.20" stroke="#2a2a2a" stroke-width="0.65"/>
<line x1="200.93" y1="296.00" x2="200.93" y2="298.20" stroke="#2a2a2a" stroke-width="0.65"/>
<line x1="208.94" y1="296.00" x2="208.94" y2="298.20" stroke="#2a2a2a" stroke-width="0.65"/>
<line x1="216.95" y1="296.00" x2="216.95" y2="298.20" stroke="#2a2a2a" stroke-width="0.65"/>
<line x1="224.96" y1="296.00" x2="224.96" y2="298.20" stroke="#2a2a2a" stroke-width="0.65"/>
<line x1="232.97" y1="296.00" x2="232.97" y2="298.20" stroke="#2a2a2a" stroke-width="0.65"/>
<line x1="240.98" y1="296.00" x2="240.98" y2="298.20" stroke="#2a2a2a" stroke-width="0.65"/>
<line x1="248.99" y1="296.00" x2="248.99" y2="298.20" stroke="#2a2a2a" stroke-width="0.65"/>
<line x1="257.01" y1="296.00" x2="257.01" y2="298.20" stroke="#2a2a2a" stroke-width="0.65"/>
<line x1="265.02" y1="296.00" x2="265.02" y2="298.20" stroke="#2a2a2a" stroke-width="0.65"/>
<line x1="273.03" y1="296.00" x2="273.03" y2="298.20" stroke="#2a2a2a" stroke-width="0.65"/>
<line x1="281.04" y1="296.00" x2="281.04" y2="298.20" stroke="#2a2a2a" stroke-width="0.65"/>
<line x1="289.05" y1="296.00" x2="289.05" y2="298.20" stroke="#2a2a2a" stroke-width="0.65"/>
<line x1="297.06" y1="296.00" x2="297.06" y2="298.20" stroke="#2a2a2a" stroke-width="0.65"/>
<line x1="305.07" y1="296.00" x2="305.07" y2="298.20" stroke="#2a2a2a" stroke-width="0.65"/>
<line x1="313.08" y1="296.00" x2="313.08" y2="298.20" stroke="#2a2a2a" stroke-width="0.65"/>
<line x1="321.09" y1="296.00" x2="321.09" y2="298.20" stroke="#2a2a2a" stroke-width="0.65"/>
<text x="229.70" y="251.70" font-size="8" text-anchor="start" fill="#1a1a1a" stroke="#1a1a1a" stroke-width="0.14">pre-mir-339</text>
<rect x="28.50" y="315.10" width="144.20" height="40.10" fill="#fff" stroke="none" stroke-width="0"/>
<rect x="29.20" y="317.00" width="7.14" height="18.76" fill="#DE5D4A" stroke="none" stroke-width="0"/>
<rect x="29.20" y="335.76" width="7.14" height="17.84" fill="#3A5E7F" stroke="none" stroke-width="0"/>
<rect x="36.34" y="317.00" width="7.14" height="3.88" fill="#DE5D4A" stroke="none" stroke-width="0"/>
<rect x="36.34" y="320.88" width="7.14" height="32.72" fill="#3A5E7F" stroke="none" stroke-width="0"/>
<rect x="43.48" y="317.00" width="7.14" height="16.93" fill="#DE5D4A" stroke="none" stroke-width="0"/>
<rect x="43.48" y="333.93" width="7.14" height="19.67" fill="#3A5E7F" stroke="none" stroke-width="0"/>
<rect x="50.62" y="317.00" width="7.14" height="19.22" fill="#DE5D4A" stroke="none" stroke-width="0"/>
<rect x="50.62" y="336.22" width="7.14" height="17.38" fill="#3A5E7F" stroke="none" stroke-width="0"/>
<rect x="57.76" y="317.00" width="7.14" height="16.01" fill="#DE5D4A" stroke="none" stroke-width="0"/>
<rect x="57.76" y="333.01" width="7.14" height="20.59" fill="#3A5E7F" stroke="none" stroke-width="0"/>
<rect x="64.90" y="317.00" width="7.14" height="15.37" fill="#DE5D4A" stroke="none" stroke-width="0"/>
<rect x="64.90" y="332.37" width="7.14" height="21.23" fill="#3A5E7F" stroke="none" stroke-width="0"/>
<rect x="72.04" y="317.00" width="7.14" height="16.01" fill="#DE5D4A" stroke="none" stroke-width="0"/>
<rect x="72.04" y="333.01" width="7.14" height="20.59" fill="#3A5E7F" stroke="none" stroke-width="0"/>
<rect x="79.18" y="317.00" width="7.14" height="16.01" fill="#DE5D4A" stroke="none" stroke-width="0"/>
<rect x="79.18" y="333.01" width="7.14" height="20.59" fill="#3A5E7F" stroke="none" stroke-width="0"/>
<rect x="86.32" y="317.00" width="7.14" height="16.47" fill="#DE5D4A" stroke="none" stroke-width="0"/>
<rect x="86.32" y="333.47" width="7.14" height="20.13" fill="#3A5E7F" stroke="none" stroke-width="0"/>
<rect x="93.46" y="317.00" width="7.14" height="14.86" fill="#DE5D4A" stroke="none" stroke-width="0"/>
<rect x="93.46" y="331.86" width="7.14" height="21.74" fill="#3A5E7F" stroke="none" stroke-width="0"/>
<rect x="100.60" y="317.00" width="7.14" height="17.60" fill="#DE5D4A" stroke="none" stroke-width="0"/>
<rect x="100.60" y="334.60" width="7.14" height="19.00" fill="#3A5E7F" stroke="none" stroke-width="0"/>
<rect x="107.74" y="317.00" width="7.14" height="17.84" fill="#DE5D4A" stroke="none" stroke-width="0"/>
<rect x="107.74" y="334.84" width="7.14" height="18.76" fill="#3A5E7F" stroke="none" stroke-width="0"/>
<rect x="114.88" y="317.00" width="7.14" height="14.86" fill="#DE5D4A" stroke="none" stroke-width="0"/>
<rect x="114.88" y="331.86" width="7.14" height="21.74" fill="#3A5E7F" stroke="none" stroke-width="0"/>
<rect x="122.02" y="317.00" width="7.14" height="13.27" fill="#DE5D4A" stroke="none" stroke-width="0"/>
<rect x="122.02" y="330.27" width="7.14" height="23.33" fill="#3A5E7F" stroke="none" stroke-width="0"/>
<rect x="129.16" y="317.00" width="7.14" height="16.93" fill="#DE5D4A" stroke="none" stroke-width="0"/>
<rect x="129.16" y="333.93" width="7.14" height="19.67" fill="#3A5E7F" stroke="none" stroke-width="0"/>
<rect x="136.30" y="317.00" width="7.14" height="18.08" fill="#DE5D4A" stroke="none" stroke-width="0"/>
<rect x="136.30" y="335.08" width="7.14" height="18.52" fill="#3A5E7F" stroke="none" stroke-width="0"/>
<rect x="143.44" y="317.00" width="7.14" height="14.86" fill="#DE5D4A" stroke="none" stroke-width="0"/>
<rect x="143.44" y="331.86" width="7.14" height="21.74" fill="#3A5E7F" stroke="none" stroke-width="0"/>
<rect x="150.58" y="317.00" width="7.14" height="15.37" fill="#DE5D4A" stroke="none" stroke-width="0"/>
<rect x="150.58" y="332.37" width="7.14" height="21.23" fill="#3A5E7F" stroke="none" stroke-width="0"/>
<rect x="157.72" y="317.00" width="7.14" height="13.03" fill="#DE5D4A" stroke="none" stroke-width="0"/>
<rect x="157.72" y="330.03" width="7.14" height="23.57" fill="#3A5E7F" stroke="none" stroke-width="0"/>
<rect x="164.86" y="317.00" width="7.14" height="13.73" fill="#DE5D4A" stroke="none" stroke-width="0"/>
<rect x="164.86" y="330.73" width="7.14" height="22.88" fill="#3A5E7F" stroke="none" stroke-width="0"/>
<line x1="36.34" y1="317.00" x2="36.34" y2="353.60" stroke="#ffffff" stroke-width="0.95"/>
<line x1="43.48" y1="317.00" x2="43.48" y2="353.60" stroke="#ffffff" stroke-width="0.95"/>
<line x1="50.62" y1="317.00" x2="50.62" y2="353.60" stroke="#ffffff" stroke-width="0.95"/>
<line x1="57.76" y1="317.00" x2="57.76" y2="353.60" stroke="#ffffff" stroke-width="0.95"/>
<line x1="64.90" y1="317.00" x2="64.90" y2="353.60" stroke="#ffffff" stroke-width="0.95"/>
<line x1="72.04" y1="317.00" x2="72.04" y2="353.60" stroke="#ffffff" stroke-width="0.95"/>
<line x1="79.18" y1="317.00" x2="79.18" y2="353.60" stroke="#ffffff" stroke-width="0.95"/>
<line x1="86.32" y1="317.00" x2="86.32" y2="353.60" stroke="#ffffff" stroke-width="0.95"/>
<line x1="93.46" y1="317.00" x2="93.46" y2="353.60" stroke="#ffffff" stroke-width="0.95"/>
<line x1="100.60" y1="317.00" x2="100.60" y2="353.60" stroke="#ffffff" stroke-width="0.95"/>
<line x1="107.74" y1="317.00" x2="107.74" y2="353.60" stroke="#ffffff" stroke-width="0.95"/>
<line x1="114.88" y1="317.00" x2="114.88" y2="353.60" stroke="#ffffff" stroke-width="0.95"/>
<line x1="122.02" y1="317.00" x2="122.02" y2="353.60" stroke="#ffffff" stroke-width="0.95"/>
<line x1="129.16" y1="317.00" x2="129.16" y2="353.60" stroke="#ffffff" stroke-width="0.95"/>
<line x1="136.30" y1="317.00" x2="136.30" y2="353.60" stroke="#ffffff" stroke-width="0.95"/>
<line x1="143.44" y1="317.00" x2="143.44" y2="353.60" stroke="#ffffff" stroke-width="0.95"/>
<line x1="150.58" y1="317.00" x2="150.58" y2="353.60" stroke="#ffffff" stroke-width="0.95"/>
<line x1="157.72" y1="317.00" x2="157.72" y2="353.60" stroke="#ffffff" stroke-width="0.95"/>
<line x1="164.86" y1="317.00" x2="164.86" y2="353.60" stroke="#ffffff" stroke-width="0.95"/>
<line x1="29.20" y1="335.30" x2="172.00" y2="335.30" stroke="#c8c8c8" stroke-width="0.9" stroke-dasharray="2.2,2.2"/>
<rect x="28.50" y="315.10" width="144.20" height="40.10" fill="none" stroke="#3a3a3a" stroke-width="0.85"/>
<line x1="32.77" y1="355.20" x2="32.77" y2="357.40" stroke="#2a2a2a" stroke-width="0.65"/>
<line x1="39.91" y1="355.20" x2="39.91" y2="357.40" stroke="#2a2a2a" stroke-width="0.65"/>
<line x1="47.05" y1="355.20" x2="47.05" y2="357.40" stroke="#2a2a2a" stroke-width="0.65"/>
<line x1="54.19" y1="355.20" x2="54.19" y2="357.40" stroke="#2a2a2a" stroke-width="0.65"/>
<line x1="61.33" y1="355.20" x2="61.33" y2="357.40" stroke="#2a2a2a" stroke-width="0.65"/>
<line x1="68.47" y1="355.20" x2="68.47" y2="357.40" stroke="#2a2a2a" stroke-width="0.65"/>
<line x1="75.61" y1="355.20" x2="75.61" y2="357.40" stroke="#2a2a2a" stroke-width="0.65"/>
<line x1="82.75" y1="355.20" x2="82.75" y2="357.40" stroke="#2a2a2a" stroke-width="0.65"/>
<line x1="89.89" y1="355.20" x2="89.89" y2="357.40" stroke="#2a2a2a" stroke-width="0.65"/>
<line x1="97.03" y1="355.20" x2="97.03" y2="357.40" stroke="#2a2a2a" stroke-width="0.65"/>
<line x1="104.17" y1="355.20" x2="104.17" y2="357.40" stroke="#2a2a2a" stroke-width="0.65"/>
<line x1="111.31" y1="355.20" x2="111.31" y2="357.40" stroke="#2a2a2a" stroke-width="0.65"/>
<line x1="118.45" y1="355.20" x2="118.45" y2="357.40" stroke="#2a2a2a" stroke-width="0.65"/>
<line x1="125.59" y1="355.20" x2="125.59" y2="357.40" stroke="#2a2a2a" stroke-width="0.65"/>
<line x1="132.73" y1="355.20" x2="132.73" y2="357.40" stroke="#2a2a2a" stroke-width="0.65"/>
<line x1="139.87" y1="355.20" x2="139.87" y2="357.40" stroke="#2a2a2a" stroke-width="0.65"/>
<line x1="147.01" y1="355.20" x2="147.01" y2="357.40" stroke="#2a2a2a" stroke-width="0.65"/>
<line x1="154.15" y1="355.20" x2="154.15" y2="357.40" stroke="#2a2a2a" stroke-width="0.65"/>
<line x1="161.29" y1="355.20" x2="161.29" y2="357.40" stroke="#2a2a2a" stroke-width="0.65"/>
<line x1="168.43" y1="355.20" x2="168.43" y2="357.40" stroke="#2a2a2a" stroke-width="0.65"/>
<line x1="26.50" y1="353.60" x2="28.50" y2="353.60" stroke="#333" stroke-width="0.7"/>
<line x1="26.50" y1="344.45" x2="28.50" y2="344.45" stroke="#333" stroke-width="0.7"/>
<line x1="26.50" y1="335.30" x2="28.50" y2="335.30" stroke="#333" stroke-width="0.7"/>
<line x1="26.50" y1="326.15" x2="28.50" y2="326.15" stroke="#333" stroke-width="0.7"/>
<line x1="26.50" y1="317.00" x2="28.50" y2="317.00" stroke="#333" stroke-width="0.7"/>
<text x="24.20" y="356.80" font-size="8.0" text-anchor="end" fill="#222" stroke="#222" stroke-width="0.14">0.0</text>
<text x="24.20" y="338.50" font-size="8.0" text-anchor="end" fill="#222" stroke="#222" stroke-width="0.14">0.5</text>
<text x="24.20" y="320.20" font-size="8.0" text-anchor="end" fill="#222" stroke="#222" stroke-width="0.14">1.0</text>
<text x="0.00" y="0.00" font-size="8.3" text-anchor="middle" fill="#1a1a1a" transform="translate(8.40,336.30) rotate(-90)" stroke="#1a1a1a" stroke-width="0.14">Arm ratio</text>
<text x="78.60" y="308.90" font-size="8" text-anchor="start" fill="#1a1a1a" stroke="#1a1a1a" stroke-width="0.14">pre-mir-142a</text>
<text x="0.00" y="0.00" font-size="6.7" text-anchor="end" fill="#222" transform="translate(34.27,360.10) rotate(-90)" stroke="#222" stroke-width="0.14">Adipose</text>
<text x="0.00" y="0.00" font-size="6.7" text-anchor="end" fill="#222" transform="translate(41.41,360.10) rotate(-90)" stroke="#222" stroke-width="0.14">Blood</text>
<text x="0.00" y="0.00" font-size="6.7" text-anchor="end" fill="#222" transform="translate(48.55,360.10) rotate(-90)" stroke="#222" stroke-width="0.14">Brain</text>
<text x="0.00" y="0.00" font-size="6.7" text-anchor="end" fill="#222" transform="translate(55.69,360.10) rotate(-90)" stroke="#222" stroke-width="0.14">Breast</text>
<text x="0.00" y="0.00" font-size="6.7" text-anchor="end" fill="#222" transform="translate(62.83,360.10) rotate(-90)" stroke="#222" stroke-width="0.14">Colon</text>
<text x="0.00" y="0.00" font-size="6.7" text-anchor="end" fill="#222" transform="translate(69.97,360.10) rotate(-90)" stroke="#222" stroke-width="0.14">Erythrocyte</text>
<text x="0.00" y="0.00" font-size="6.7" text-anchor="end" fill="#222" transform="translate(77.11,360.10) rotate(-90)" stroke="#222" stroke-width="0.14">Heart</text>
<text x="0.00" y="0.00" font-size="6.7" text-anchor="end" fill="#222" transform="translate(84.25,360.10) rotate(-90)" stroke="#222" stroke-width="0.14">Kidney</text>
<text x="0.00" y="0.00" font-size="6.7" text-anchor="end" fill="#222" transform="translate(91.39,360.10) rotate(-90)" stroke="#222" stroke-width="0.14">Leukocyte</text>
<text x="0.00" y="0.00" font-size="6.7" text-anchor="end" fill="#222" transform="translate(98.53,360.10) rotate(-90)" stroke="#222" stroke-width="0.14">Liver</text>
<text x="0.00" y="0.00" font-size="6.7" text-anchor="end" fill="#222" transform="translate(105.67,360.10) rotate(-90)" stroke="#222" stroke-width="0.14">Lung</text>
<text x="0.00" y="0.00" font-size="6.7" text-anchor="end" fill="#222" transform="translate(112.81,360.10) rotate(-90)" stroke="#222" stroke-width="0.14">Muscle</text>
<text x="0.00" y="0.00" font-size="6.7" text-anchor="end" fill="#222" transform="translate(119.95,360.10) rotate(-90)" stroke="#222" stroke-width="0.14">Ovary</text>
<text x="0.00" y="0.00" font-size="6.7" text-anchor="end" fill="#222" transform="translate(127.09,360.10) rotate(-90)" stroke="#222" stroke-width="0.14">Pancreas</text>
<text x="0.00" y="0.00" font-size="6.7" text-anchor="end" fill="#222" transform="translate(134.23,360.10) rotate(-90)" stroke="#222" stroke-width="0.14">Rectum</text>
<text x="0.00" y="0.00" font-size="6.7" text-anchor="end" fill="#222" transform="translate(141.37,360.10) rotate(-90)" stroke="#222" stroke-width="0.14">Skin</text>
<text x="0.00" y="0.00" font-size="6.7" text-anchor="end" fill="#222" transform="translate(148.51,360.10) rotate(-90)" stroke="#222" stroke-width="0.14">Spleen</text>
<text x="0.00" y="0.00" font-size="6.7" text-anchor="end" fill="#222" transform="translate(155.65,360.10) rotate(-90)" stroke="#222" stroke-width="0.14">Stomach</text>
<text x="0.00" y="0.00" font-size="6.7" text-anchor="end" fill="#222" transform="translate(162.79,360.10) rotate(-90)" stroke="#222" stroke-width="0.14">Testis</text>
<text x="0.00" y="0.00" font-size="6.7" text-anchor="end" fill="#222" transform="translate(169.93,360.10) rotate(-90)" stroke="#222" stroke-width="0.14">Thymus</text>
<rect x="179.60" y="315.10" width="146.40" height="40.10" fill="#fff" stroke="none" stroke-width="0"/>
<rect x="180.90" y="317.00" width="8.01" height="3.95" fill="#DE5D4A" stroke="none" stroke-width="0"/>
<rect x="180.90" y="320.95" width="8.01" height="32.65" fill="#3A5E7F" stroke="none" stroke-width="0"/>
<rect x="188.91" y="317.00" width="8.01" height="4.65" fill="#DE5D4A" stroke="none" stroke-width="0"/>
<rect x="188.91" y="321.65" width="8.01" height="31.95" fill="#3A5E7F" stroke="none" stroke-width="0"/>
<rect x="196.92" y="317.00" width="8.01" height="10.17" fill="#DE5D4A" stroke="none" stroke-width="0"/>
<rect x="196.92" y="327.17" width="8.01" height="26.43" fill="#3A5E7F" stroke="none" stroke-width="0"/>
<rect x="204.93" y="317.00" width="8.01" height="8.56" fill="#DE5D4A" stroke="none" stroke-width="0"/>
<rect x="204.93" y="325.56" width="8.01" height="28.04" fill="#3A5E7F" stroke="none" stroke-width="0"/>
<rect x="212.94" y="317.00" width="8.01" height="6.04" fill="#DE5D4A" stroke="none" stroke-width="0"/>
<rect x="212.94" y="323.04" width="8.01" height="30.56" fill="#3A5E7F" stroke="none" stroke-width="0"/>
<rect x="220.96" y="317.00" width="8.01" height="4.17" fill="#DE5D4A" stroke="none" stroke-width="0"/>
<rect x="220.96" y="321.17" width="8.01" height="32.43" fill="#3A5E7F" stroke="none" stroke-width="0"/>
<rect x="228.97" y="317.00" width="8.01" height="3.26" fill="#DE5D4A" stroke="none" stroke-width="0"/>
<rect x="228.97" y="320.26" width="8.01" height="33.34" fill="#3A5E7F" stroke="none" stroke-width="0"/>
<rect x="236.98" y="317.00" width="8.01" height="5.34" fill="#DE5D4A" stroke="none" stroke-width="0"/>
<rect x="236.98" y="322.34" width="8.01" height="31.26" fill="#3A5E7F" stroke="none" stroke-width="0"/>
<rect x="244.99" y="317.00" width="8.01" height="6.73" fill="#DE5D4A" stroke="none" stroke-width="0"/>
<rect x="244.99" y="323.73" width="8.01" height="29.87" fill="#3A5E7F" stroke="none" stroke-width="0"/>
<rect x="253.00" y="317.00" width="8.01" height="7.43" fill="#DE5D4A" stroke="none" stroke-width="0"/>
<rect x="253.00" y="324.43" width="8.01" height="29.17" fill="#3A5E7F" stroke="none" stroke-width="0"/>
<rect x="261.01" y="317.00" width="8.01" height="9.96" fill="#DE5D4A" stroke="none" stroke-width="0"/>
<rect x="261.01" y="326.96" width="8.01" height="26.64" fill="#3A5E7F" stroke="none" stroke-width="0"/>
<rect x="269.02" y="317.00" width="8.01" height="6.26" fill="#DE5D4A" stroke="none" stroke-width="0"/>
<rect x="269.02" y="323.26" width="8.01" height="30.34" fill="#3A5E7F" stroke="none" stroke-width="0"/>
<rect x="277.03" y="317.00" width="8.01" height="8.34" fill="#DE5D4A" stroke="none" stroke-width="0"/>
<rect x="277.03" y="325.34" width="8.01" height="28.26" fill="#3A5E7F" stroke="none" stroke-width="0"/>
<rect x="285.04" y="317.00" width="8.01" height="6.48" fill="#DE5D4A" stroke="none" stroke-width="0"/>
<rect x="285.04" y="323.48" width="8.01" height="30.12" fill="#3A5E7F" stroke="none" stroke-width="0"/>
<rect x="293.06" y="317.00" width="8.01" height="9.04" fill="#DE5D4A" stroke="none" stroke-width="0"/>
<rect x="293.06" y="326.04" width="8.01" height="27.56" fill="#3A5E7F" stroke="none" stroke-width="0"/>
<rect x="301.07" y="317.00" width="8.01" height="7.43" fill="#DE5D4A" stroke="none" stroke-width="0"/>
<rect x="301.07" y="324.43" width="8.01" height="29.17" fill="#3A5E7F" stroke="none" stroke-width="0"/>
<rect x="309.08" y="317.00" width="8.01" height="9.96" fill="#DE5D4A" stroke="none" stroke-width="0"/>
<rect x="309.08" y="326.96" width="8.01" height="26.64" fill="#3A5E7F" stroke="none" stroke-width="0"/>
<rect x="317.09" y="317.00" width="8.01" height="7.17" fill="#DE5D4A" stroke="none" stroke-width="0"/>
<rect x="317.09" y="324.17" width="8.01" height="29.43" fill="#3A5E7F" stroke="none" stroke-width="0"/>
<line x1="188.91" y1="317.00" x2="188.91" y2="353.60" stroke="#ffffff" stroke-width="0.95"/>
<line x1="196.92" y1="317.00" x2="196.92" y2="353.60" stroke="#ffffff" stroke-width="0.95"/>
<line x1="204.93" y1="317.00" x2="204.93" y2="353.60" stroke="#ffffff" stroke-width="0.95"/>
<line x1="212.94" y1="317.00" x2="212.94" y2="353.60" stroke="#ffffff" stroke-width="0.95"/>
<line x1="220.96" y1="317.00" x2="220.96" y2="353.60" stroke="#ffffff" stroke-width="0.95"/>
<line x1="228.97" y1="317.00" x2="228.97" y2="353.60" stroke="#ffffff" stroke-width="0.95"/>
<line x1="236.98" y1="317.00" x2="236.98" y2="353.60" stroke="#ffffff" stroke-width="0.95"/>
<line x1="244.99" y1="317.00" x2="244.99" y2="353.60" stroke="#ffffff" stroke-width="0.95"/>
<line x1="253.00" y1="317.00" x2="253.00" y2="353.60" stroke="#ffffff" stroke-width="0.95"/>
<line x1="261.01" y1="317.00" x2="261.01" y2="353.60" stroke="#ffffff" stroke-width="0.95"/>
<line x1="269.02" y1="317.00" x2="269.02" y2="353.60" stroke="#ffffff" stroke-width="0.95"/>
<line x1="277.03" y1="317.00" x2="277.03" y2="353.60" stroke="#ffffff" stroke-width="0.95"/>
<line x1="285.04" y1="317.00" x2="285.04" y2="353.60" stroke="#ffffff" stroke-width="0.95"/>
<line x1="293.06" y1="317.00" x2="293.06" y2="353.60" stroke="#ffffff" stroke-width="0.95"/>
<line x1="301.07" y1="317.00" x2="301.07" y2="353.60" stroke="#ffffff" stroke-width="0.95"/>
<line x1="309.08" y1="317.00" x2="309.08" y2="353.60" stroke="#ffffff" stroke-width="0.95"/>
<line x1="317.09" y1="317.00" x2="317.09" y2="353.60" stroke="#ffffff" stroke-width="0.95"/>
<line x1="180.90" y1="335.30" x2="325.10" y2="335.30" stroke="#c8c8c8" stroke-width="0.9" stroke-dasharray="2.2,2.2"/>
<rect x="179.60" y="315.10" width="146.40" height="40.10" fill="none" stroke="#3a3a3a" stroke-width="0.85"/>
<line x1="184.91" y1="355.20" x2="184.91" y2="357.40" stroke="#2a2a2a" stroke-width="0.65"/>
<line x1="192.92" y1="355.20" x2="192.92" y2="357.40" stroke="#2a2a2a" stroke-width="0.65"/>
<line x1="200.93" y1="355.20" x2="200.93" y2="357.40" stroke="#2a2a2a" stroke-width="0.65"/>
<line x1="208.94" y1="355.20" x2="208.94" y2="357.40" stroke="#2a2a2a" stroke-width="0.65"/>
<line x1="216.95" y1="355.20" x2="216.95" y2="357.40" stroke="#2a2a2a" stroke-width="0.65"/>
<line x1="224.96" y1="355.20" x2="224.96" y2="357.40" stroke="#2a2a2a" stroke-width="0.65"/>
<line x1="232.97" y1="355.20" x2="232.97" y2="357.40" stroke="#2a2a2a" stroke-width="0.65"/>
<line x1="240.98" y1="355.20" x2="240.98" y2="357.40" stroke="#2a2a2a" stroke-width="0.65"/>
<line x1="248.99" y1="355.20" x2="248.99" y2="357.40" stroke="#2a2a2a" stroke-width="0.65"/>
<line x1="257.01" y1="355.20" x2="257.01" y2="357.40" stroke="#2a2a2a" stroke-width="0.65"/>
<line x1="265.02" y1="355.20" x2="265.02" y2="357.40" stroke="#2a2a2a" stroke-width="0.65"/>
<line x1="273.03" y1="355.20" x2="273.03" y2="357.40" stroke="#2a2a2a" stroke-width="0.65"/>
<line x1="281.04" y1="355.20" x2="281.04" y2="357.40" stroke="#2a2a2a" stroke-width="0.65"/>
<line x1="289.05" y1="355.20" x2="289.05" y2="357.40" stroke="#2a2a2a" stroke-width="0.65"/>
<line x1="297.06" y1="355.20" x2="297.06" y2="357.40" stroke="#2a2a2a" stroke-width="0.65"/>
<line x1="305.07" y1="355.20" x2="305.07" y2="357.40" stroke="#2a2a2a" stroke-width="0.65"/>
<line x1="313.08" y1="355.20" x2="313.08" y2="357.40" stroke="#2a2a2a" stroke-width="0.65"/>
<line x1="321.09" y1="355.20" x2="321.09" y2="357.40" stroke="#2a2a2a" stroke-width="0.65"/>
<text x="229.70" y="309.10" font-size="8" text-anchor="start" fill="#1a1a1a" stroke="#1a1a1a" stroke-width="0.14">pre-mir-142</text>
<text x="0.00" y="0.00" font-size="6.7" text-anchor="end" fill="#222" transform="translate(186.81,360.10) rotate(-90)" stroke="#222" stroke-width="0.14">Adipose</text>
<text x="0.00" y="0.00" font-size="6.7" text-anchor="end" fill="#222" transform="translate(194.82,360.10) rotate(-90)" stroke="#222" stroke-width="0.14">Blood</text>
<text x="0.00" y="0.00" font-size="6.7" text-anchor="end" fill="#222" transform="translate(202.83,360.10) rotate(-90)" stroke="#222" stroke-width="0.14">Brain</text>
<text x="0.00" y="0.00" font-size="6.7" text-anchor="end" fill="#222" transform="translate(210.84,360.10) rotate(-90)" stroke="#222" stroke-width="0.14">Breast</text>
<text x="0.00" y="0.00" font-size="6.7" text-anchor="end" fill="#222" transform="translate(218.85,360.10) rotate(-90)" stroke="#222" stroke-width="0.14">Colon</text>
<text x="0.00" y="0.00" font-size="6.7" text-anchor="end" fill="#222" transform="translate(226.86,360.10) rotate(-90)" stroke="#222" stroke-width="0.14">Erythrocyte</text>
<text x="0.00" y="0.00" font-size="6.7" text-anchor="end" fill="#222" transform="translate(234.87,360.10) rotate(-90)" stroke="#222" stroke-width="0.14">Heart</text>
<text x="0.00" y="0.00" font-size="6.7" text-anchor="end" fill="#222" transform="translate(242.88,360.10) rotate(-90)" stroke="#222" stroke-width="0.14">Kidney</text>
<text x="0.00" y="0.00" font-size="6.7" text-anchor="end" fill="#222" transform="translate(250.89,360.10) rotate(-90)" stroke="#222" stroke-width="0.14">Leukocyte</text>
<text x="0.00" y="0.00" font-size="6.7" text-anchor="end" fill="#222" transform="translate(258.91,360.10) rotate(-90)" stroke="#222" stroke-width="0.14">Liver</text>
<text x="0.00" y="0.00" font-size="6.7" text-anchor="end" fill="#222" transform="translate(266.92,360.10) rotate(-90)" stroke="#222" stroke-width="0.14">Lung</text>
<text x="0.00" y="0.00" font-size="6.7" text-anchor="end" fill="#222" transform="translate(274.93,360.10) rotate(-90)" stroke="#222" stroke-width="0.14">Muscle</text>
<text x="0.00" y="0.00" font-size="6.7" text-anchor="end" fill="#222" transform="translate(282.94,360.10) rotate(-90)" stroke="#222" stroke-width="0.14">Pancreas</text>
<text x="0.00" y="0.00" font-size="6.7" text-anchor="end" fill="#222" transform="translate(290.95,360.10) rotate(-90)" stroke="#222" stroke-width="0.14">Rectum</text>
<text x="0.00" y="0.00" font-size="6.7" text-anchor="end" fill="#222" transform="translate(298.96,360.10) rotate(-90)" stroke="#222" stroke-width="0.14">Skin</text>
<text x="0.00" y="0.00" font-size="6.7" text-anchor="end" fill="#222" transform="translate(306.97,360.10) rotate(-90)" stroke="#222" stroke-width="0.14">Spleen</text>
<text x="0.00" y="0.00" font-size="6.7" text-anchor="end" fill="#222" transform="translate(314.98,360.10) rotate(-90)" stroke="#222" stroke-width="0.14">Stomach</text>
<text x="0.00" y="0.00" font-size="6.7" text-anchor="end" fill="#222" transform="translate(322.99,360.10) rotate(-90)" stroke="#222" stroke-width="0.14">Thymus</text>
<rect x="643.30" y="35.50" width="28.30" height="41.70" fill="#fff" stroke="none" stroke-width="0"/>
<rect x="644.40" y="37.70" width="8.73" height="0.75" fill="#DE5D4A" stroke="none" stroke-width="0"/>
<rect x="644.40" y="38.45" width="8.73" height="36.85" fill="#3A5E7F" stroke="none" stroke-width="0"/>
<rect x="653.13" y="37.70" width="8.73" height="0.38" fill="#DE5D4A" stroke="none" stroke-width="0"/>
<rect x="653.13" y="38.08" width="8.73" height="37.22" fill="#3A5E7F" stroke="none" stroke-width="0"/>
<rect x="661.87" y="37.70" width="8.73" height="0.56" fill="#DE5D4A" stroke="none" stroke-width="0"/>
<rect x="661.87" y="38.26" width="8.73" height="37.04" fill="#3A5E7F" stroke="none" stroke-width="0"/>
<line x1="653.13" y1="37.70" x2="653.13" y2="75.30" stroke="#ffffff" stroke-width="0.95"/>
<line x1="661.87" y1="37.70" x2="661.87" y2="75.30" stroke="#ffffff" stroke-width="0.95"/>
<line x1="644.40" y1="56.50" x2="670.60" y2="56.50" stroke="#c8c8c8" stroke-width="0.9" stroke-dasharray="2.2,2.2"/>
<rect x="643.30" y="35.50" width="28.30" height="41.70" fill="none" stroke="#3a3a3a" stroke-width="0.85"/>
<line x1="648.77" y1="77.20" x2="648.77" y2="79.40" stroke="#2a2a2a" stroke-width="0.65"/>
<line x1="657.50" y1="77.20" x2="657.50" y2="79.40" stroke="#2a2a2a" stroke-width="0.65"/>
<line x1="666.23" y1="77.20" x2="666.23" y2="79.40" stroke="#2a2a2a" stroke-width="0.65"/>
<text x="636.80" y="29.60" font-size="8" text-anchor="start" font-weight="bold" fill="#B8232F">pre-mir-223</text>
<text x="0.00" y="0.00" font-size="6.7" text-anchor="end" fill="#222" transform="translate(650.57,81.10) rotate(-90)" stroke="#222" stroke-width="0.14">HL60</text>
<text x="0.00" y="0.00" font-size="6.7" text-anchor="end" fill="#222" transform="translate(659.30,81.10) rotate(-90)" stroke="#222" stroke-width="0.14">Jurkat</text>
<text x="0.00" y="0.00" font-size="6.7" text-anchor="end" fill="#222" transform="translate(668.03,81.10) rotate(-90)" stroke="#222" stroke-width="0.14">K562</text>
<rect x="645.40" y="122.90" width="27.80" height="41.20" fill="#fff" stroke="none" stroke-width="0"/>
<rect x="646.40" y="124.90" width="8.63" height="2.64" fill="#DE5D4A" stroke="none" stroke-width="0"/>
<rect x="646.40" y="127.54" width="8.63" height="35.06" fill="#3A5E7F" stroke="none" stroke-width="0"/>
<rect x="655.03" y="124.90" width="8.63" height="0.75" fill="#DE5D4A" stroke="none" stroke-width="0"/>
<rect x="655.03" y="125.65" width="8.63" height="36.95" fill="#3A5E7F" stroke="none" stroke-width="0"/>
<rect x="663.67" y="124.90" width="8.63" height="2.64" fill="#DE5D4A" stroke="none" stroke-width="0"/>
<rect x="663.67" y="127.54" width="8.63" height="35.06" fill="#3A5E7F" stroke="none" stroke-width="0"/>
<line x1="655.03" y1="124.90" x2="655.03" y2="162.60" stroke="#ffffff" stroke-width="0.95"/>
<line x1="663.67" y1="124.90" x2="663.67" y2="162.60" stroke="#ffffff" stroke-width="0.95"/>
<line x1="646.40" y1="143.75" x2="672.30" y2="143.75" stroke="#c8c8c8" stroke-width="0.9" stroke-dasharray="2.2,2.2"/>
<rect x="645.40" y="122.90" width="27.80" height="41.20" fill="none" stroke="#3a3a3a" stroke-width="0.85"/>
<line x1="650.72" y1="164.10" x2="650.72" y2="166.30" stroke="#2a2a2a" stroke-width="0.65"/>
<line x1="659.35" y1="164.10" x2="659.35" y2="166.30" stroke="#2a2a2a" stroke-width="0.65"/>
<line x1="667.98" y1="164.10" x2="667.98" y2="166.30" stroke="#2a2a2a" stroke-width="0.65"/>
<text x="636.50" y="120.00" font-size="8" text-anchor="start" font-weight="bold" fill="#B8232F">pre-mir-133a</text>
<text x="0.00" y="0.00" font-size="6.7" text-anchor="end" fill="#222" transform="translate(652.52,170.70) rotate(-90)" stroke="#222" stroke-width="0.14">Caco-2</text>
<text x="0.00" y="0.00" font-size="6.7" text-anchor="end" fill="#222" transform="translate(661.15,170.70) rotate(-90)" stroke="#222" stroke-width="0.14">Jurkat</text>
<text x="0.00" y="0.00" font-size="6.7" text-anchor="end" fill="#222" transform="translate(669.78,170.70) rotate(-90)" stroke="#222" stroke-width="0.14">SY5Y</text>
<rect x="506.3" y="182.9" width="61.4" height="35.9" fill="none" stroke="#222" stroke-width="0.9" stroke-dasharray="1,1.1"/>
<rect x="513.80" y="187.30" width="10.50" height="9.90" fill="#DE5D4A" stroke="none" stroke-width="0"/>
<rect x="513.80" y="203.80" width="10.50" height="9.90" fill="#3A5E7F" stroke="none" stroke-width="0"/>
<text x="528.80" y="195.20" font-size="8" text-anchor="start" fill="#1a1a1a" stroke="#1a1a1a" stroke-width="0.14">5p arm</text>
<text x="528.80" y="211.70" font-size="8" text-anchor="start" fill="#1a1a1a" stroke="#1a1a1a" stroke-width="0.14">3p arm</text>
<text x="338.30" y="244.50" font-size="13" text-anchor="start" font-weight="bold" fill="#1c1010">D</text>
<line x1="398.40" y1="352.40" x2="401.30" y2="352.40" stroke="#333" stroke-width="0.7"/>
<text x="397.80" y="355.10" font-size="7.8" text-anchor="end" fill="#333" stroke="#333" stroke-width="0.14">0</text>
<line x1="398.40" y1="319.24" x2="401.30" y2="319.24" stroke="#333" stroke-width="0.7"/>
<text x="397.80" y="321.94" font-size="7.8" text-anchor="end" fill="#333" stroke="#333" stroke-width="0.14">20</text>
<line x1="398.40" y1="286.08" x2="401.30" y2="286.08" stroke="#333" stroke-width="0.7"/>
<text x="397.80" y="288.78" font-size="7.8" text-anchor="end" fill="#333" stroke="#333" stroke-width="0.14">40</text>
<line x1="398.40" y1="252.92" x2="401.30" y2="252.92" stroke="#333" stroke-width="0.7"/>
<text x="397.80" y="255.62" font-size="7.8" text-anchor="end" fill="#333" stroke="#333" stroke-width="0.14">60</text>
<rect x="411.40" y="265.69" width="18.35" height="86.71" fill="#EE7F6E" stroke="none" stroke-width="0"/>
<text x="420.57" y="263.39" font-size="6.7" text-anchor="middle" fill="#222" stroke="#222" stroke-width="0.14">52.3%</text>
<rect x="429.75" y="295.70" width="18.35" height="56.70" fill="#23486B" stroke="none" stroke-width="0"/>
<text x="438.93" y="293.40" font-size="6.7" text-anchor="middle" fill="#222" stroke="#222" stroke-width="0.14">34.2%</text>
<rect x="448.10" y="330.02" width="18.35" height="22.38" fill="#4CBFA9" stroke="none" stroke-width="0"/>
<text x="457.27" y="327.72" font-size="6.7" text-anchor="middle" fill="#222" stroke="#222" stroke-width="0.14">13.5%</text>
<line x1="438.92" y1="357.80" x2="438.92" y2="360.20" stroke="#333" stroke-width="0.7"/>
<text x="440.52" y="368.60" font-size="8.2" text-anchor="middle" fill="#222" stroke="#222" stroke-width="0.14">Human</text>
<rect x="472.30" y="266.85" width="18.35" height="85.55" fill="#EE7F6E" stroke="none" stroke-width="0"/>
<text x="481.47" y="264.55" font-size="6.7" text-anchor="middle" fill="#222" stroke="#222" stroke-width="0.14">51.6%</text>
<rect x="490.65" y="292.55" width="18.35" height="59.85" fill="#23486B" stroke="none" stroke-width="0"/>
<text x="499.82" y="290.25" font-size="6.7" text-anchor="middle" fill="#222" stroke="#222" stroke-width="0.14">36.1%</text>
<rect x="509.00" y="332.01" width="18.35" height="20.39" fill="#4CBFA9" stroke="none" stroke-width="0"/>
<text x="518.17" y="329.71" font-size="6.7" text-anchor="middle" fill="#222" stroke="#222" stroke-width="0.14">12.3%</text>
<line x1="499.82" y1="357.80" x2="499.82" y2="360.20" stroke="#333" stroke-width="0.7"/>
<text x="501.42" y="368.60" font-size="8.2" text-anchor="middle" fill="#222" stroke="#222" stroke-width="0.14">Monkey</text>
<rect x="533.20" y="268.51" width="18.35" height="83.89" fill="#EE7F6E" stroke="none" stroke-width="0"/>
<text x="542.37" y="266.21" font-size="6.7" text-anchor="middle" fill="#222" stroke="#222" stroke-width="0.14">50.6%</text>
<rect x="551.55" y="294.04" width="18.35" height="58.36" fill="#23486B" stroke="none" stroke-width="0"/>
<text x="560.72" y="291.74" font-size="6.7" text-anchor="middle" fill="#222" stroke="#222" stroke-width="0.14">35.2%</text>
<rect x="569.90" y="328.86" width="18.35" height="23.54" fill="#4CBFA9" stroke="none" stroke-width="0"/>
<text x="579.07" y="326.56" font-size="6.7" text-anchor="middle" fill="#222" stroke="#222" stroke-width="0.14">14.2%</text>
<line x1="560.72" y1="357.80" x2="560.72" y2="360.20" stroke="#333" stroke-width="0.7"/>
<text x="562.32" y="368.60" font-size="8.2" text-anchor="middle" fill="#222" stroke="#222" stroke-width="0.14">Mouse</text>
<rect x="401.30" y="247.40" width="196.50" height="110.40" fill="none" stroke="#333" stroke-width="1.0"/>
<text x="0.00" y="0.00" font-size="8.1" text-anchor="middle" fill="#222" transform="translate(378.40,304.40) rotate(-90)" stroke="#222" stroke-width="0.14">Strand preference of miRNAs</text>
<rect x="605.30" y="273.60" width="13.50" height="12.70" fill="#EE7F6E" stroke="none" stroke-width="0"/>
<text x="624.20" y="282.20" font-size="8" text-anchor="start" fill="#222" stroke="#222" stroke-width="0.14">5p arm</text>
<rect x="605.30" y="288.40" width="13.50" height="12.70" fill="#23486B" stroke="none" stroke-width="0"/>
<text x="624.20" y="297.00" font-size="8" text-anchor="start" fill="#222" stroke="#222" stroke-width="0.14">3p arm</text>
<rect x="605.30" y="303.20" width="13.50" height="12.70" fill="#4CBFA9" stroke="none" stroke-width="0"/>
<text x="624.20" y="311.80" font-size="8" text-anchor="start" fill="#222" stroke="#222" stroke-width="0.14">No preference</text>
<text x="0.10" y="408.70" font-size="13.2" text-anchor="start" font-weight="bold" fill="#1c1010">B</text>
<g fill="#3B76A0" fill-opacity="0.76">
<circle cx="78.3" cy="477.1" r="2.15"/>
<circle cx="95.0" cy="459.4" r="2.15"/>
<circle cx="67.8" cy="481.9" r="2.15"/>
<circle cx="122.1" cy="434.4" r="2.15"/>
<circle cx="83.5" cy="475.9" r="2.15"/>
<circle cx="99.6" cy="456.8" r="2.15"/>
<circle cx="113.8" cy="445.6" r="2.15"/>
<circle cx="76.2" cy="474.8" r="2.15"/>
<circle cx="79.1" cy="470.8" r="2.15"/>
<circle cx="92.3" cy="457.7" r="2.15"/>
<circle cx="98.5" cy="460.9" r="2.15"/>
<circle cx="111.4" cy="444.5" r="2.15"/>
<circle cx="130.8" cy="430.0" r="2.15"/>
<circle cx="114.9" cy="439.3" r="2.15"/>
<circle cx="91.3" cy="458.3" r="2.15"/>
<circle cx="94.4" cy="463.8" r="2.15"/>
<circle cx="117.1" cy="441.1" r="2.15"/>
<circle cx="86.6" cy="469.1" r="2.15"/>
<circle cx="114.8" cy="441.7" r="2.15"/>
<circle cx="118.0" cy="444.3" r="2.15"/>
<circle cx="68.8" cy="469.0" r="2.15"/>
<circle cx="121.0" cy="435.1" r="2.15"/>
<circle cx="92.3" cy="457.9" r="2.15"/>
<circle cx="70.9" cy="480.9" r="2.15"/>
<circle cx="78.5" cy="475.3" r="2.15"/>
<circle cx="122.6" cy="432.9" r="2.15"/>
<circle cx="76.4" cy="460.7" r="2.15"/>
<circle cx="112.0" cy="435.0" r="2.15"/>
<circle cx="66.6" cy="476.1" r="2.15"/>
<circle cx="134.5" cy="417.5" r="2.15"/>
<circle cx="78.3" cy="463.9" r="2.15"/>
<circle cx="90.3" cy="461.0" r="2.15"/>
<circle cx="73.8" cy="478.4" r="2.15"/>
<circle cx="98.4" cy="452.2" r="2.15"/>
<circle cx="107.6" cy="448.0" r="2.15"/>
<circle cx="118.7" cy="436.9" r="2.15"/>
<circle cx="119.3" cy="442.8" r="2.15"/>
<circle cx="77.7" cy="485.5" r="2.15"/>
<circle cx="94.7" cy="462.6" r="2.15"/>
<circle cx="100.5" cy="453.4" r="2.15"/>
<circle cx="84.7" cy="468.4" r="2.15"/>
<circle cx="116.4" cy="431.9" r="2.15"/>
<circle cx="102.0" cy="450.3" r="2.15"/>
<circle cx="121.7" cy="435.6" r="2.15"/>
<circle cx="108.0" cy="454.2" r="2.15"/>
<circle cx="83.7" cy="470.1" r="2.15"/>
<circle cx="78.0" cy="467.5" r="2.15"/>
<circle cx="82.4" cy="464.9" r="2.15"/>
<circle cx="106.9" cy="445.8" r="2.15"/>
<circle cx="127.5" cy="433.4" r="2.15"/>
<circle cx="113.6" cy="445.3" r="2.15"/>
<circle cx="96.5" cy="456.6" r="2.15"/>
<circle cx="118.5" cy="440.1" r="2.15"/>
<circle cx="105.4" cy="449.6" r="2.15"/>
<circle cx="93.4" cy="460.4" r="2.15"/>
<circle cx="101.9" cy="464.5" r="2.15"/>
<circle cx="113.3" cy="452.9" r="2.15"/>
<circle cx="110.5" cy="440.1" r="2.15"/>
<circle cx="122.2" cy="440.7" r="2.15"/>
<circle cx="123.1" cy="441.1" r="2.15"/>
<circle cx="110.0" cy="442.2" r="2.15"/>
<circle cx="110.5" cy="442.8" r="2.15"/>
<circle cx="125.5" cy="439.8" r="2.15"/>
<circle cx="90.3" cy="469.8" r="2.15"/>
<circle cx="92.3" cy="463.1" r="2.15"/>
<circle cx="126.6" cy="431.9" r="2.15"/>
<circle cx="104.2" cy="443.6" r="2.15"/>
<circle cx="92.8" cy="468.5" r="2.15"/>
<circle cx="85.8" cy="466.3" r="2.15"/>
<circle cx="118.3" cy="437.0" r="2.15"/>
<circle cx="112.8" cy="449.2" r="2.15"/>
<circle cx="112.0" cy="438.3" r="2.15"/>
<circle cx="65.9" cy="479.0" r="2.15"/>
<circle cx="122.2" cy="440.3" r="2.15"/>
<circle cx="101.7" cy="451.0" r="2.15"/>
<circle cx="109.1" cy="456.1" r="2.15"/>
<circle cx="122.5" cy="437.8" r="2.15"/>
<circle cx="72.9" cy="475.9" r="2.15"/>
<circle cx="69.4" cy="476.3" r="2.15"/>
<circle cx="98.4" cy="447.2" r="2.15"/>
<circle cx="114.3" cy="442.7" r="2.15"/>
<circle cx="80.6" cy="471.9" r="2.15"/>
<circle cx="111.4" cy="447.5" r="2.15"/>
<circle cx="120.9" cy="437.6" r="2.15"/>
<circle cx="102.2" cy="451.7" r="2.15"/>
<circle cx="80.6" cy="469.7" r="2.15"/>
<circle cx="107.4" cy="446.5" r="2.15"/>
<circle cx="123.4" cy="448.0" r="2.15"/>
<circle cx="119.6" cy="433.4" r="2.15"/>
<circle cx="88.0" cy="464.4" r="2.15"/>
<circle cx="119.5" cy="435.3" r="2.15"/>
<circle cx="88.6" cy="470.2" r="2.15"/>
<circle cx="103.2" cy="457.5" r="2.15"/>
<circle cx="119.6" cy="440.2" r="2.15"/>
<circle cx="116.3" cy="444.3" r="2.15"/>
<circle cx="81.7" cy="478.0" r="2.15"/>
<circle cx="79.8" cy="476.0" r="2.15"/>
<circle cx="124.5" cy="436.8" r="2.15"/>
<circle cx="120.2" cy="430.5" r="2.15"/>
<circle cx="109.8" cy="453.4" r="2.15"/>
<circle cx="97.2" cy="465.8" r="2.15"/>
<circle cx="104.6" cy="453.3" r="2.15"/>
<circle cx="101.0" cy="459.6" r="2.15"/>
<circle cx="96.6" cy="455.0" r="2.15"/>
<circle cx="103.8" cy="457.8" r="2.15"/>
<circle cx="80.1" cy="473.1" r="2.15"/>
<circle cx="120.0" cy="434.4" r="2.15"/>
<circle cx="119.6" cy="436.7" r="2.15"/>
<circle cx="101.1" cy="463.8" r="2.15"/>
<circle cx="124.9" cy="436.6" r="2.15"/>
<circle cx="121.4" cy="435.6" r="2.15"/>
<circle cx="100.6" cy="446.4" r="2.15"/>
<circle cx="103.3" cy="453.7" r="2.15"/>
<circle cx="100.8" cy="449.6" r="2.15"/>
<circle cx="121.0" cy="439.9" r="2.15"/>
<circle cx="125.6" cy="435.2" r="2.15"/>
<circle cx="105.3" cy="444.6" r="2.15"/>
<circle cx="101.9" cy="454.2" r="2.15"/>
<circle cx="109.8" cy="447.5" r="2.15"/>
<circle cx="109.3" cy="449.7" r="2.15"/>
<circle cx="125.2" cy="431.7" r="2.15"/>
<circle cx="104.1" cy="454.8" r="2.15"/>
<circle cx="74.9" cy="475.1" r="2.15"/>
<circle cx="96.2" cy="468.3" r="2.15"/>
<circle cx="101.4" cy="450.8" r="2.15"/>
<circle cx="120.4" cy="439.5" r="2.15"/>
<circle cx="121.7" cy="436.7" r="2.15"/>
<circle cx="76.3" cy="478.6" r="2.15"/>
<circle cx="88.9" cy="465.7" r="2.15"/>
<circle cx="123.2" cy="431.7" r="2.15"/>
<circle cx="82.2" cy="463.6" r="2.15"/>
<circle cx="86.6" cy="462.2" r="2.15"/>
<circle cx="105.2" cy="447.8" r="2.15"/>
<circle cx="111.3" cy="450.6" r="2.15"/>
<circle cx="106.2" cy="456.5" r="2.15"/>
<circle cx="78.2" cy="482.3" r="2.15"/>
<circle cx="114.5" cy="439.0" r="2.15"/>
<circle cx="122.1" cy="418.7" r="2.15"/>
<circle cx="120.5" cy="435.3" r="2.15"/>
<circle cx="116.8" cy="438.9" r="2.15"/>
<circle cx="105.8" cy="445.9" r="2.15"/>
<circle cx="69.0" cy="475.8" r="2.15"/>
<circle cx="82.7" cy="461.7" r="2.15"/>
<circle cx="120.5" cy="438.7" r="2.15"/>
<circle cx="103.4" cy="458.3" r="2.15"/>
<circle cx="118.0" cy="438.4" r="2.15"/>
<circle cx="88.9" cy="462.6" r="2.15"/>
<circle cx="99.9" cy="456.3" r="2.15"/>
<circle cx="83.4" cy="459.1" r="2.15"/>
<circle cx="119.9" cy="439.7" r="2.15"/>
<circle cx="53.8" cy="494.4" r="2.15"/>
<circle cx="85.0" cy="447.2" r="2.15"/>
<circle cx="105.8" cy="428.9" r="2.15"/>
<circle cx="91.0" cy="485.1" r="2.15"/>
<circle cx="79.0" cy="499.6" r="2.15"/>
<circle cx="125.0" cy="422.7" r="2.15"/>
<circle cx="137.4" cy="433.4" r="2.15"/>
</g>
<rect x="46.60" y="410.20" width="105.30" height="90.80" fill="none" stroke="#333" stroke-width="0.9"/>
<line x1="59.00" y1="501.00" x2="59.00" y2="503.00" stroke="#333" stroke-width="0.7"/>
<text x="58.20" y="511.60" font-size="7.3" text-anchor="middle" fill="#333" stroke="#333" stroke-width="0.14">-10</text>
<line x1="44.60" y1="490.30" x2="46.60" y2="490.30" stroke="#333" stroke-width="0.7"/>
<text x="43.00" y="492.90" font-size="7.2" text-anchor="end" fill="#333" stroke="#333" stroke-width="0.14">-10</text>
<line x1="79.00" y1="501.00" x2="79.00" y2="503.00" stroke="#333" stroke-width="0.7"/>
<text x="78.20" y="511.60" font-size="7.3" text-anchor="middle" fill="#333" stroke="#333" stroke-width="0.14">-5</text>
<line x1="44.60" y1="473.05" x2="46.60" y2="473.05" stroke="#333" stroke-width="0.7"/>
<text x="43.00" y="475.65" font-size="7.2" text-anchor="end" fill="#333" stroke="#333" stroke-width="0.14">-5</text>
<line x1="99.00" y1="501.00" x2="99.00" y2="503.00" stroke="#333" stroke-width="0.7"/>
<text x="99.90" y="511.60" font-size="7.3" text-anchor="middle" fill="#333" stroke="#333" stroke-width="0.14">0</text>
<line x1="44.60" y1="455.80" x2="46.60" y2="455.80" stroke="#333" stroke-width="0.7"/>
<text x="43.00" y="458.40" font-size="7.2" text-anchor="end" fill="#333" stroke="#333" stroke-width="0.14">0</text>
<line x1="119.00" y1="501.00" x2="119.00" y2="503.00" stroke="#333" stroke-width="0.7"/>
<text x="119.80" y="511.60" font-size="7.3" text-anchor="middle" fill="#333" stroke="#333" stroke-width="0.14">5</text>
<line x1="44.60" y1="438.55" x2="46.60" y2="438.55" stroke="#333" stroke-width="0.7"/>
<text x="43.00" y="441.15" font-size="7.2" text-anchor="end" fill="#333" stroke="#333" stroke-width="0.14">5</text>
<line x1="139.00" y1="501.00" x2="139.00" y2="503.00" stroke="#333" stroke-width="0.7"/>
<text x="139.80" y="511.60" font-size="7.3" text-anchor="middle" fill="#333" stroke="#333" stroke-width="0.14">10</text>
<line x1="44.60" y1="421.30" x2="46.60" y2="421.30" stroke="#333" stroke-width="0.7"/>
<text x="43.00" y="423.90" font-size="7.2" text-anchor="end" fill="#333" stroke="#333" stroke-width="0.14">10</text>
<text x="50.90" y="420.50" font-size="8" text-anchor="start" fill="#222" stroke="#222" stroke-width="0.14">HCT116</text>
<text x="105.10" y="486.20" font-size="8" text-anchor="start" fill="#222" stroke="#222" stroke-width="0.14">R = 0.94</text>
<text x="105.1" y="496.2" font-size="8" fill="#222" stroke="#222" stroke-width="0.14"><tspan font-style="italic">p</tspan> = 5.5x10<tspan font-size="5" dy="-3">-60</tspan></text>
<text x="99.2" y="523.4" font-size="8" text-anchor="middle" fill="#222" stroke="#222" stroke-width="0.14">Log<tspan font-size="5.3" dy="1.8">2</tspan><tspan dy="-1.8"> (5p/3p) in our dataset</tspan></text>
<text transform="translate(21.7,456.2) rotate(-90)" font-size="8" text-anchor="middle" fill="#222" stroke="#222" stroke-width="0.14">Log<tspan font-size="5.3" dy="1.8">2</tspan><tspan dy="-1.8"> (5p/3p) in AQ-seq</tspan></text>
<g fill="#3B76A0" fill-opacity="0.76">
<circle cx="242.5" cy="475.0" r="2.15"/>
<circle cx="240.4" cy="464.7" r="2.15"/>
<circle cx="237.6" cy="481.1" r="2.15"/>
<circle cx="251.1" cy="460.9" r="2.15"/>
<circle cx="229.6" cy="472.7" r="2.15"/>
<circle cx="280.0" cy="424.5" r="2.15"/>
<circle cx="231.0" cy="481.3" r="2.15"/>
<circle cx="248.0" cy="460.2" r="2.15"/>
<circle cx="240.8" cy="470.6" r="2.15"/>
<circle cx="250.7" cy="458.2" r="2.15"/>
<circle cx="230.1" cy="472.0" r="2.15"/>
<circle cx="230.5" cy="477.9" r="2.15"/>
<circle cx="272.7" cy="435.3" r="2.15"/>
<circle cx="263.7" cy="439.3" r="2.15"/>
<circle cx="253.4" cy="452.6" r="2.15"/>
<circle cx="230.8" cy="497.8" r="2.15"/>
<circle cx="266.0" cy="450.4" r="2.15"/>
<circle cx="244.1" cy="475.1" r="2.15"/>
<circle cx="234.2" cy="462.0" r="2.15"/>
<circle cx="261.8" cy="456.8" r="2.15"/>
<circle cx="236.8" cy="477.3" r="2.15"/>
<circle cx="260.3" cy="438.3" r="2.15"/>
<circle cx="247.7" cy="463.2" r="2.15"/>
<circle cx="263.2" cy="432.5" r="2.15"/>
<circle cx="232.4" cy="463.8" r="2.15"/>
<circle cx="265.4" cy="440.1" r="2.15"/>
<circle cx="231.9" cy="462.3" r="2.15"/>
<circle cx="253.4" cy="451.2" r="2.15"/>
<circle cx="239.5" cy="470.1" r="2.15"/>
<circle cx="233.4" cy="492.0" r="2.15"/>
<circle cx="232.1" cy="456.7" r="2.15"/>
<circle cx="247.4" cy="458.0" r="2.15"/>
<circle cx="267.7" cy="441.5" r="2.15"/>
<circle cx="236.7" cy="485.7" r="2.15"/>
<circle cx="260.1" cy="436.8" r="2.15"/>
<circle cx="244.1" cy="467.3" r="2.15"/>
<circle cx="272.0" cy="441.1" r="2.15"/>
<circle cx="237.5" cy="473.2" r="2.15"/>
<circle cx="259.4" cy="450.1" r="2.15"/>
<circle cx="270.2" cy="431.8" r="2.15"/>
<circle cx="229.1" cy="488.3" r="2.15"/>
<circle cx="239.1" cy="472.8" r="2.15"/>
<circle cx="215.3" cy="477.0" r="2.15"/>
<circle cx="249.8" cy="471.9" r="2.15"/>
<circle cx="269.5" cy="449.6" r="2.15"/>
<circle cx="267.7" cy="451.1" r="2.15"/>
<circle cx="255.9" cy="444.4" r="2.15"/>
<circle cx="268.0" cy="441.9" r="2.15"/>
<circle cx="278.4" cy="441.6" r="2.15"/>
<circle cx="275.7" cy="440.6" r="2.15"/>
<circle cx="267.0" cy="439.2" r="2.15"/>
<circle cx="242.1" cy="443.8" r="2.15"/>
<circle cx="260.6" cy="451.1" r="2.15"/>
<circle cx="222.7" cy="483.8" r="2.15"/>
<circle cx="247.5" cy="449.6" r="2.15"/>
<circle cx="232.0" cy="477.4" r="2.15"/>
<circle cx="229.3" cy="461.7" r="2.15"/>
<circle cx="261.1" cy="465.6" r="2.15"/>
<circle cx="254.1" cy="451.4" r="2.15"/>
<circle cx="251.1" cy="443.5" r="2.15"/>
<circle cx="247.7" cy="450.6" r="2.15"/>
<circle cx="275.0" cy="434.6" r="2.15"/>
<circle cx="235.8" cy="459.9" r="2.15"/>
<circle cx="240.8" cy="470.3" r="2.15"/>
<circle cx="272.8" cy="428.2" r="2.15"/>
<circle cx="261.7" cy="452.6" r="2.15"/>
<circle cx="254.2" cy="467.2" r="2.15"/>
<circle cx="221.8" cy="485.3" r="2.15"/>
<circle cx="243.3" cy="475.0" r="2.15"/>
<circle cx="260.1" cy="452.8" r="2.15"/>
<circle cx="246.8" cy="467.9" r="2.15"/>
<circle cx="244.1" cy="456.0" r="2.15"/>
<circle cx="234.9" cy="458.6" r="2.15"/>
<circle cx="245.8" cy="455.8" r="2.15"/>
<circle cx="242.4" cy="468.5" r="2.15"/>
<circle cx="256.2" cy="465.8" r="2.15"/>
<circle cx="240.7" cy="455.6" r="2.15"/>
<circle cx="260.5" cy="458.1" r="2.15"/>
<circle cx="243.9" cy="467.1" r="2.15"/>
<circle cx="243.1" cy="456.7" r="2.15"/>
<circle cx="248.6" cy="463.5" r="2.15"/>
<circle cx="233.0" cy="447.0" r="2.15"/>
<circle cx="269.8" cy="433.8" r="2.15"/>
<circle cx="271.7" cy="445.9" r="2.15"/>
<circle cx="267.9" cy="436.5" r="2.15"/>
<circle cx="271.2" cy="443.9" r="2.15"/>
<circle cx="274.4" cy="434.4" r="2.15"/>
<circle cx="235.5" cy="464.7" r="2.15"/>
<circle cx="267.9" cy="435.5" r="2.15"/>
<circle cx="228.2" cy="458.9" r="2.15"/>
<circle cx="266.4" cy="434.1" r="2.15"/>
<circle cx="252.3" cy="451.3" r="2.15"/>
<circle cx="261.4" cy="457.5" r="2.15"/>
<circle cx="251.0" cy="453.4" r="2.15"/>
<circle cx="241.2" cy="458.9" r="2.15"/>
<circle cx="266.5" cy="421.7" r="2.15"/>
<circle cx="252.9" cy="465.6" r="2.15"/>
<circle cx="266.3" cy="451.6" r="2.15"/>
<circle cx="239.6" cy="475.8" r="2.15"/>
<circle cx="270.6" cy="436.5" r="2.15"/>
<circle cx="235.6" cy="467.9" r="2.15"/>
<circle cx="233.5" cy="466.8" r="2.15"/>
<circle cx="256.8" cy="467.1" r="2.15"/>
<circle cx="268.8" cy="463.3" r="2.15"/>
<circle cx="235.8" cy="448.3" r="2.15"/>
<circle cx="250.0" cy="441.8" r="2.15"/>
<circle cx="242.4" cy="465.8" r="2.15"/>
<circle cx="241.8" cy="457.5" r="2.15"/>
<circle cx="279.8" cy="432.2" r="2.15"/>
<circle cx="265.6" cy="437.3" r="2.15"/>
<circle cx="261.5" cy="455.1" r="2.15"/>
<circle cx="234.6" cy="459.8" r="2.15"/>
<circle cx="274.0" cy="449.9" r="2.15"/>
<circle cx="238.7" cy="454.3" r="2.15"/>
<circle cx="264.9" cy="443.3" r="2.15"/>
<circle cx="253.7" cy="455.7" r="2.15"/>
<circle cx="226.2" cy="469.3" r="2.15"/>
<circle cx="216.6" cy="492.0" r="2.15"/>
<circle cx="269.0" cy="430.7" r="2.15"/>
<circle cx="232.7" cy="485.2" r="2.15"/>
<circle cx="224.4" cy="483.0" r="2.15"/>
<circle cx="255.5" cy="446.6" r="2.15"/>
<circle cx="252.7" cy="454.7" r="2.15"/>
<circle cx="255.7" cy="450.6" r="2.15"/>
<circle cx="248.8" cy="450.1" r="2.15"/>
<circle cx="239.1" cy="448.6" r="2.15"/>
<circle cx="228.4" cy="464.0" r="2.15"/>
<circle cx="238.8" cy="468.0" r="2.15"/>
<circle cx="232.0" cy="476.5" r="2.15"/>
<circle cx="241.4" cy="490.6" r="2.15"/>
<circle cx="272.3" cy="428.7" r="2.15"/>
<circle cx="236.3" cy="474.6" r="2.15"/>
<circle cx="227.0" cy="487.2" r="2.15"/>
<circle cx="244.4" cy="458.7" r="2.15"/>
<circle cx="206.7" cy="467.9" r="2.15"/>
<circle cx="217.7" cy="493.1" r="2.15"/>
<circle cx="219.7" cy="498.9" r="2.15"/>
<circle cx="247.4" cy="497.2" r="2.15"/>
<circle cx="280.1" cy="415.1" r="2.15"/>
<circle cx="289.6" cy="415.1" r="2.15"/>
</g>
<rect x="199.20" y="409.90" width="105.50" height="91.00" fill="none" stroke="#333" stroke-width="0.9"/>
<line x1="211.80" y1="500.90" x2="211.80" y2="502.90" stroke="#333" stroke-width="0.7"/>
<text x="211.00" y="511.50" font-size="7.3" text-anchor="middle" fill="#333" stroke="#333" stroke-width="0.14">-10</text>
<line x1="197.20" y1="490.30" x2="199.20" y2="490.30" stroke="#333" stroke-width="0.7"/>
<text x="195.60" y="492.90" font-size="7.2" text-anchor="end" fill="#333" stroke="#333" stroke-width="0.14">-10</text>
<line x1="231.55" y1="500.90" x2="231.55" y2="502.90" stroke="#333" stroke-width="0.7"/>
<text x="230.75" y="511.50" font-size="7.3" text-anchor="middle" fill="#333" stroke="#333" stroke-width="0.14">-5</text>
<line x1="197.20" y1="473.05" x2="199.20" y2="473.05" stroke="#333" stroke-width="0.7"/>
<text x="195.60" y="475.65" font-size="7.2" text-anchor="end" fill="#333" stroke="#333" stroke-width="0.14">-5</text>
<line x1="251.30" y1="500.90" x2="251.30" y2="502.90" stroke="#333" stroke-width="0.7"/>
<text x="252.20" y="511.50" font-size="7.3" text-anchor="middle" fill="#333" stroke="#333" stroke-width="0.14">0</text>
<line x1="197.20" y1="455.80" x2="199.20" y2="455.80" stroke="#333" stroke-width="0.7"/>
<text x="195.60" y="458.40" font-size="7.2" text-anchor="end" fill="#333" stroke="#333" stroke-width="0.14">0</text>
<line x1="271.05" y1="500.90" x2="271.05" y2="502.90" stroke="#333" stroke-width="0.7"/>
<text x="271.85" y="511.50" font-size="7.3" text-anchor="middle" fill="#333" stroke="#333" stroke-width="0.14">5</text>
<line x1="197.20" y1="438.55" x2="199.20" y2="438.55" stroke="#333" stroke-width="0.7"/>
<text x="195.60" y="441.15" font-size="7.2" text-anchor="end" fill="#333" stroke="#333" stroke-width="0.14">5</text>
<line x1="290.80" y1="500.90" x2="290.80" y2="502.90" stroke="#333" stroke-width="0.7"/>
<text x="291.60" y="511.50" font-size="7.3" text-anchor="middle" fill="#333" stroke="#333" stroke-width="0.14">10</text>
<line x1="197.20" y1="421.30" x2="199.20" y2="421.30" stroke="#333" stroke-width="0.7"/>
<text x="195.60" y="423.90" font-size="7.2" text-anchor="end" fill="#333" stroke="#333" stroke-width="0.14">10</text>
<text x="203.50" y="420.20" font-size="8" text-anchor="start" fill="#222" stroke="#222" stroke-width="0.14">HCT116</text>
<text x="257.70" y="486.10" font-size="8" text-anchor="start" fill="#222" stroke="#222" stroke-width="0.14">R = 0.79</text>
<text x="257.7" y="496.1" font-size="8" fill="#222" stroke="#222" stroke-width="0.14"><tspan font-style="italic">p</tspan> = 9.0x10<tspan font-size="5" dy="-3">-33</tspan></text>
<text x="251.9" y="523.3" font-size="8" text-anchor="middle" fill="#222" stroke="#222" stroke-width="0.14">Log<tspan font-size="5.3" dy="1.8">2</tspan><tspan dy="-1.8"> (5p/3p) in our dataset</tspan></text>
<text transform="translate(177.2,452.0) rotate(-90)" font-size="8" text-anchor="middle" fill="#222" stroke="#222" stroke-width="0.14">Log<tspan font-size="5.3" dy="1.8">2</tspan><tspan dy="-1.8"> (5p/3p) in TruSeq</tspan></text>
<g fill="#26A088" fill-opacity="0.76">
<circle cx="76.2" cy="605.2" r="2.15"/>
<circle cx="119.0" cy="562.0" r="2.15"/>
<circle cx="83.0" cy="585.4" r="2.15"/>
<circle cx="75.6" cy="599.7" r="2.15"/>
<circle cx="67.1" cy="601.7" r="2.15"/>
<circle cx="109.8" cy="572.1" r="2.15"/>
<circle cx="91.1" cy="593.3" r="2.15"/>
<circle cx="122.5" cy="569.6" r="2.15"/>
<circle cx="118.5" cy="569.2" r="2.15"/>
<circle cx="105.0" cy="575.5" r="2.15"/>
<circle cx="99.8" cy="578.2" r="2.15"/>
<circle cx="93.8" cy="582.6" r="2.15"/>
<circle cx="123.3" cy="575.4" r="2.15"/>
<circle cx="105.7" cy="578.3" r="2.15"/>
<circle cx="77.2" cy="602.4" r="2.15"/>
<circle cx="83.9" cy="586.9" r="2.15"/>
<circle cx="70.4" cy="601.3" r="2.15"/>
<circle cx="99.7" cy="576.1" r="2.15"/>
<circle cx="81.5" cy="591.2" r="2.15"/>
<circle cx="102.8" cy="574.7" r="2.15"/>
<circle cx="108.2" cy="568.8" r="2.15"/>
<circle cx="120.8" cy="563.1" r="2.15"/>
<circle cx="122.4" cy="568.5" r="2.15"/>
<circle cx="67.2" cy="600.4" r="2.15"/>
<circle cx="118.6" cy="568.7" r="2.15"/>
<circle cx="108.9" cy="567.7" r="2.15"/>
<circle cx="91.7" cy="587.6" r="2.15"/>
<circle cx="119.4" cy="558.5" r="2.15"/>
<circle cx="100.2" cy="582.3" r="2.15"/>
<circle cx="113.7" cy="566.0" r="2.15"/>
<circle cx="79.4" cy="598.2" r="2.15"/>
<circle cx="91.4" cy="583.8" r="2.15"/>
<circle cx="103.4" cy="577.8" r="2.15"/>
<circle cx="93.5" cy="583.3" r="2.15"/>
<circle cx="85.1" cy="591.6" r="2.15"/>
<circle cx="79.7" cy="589.3" r="2.15"/>
<circle cx="73.5" cy="599.7" r="2.15"/>
<circle cx="123.5" cy="561.6" r="2.15"/>
<circle cx="112.1" cy="571.7" r="2.15"/>
<circle cx="102.6" cy="581.6" r="2.15"/>
<circle cx="63.4" cy="608.5" r="2.15"/>
<circle cx="116.4" cy="559.9" r="2.15"/>
<circle cx="116.5" cy="560.8" r="2.15"/>
<circle cx="95.2" cy="579.8" r="2.15"/>
<circle cx="79.7" cy="594.7" r="2.15"/>
<circle cx="103.6" cy="573.0" r="2.15"/>
<circle cx="115.3" cy="567.9" r="2.15"/>
<circle cx="70.9" cy="601.9" r="2.15"/>
<circle cx="93.4" cy="580.1" r="2.15"/>
<circle cx="83.6" cy="594.6" r="2.15"/>
<circle cx="118.2" cy="561.9" r="2.15"/>
<circle cx="98.1" cy="581.0" r="2.15"/>
<circle cx="83.5" cy="589.3" r="2.15"/>
<circle cx="125.6" cy="558.6" r="2.15"/>
<circle cx="83.3" cy="597.0" r="2.15"/>
<circle cx="113.4" cy="570.3" r="2.15"/>
<circle cx="81.2" cy="584.9" r="2.15"/>
<circle cx="73.4" cy="600.1" r="2.15"/>
<circle cx="96.3" cy="586.0" r="2.15"/>
<circle cx="108.6" cy="583.2" r="2.15"/>
<circle cx="110.7" cy="574.2" r="2.15"/>
<circle cx="96.7" cy="589.0" r="2.15"/>
<circle cx="119.9" cy="562.8" r="2.15"/>
<circle cx="107.8" cy="579.5" r="2.15"/>
<circle cx="87.5" cy="590.7" r="2.15"/>
<circle cx="82.9" cy="592.9" r="2.15"/>
<circle cx="125.9" cy="555.1" r="2.15"/>
<circle cx="130.1" cy="556.7" r="2.15"/>
<circle cx="86.8" cy="596.6" r="2.15"/>
<circle cx="113.9" cy="561.3" r="2.15"/>
<circle cx="71.4" cy="587.2" r="2.15"/>
<circle cx="103.8" cy="568.6" r="2.15"/>
<circle cx="96.5" cy="582.7" r="2.15"/>
<circle cx="71.7" cy="592.1" r="2.15"/>
<circle cx="90.2" cy="595.3" r="2.15"/>
<circle cx="105.2" cy="576.4" r="2.15"/>
<circle cx="104.5" cy="571.2" r="2.15"/>
<circle cx="112.4" cy="571.1" r="2.15"/>
<circle cx="91.1" cy="586.4" r="2.15"/>
<circle cx="115.9" cy="565.8" r="2.15"/>
<circle cx="89.5" cy="584.3" r="2.15"/>
<circle cx="88.0" cy="593.0" r="2.15"/>
<circle cx="107.1" cy="577.4" r="2.15"/>
<circle cx="112.5" cy="574.4" r="2.15"/>
<circle cx="131.2" cy="554.5" r="2.15"/>
<circle cx="83.5" cy="595.2" r="2.15"/>
<circle cx="62.8" cy="609.0" r="2.15"/>
<circle cx="70.1" cy="602.7" r="2.15"/>
<circle cx="79.9" cy="595.7" r="2.15"/>
<circle cx="95.3" cy="588.0" r="2.15"/>
<circle cx="92.8" cy="583.3" r="2.15"/>
<circle cx="103.5" cy="581.4" r="2.15"/>
<circle cx="96.9" cy="588.2" r="2.15"/>
<circle cx="122.3" cy="569.1" r="2.15"/>
<circle cx="112.2" cy="576.1" r="2.15"/>
<circle cx="89.6" cy="582.3" r="2.15"/>
<circle cx="113.1" cy="567.5" r="2.15"/>
<circle cx="94.7" cy="584.8" r="2.15"/>
<circle cx="107.3" cy="568.3" r="2.15"/>
<circle cx="99.4" cy="582.7" r="2.15"/>
<circle cx="100.3" cy="575.7" r="2.15"/>
<circle cx="88.8" cy="598.1" r="2.15"/>
<circle cx="114.9" cy="567.0" r="2.15"/>
<circle cx="95.6" cy="578.9" r="2.15"/>
<circle cx="124.8" cy="561.2" r="2.15"/>
<circle cx="85.8" cy="594.2" r="2.15"/>
<circle cx="82.0" cy="591.4" r="2.15"/>
<circle cx="90.1" cy="575.6" r="2.15"/>
<circle cx="87.1" cy="591.7" r="2.15"/>
<circle cx="84.4" cy="592.5" r="2.15"/>
<circle cx="83.1" cy="591.9" r="2.15"/>
<circle cx="95.8" cy="580.5" r="2.15"/>
<circle cx="80.2" cy="596.9" r="2.15"/>
<circle cx="65.8" cy="610.6" r="2.15"/>
<circle cx="114.1" cy="576.3" r="2.15"/>
<circle cx="119.5" cy="567.1" r="2.15"/>
<circle cx="74.0" cy="604.2" r="2.15"/>
<circle cx="105.7" cy="578.5" r="2.15"/>
<circle cx="110.3" cy="569.8" r="2.15"/>
<circle cx="78.9" cy="590.2" r="2.15"/>
<circle cx="109.1" cy="575.2" r="2.15"/>
<circle cx="125.6" cy="556.2" r="2.15"/>
<circle cx="94.0" cy="594.5" r="2.15"/>
<circle cx="83.0" cy="596.4" r="2.15"/>
<circle cx="87.9" cy="586.3" r="2.15"/>
<circle cx="78.0" cy="603.1" r="2.15"/>
<circle cx="93.9" cy="588.2" r="2.15"/>
<circle cx="94.7" cy="583.9" r="2.15"/>
<circle cx="119.8" cy="563.5" r="2.15"/>
<circle cx="120.3" cy="569.1" r="2.15"/>
<circle cx="95.2" cy="583.6" r="2.15"/>
<circle cx="105.1" cy="573.3" r="2.15"/>
<circle cx="123.8" cy="561.0" r="2.15"/>
<circle cx="116.9" cy="569.2" r="2.15"/>
<circle cx="107.6" cy="576.7" r="2.15"/>
<circle cx="119.9" cy="570.8" r="2.15"/>
<circle cx="107.9" cy="573.6" r="2.15"/>
<circle cx="111.9" cy="574.0" r="2.15"/>
<circle cx="82.8" cy="597.6" r="2.15"/>
<circle cx="93.2" cy="579.3" r="2.15"/>
<circle cx="99.1" cy="586.4" r="2.15"/>
<circle cx="106.3" cy="580.2" r="2.15"/>
<circle cx="105.0" cy="583.9" r="2.15"/>
<circle cx="124.1" cy="565.2" r="2.15"/>
<circle cx="106.7" cy="571.5" r="2.15"/>
<circle cx="82.1" cy="593.8" r="2.15"/>
<circle cx="73.3" cy="594.3" r="2.15"/>
<circle cx="97.1" cy="584.6" r="2.15"/>
<circle cx="108.5" cy="570.8" r="2.15"/>
<circle cx="69.2" cy="599.0" r="2.15"/>
<circle cx="110.1" cy="574.2" r="2.15"/>
<circle cx="78.3" cy="601.9" r="2.15"/>
<circle cx="111.4" cy="574.3" r="2.15"/>
<circle cx="129.3" cy="548.3" r="2.15"/>
<circle cx="91.4" cy="587.9" r="2.15"/>
<circle cx="101.6" cy="581.0" r="2.15"/>
<circle cx="115.0" cy="565.2" r="2.15"/>
<circle cx="117.2" cy="564.3" r="2.15"/>
<circle cx="106.1" cy="579.1" r="2.15"/>
<circle cx="116.0" cy="565.6" r="2.15"/>
<circle cx="57.8" cy="604.9" r="2.15"/>
<circle cx="67.0" cy="612.9" r="2.15"/>
<circle cx="93.8" cy="607.7" r="2.15"/>
<circle cx="85.0" cy="579.1" r="2.15"/>
<circle cx="134.2" cy="563.5" r="2.15"/>
<circle cx="103.0" cy="593.6" r="2.15"/>
</g>
<rect x="46.60" y="535.40" width="105.30" height="90.80" fill="none" stroke="#333" stroke-width="0.9"/>
<line x1="59.00" y1="626.20" x2="59.00" y2="628.20" stroke="#333" stroke-width="0.7"/>
<text x="58.20" y="636.80" font-size="7.3" text-anchor="middle" fill="#333" stroke="#333" stroke-width="0.14">-10</text>
<line x1="44.60" y1="615.30" x2="46.60" y2="615.30" stroke="#333" stroke-width="0.7"/>
<text x="43.00" y="617.90" font-size="7.2" text-anchor="end" fill="#333" stroke="#333" stroke-width="0.14">-10</text>
<line x1="79.00" y1="626.20" x2="79.00" y2="628.20" stroke="#333" stroke-width="0.7"/>
<text x="78.20" y="636.80" font-size="7.3" text-anchor="middle" fill="#333" stroke="#333" stroke-width="0.14">-5</text>
<line x1="44.60" y1="598.05" x2="46.60" y2="598.05" stroke="#333" stroke-width="0.7"/>
<text x="43.00" y="600.65" font-size="7.2" text-anchor="end" fill="#333" stroke="#333" stroke-width="0.14">-5</text>
<line x1="99.00" y1="626.20" x2="99.00" y2="628.20" stroke="#333" stroke-width="0.7"/>
<text x="99.90" y="636.80" font-size="7.3" text-anchor="middle" fill="#333" stroke="#333" stroke-width="0.14">0</text>
<line x1="44.60" y1="580.80" x2="46.60" y2="580.80" stroke="#333" stroke-width="0.7"/>
<text x="43.00" y="583.40" font-size="7.2" text-anchor="end" fill="#333" stroke="#333" stroke-width="0.14">0</text>
<line x1="119.00" y1="626.20" x2="119.00" y2="628.20" stroke="#333" stroke-width="0.7"/>
<text x="119.80" y="636.80" font-size="7.3" text-anchor="middle" fill="#333" stroke="#333" stroke-width="0.14">5</text>
<line x1="44.60" y1="563.55" x2="46.60" y2="563.55" stroke="#333" stroke-width="0.7"/>
<text x="43.00" y="566.15" font-size="7.2" text-anchor="end" fill="#333" stroke="#333" stroke-width="0.14">5</text>
<line x1="139.00" y1="626.20" x2="139.00" y2="628.20" stroke="#333" stroke-width="0.7"/>
<text x="139.80" y="636.80" font-size="7.3" text-anchor="middle" fill="#333" stroke="#333" stroke-width="0.14">10</text>
<line x1="44.60" y1="546.30" x2="46.60" y2="546.30" stroke="#333" stroke-width="0.7"/>
<text x="43.00" y="548.90" font-size="7.2" text-anchor="end" fill="#333" stroke="#333" stroke-width="0.14">10</text>
<text x="50.90" y="545.70" font-size="8" text-anchor="start" fill="#222" stroke="#222" stroke-width="0.14">HEK293T</text>
<text x="105.10" y="611.40" font-size="8" text-anchor="start" fill="#222" stroke="#222" stroke-width="0.14">R = 0.91</text>
<text x="105.1" y="621.4" font-size="8" fill="#222" stroke="#222" stroke-width="0.14"><tspan font-style="italic">p</tspan> = 6.5x10<tspan font-size="5" dy="-3">-60</tspan></text>
<text x="99.2" y="648.6" font-size="8" text-anchor="middle" fill="#222" stroke="#222" stroke-width="0.14">Log<tspan font-size="5.3" dy="1.8">2</tspan><tspan dy="-1.8"> (5p/3p) in our dataset</tspan></text>
<text transform="translate(21.7,582.7) rotate(-90)" font-size="8" text-anchor="middle" fill="#222" stroke="#222" stroke-width="0.14">Log<tspan font-size="5.3" dy="1.8">2</tspan><tspan dy="-1.8"> (5p/3p) in AQ-seq</tspan></text>
<g fill="#26A088" fill-opacity="0.76">
<circle cx="227.0" cy="613.4" r="2.15"/>
<circle cx="269.8" cy="558.6" r="2.15"/>
<circle cx="268.1" cy="573.3" r="2.15"/>
<circle cx="263.7" cy="561.1" r="2.15"/>
<circle cx="231.7" cy="578.0" r="2.15"/>
<circle cx="244.7" cy="570.1" r="2.15"/>
<circle cx="273.8" cy="553.0" r="2.15"/>
<circle cx="273.8" cy="550.9" r="2.15"/>
<circle cx="228.3" cy="596.7" r="2.15"/>
<circle cx="235.5" cy="595.1" r="2.15"/>
<circle cx="264.3" cy="565.4" r="2.15"/>
<circle cx="269.4" cy="569.8" r="2.15"/>
<circle cx="257.0" cy="580.3" r="2.15"/>
<circle cx="234.6" cy="602.3" r="2.15"/>
<circle cx="225.6" cy="600.3" r="2.15"/>
<circle cx="268.1" cy="566.9" r="2.15"/>
<circle cx="273.5" cy="558.5" r="2.15"/>
<circle cx="229.4" cy="603.4" r="2.15"/>
<circle cx="264.1" cy="564.5" r="2.15"/>
<circle cx="265.2" cy="571.4" r="2.15"/>
<circle cx="252.8" cy="574.9" r="2.15"/>
<circle cx="225.3" cy="601.3" r="2.15"/>
<circle cx="271.9" cy="565.0" r="2.15"/>
<circle cx="227.4" cy="611.9" r="2.15"/>
<circle cx="225.6" cy="622.8" r="2.15"/>
<circle cx="255.4" cy="567.9" r="2.15"/>
<circle cx="269.9" cy="557.8" r="2.15"/>
<circle cx="225.0" cy="609.9" r="2.15"/>
<circle cx="244.2" cy="585.2" r="2.15"/>
<circle cx="253.2" cy="580.5" r="2.15"/>
<circle cx="250.5" cy="584.8" r="2.15"/>
<circle cx="248.6" cy="581.9" r="2.15"/>
<circle cx="231.1" cy="579.5" r="2.15"/>
<circle cx="245.4" cy="573.4" r="2.15"/>
<circle cx="268.2" cy="552.1" r="2.15"/>
<circle cx="238.0" cy="596.4" r="2.15"/>
<circle cx="270.5" cy="575.5" r="2.15"/>
<circle cx="267.1" cy="561.1" r="2.15"/>
<circle cx="262.4" cy="576.0" r="2.15"/>
<circle cx="252.4" cy="586.2" r="2.15"/>
<circle cx="251.5" cy="584.7" r="2.15"/>
<circle cx="245.2" cy="581.7" r="2.15"/>
<circle cx="228.4" cy="604.4" r="2.15"/>
<circle cx="238.3" cy="587.9" r="2.15"/>
<circle cx="246.4" cy="591.6" r="2.15"/>
<circle cx="242.6" cy="585.9" r="2.15"/>
<circle cx="251.1" cy="569.5" r="2.15"/>
<circle cx="227.5" cy="606.1" r="2.15"/>
<circle cx="267.8" cy="574.1" r="2.15"/>
<circle cx="266.9" cy="577.4" r="2.15"/>
<circle cx="225.7" cy="598.1" r="2.15"/>
<circle cx="268.6" cy="573.8" r="2.15"/>
<circle cx="223.7" cy="622.6" r="2.15"/>
<circle cx="267.7" cy="556.9" r="2.15"/>
<circle cx="269.6" cy="567.9" r="2.15"/>
<circle cx="271.9" cy="565.1" r="2.15"/>
<circle cx="269.4" cy="561.2" r="2.15"/>
<circle cx="244.9" cy="586.6" r="2.15"/>
<circle cx="260.5" cy="583.4" r="2.15"/>
<circle cx="255.3" cy="554.6" r="2.15"/>
<circle cx="241.8" cy="600.4" r="2.15"/>
<circle cx="233.9" cy="595.4" r="2.15"/>
<circle cx="279.4" cy="565.9" r="2.15"/>
<circle cx="266.1" cy="562.7" r="2.15"/>
<circle cx="246.7" cy="585.5" r="2.15"/>
<circle cx="239.9" cy="594.6" r="2.15"/>
<circle cx="275.9" cy="562.6" r="2.15"/>
<circle cx="260.7" cy="566.2" r="2.15"/>
<circle cx="222.4" cy="600.4" r="2.15"/>
<circle cx="263.9" cy="564.0" r="2.15"/>
<circle cx="267.5" cy="564.4" r="2.15"/>
<circle cx="233.9" cy="603.0" r="2.15"/>
<circle cx="242.4" cy="588.7" r="2.15"/>
<circle cx="230.0" cy="591.6" r="2.15"/>
<circle cx="270.3" cy="561.1" r="2.15"/>
<circle cx="269.2" cy="566.7" r="2.15"/>
<circle cx="267.6" cy="579.3" r="2.15"/>
<circle cx="267.3" cy="564.6" r="2.15"/>
<circle cx="265.0" cy="579.3" r="2.15"/>
<circle cx="223.2" cy="594.2" r="2.15"/>
<circle cx="240.0" cy="596.3" r="2.15"/>
<circle cx="267.0" cy="559.2" r="2.15"/>
<circle cx="269.2" cy="560.8" r="2.15"/>
<circle cx="276.5" cy="546.7" r="2.15"/>
<circle cx="251.4" cy="587.0" r="2.15"/>
<circle cx="220.7" cy="608.0" r="2.15"/>
<circle cx="255.9" cy="583.4" r="2.15"/>
<circle cx="274.1" cy="547.6" r="2.15"/>
<circle cx="227.4" cy="600.8" r="2.15"/>
<circle cx="218.7" cy="618.1" r="2.15"/>
<circle cx="239.9" cy="584.4" r="2.15"/>
<circle cx="256.4" cy="569.8" r="2.15"/>
<circle cx="266.1" cy="571.4" r="2.15"/>
<circle cx="275.3" cy="560.9" r="2.15"/>
<circle cx="225.3" cy="584.4" r="2.15"/>
<circle cx="232.9" cy="581.0" r="2.15"/>
<circle cx="232.1" cy="602.0" r="2.15"/>
<circle cx="243.0" cy="590.1" r="2.15"/>
<circle cx="262.7" cy="565.5" r="2.15"/>
<circle cx="278.1" cy="550.9" r="2.15"/>
<circle cx="270.6" cy="552.8" r="2.15"/>
<circle cx="220.0" cy="610.4" r="2.15"/>
<circle cx="242.3" cy="589.2" r="2.15"/>
<circle cx="264.0" cy="582.3" r="2.15"/>
<circle cx="229.5" cy="602.8" r="2.15"/>
<circle cx="260.5" cy="554.0" r="2.15"/>
<circle cx="223.0" cy="602.6" r="2.15"/>
<circle cx="253.4" cy="573.8" r="2.15"/>
<circle cx="263.7" cy="555.8" r="2.15"/>
<circle cx="244.4" cy="576.7" r="2.15"/>
<circle cx="271.5" cy="576.5" r="2.15"/>
<circle cx="228.6" cy="599.2" r="2.15"/>
<circle cx="226.4" cy="596.7" r="2.15"/>
<circle cx="219.3" cy="608.5" r="2.15"/>
<circle cx="274.6" cy="566.2" r="2.15"/>
<circle cx="235.6" cy="595.9" r="2.15"/>
<circle cx="248.8" cy="593.1" r="2.15"/>
<circle cx="266.8" cy="588.6" r="2.15"/>
<circle cx="236.5" cy="597.0" r="2.15"/>
<circle cx="269.1" cy="559.6" r="2.15"/>
<circle cx="252.6" cy="559.7" r="2.15"/>
<circle cx="230.0" cy="585.8" r="2.15"/>
<circle cx="230.6" cy="591.3" r="2.15"/>
<circle cx="255.1" cy="576.7" r="2.15"/>
<circle cx="266.5" cy="550.3" r="2.15"/>
<circle cx="261.7" cy="549.4" r="2.15"/>
<circle cx="249.4" cy="597.8" r="2.15"/>
<circle cx="233.1" cy="603.6" r="2.15"/>
<circle cx="264.5" cy="573.1" r="2.15"/>
<circle cx="257.1" cy="570.3" r="2.15"/>
<circle cx="257.4" cy="588.2" r="2.15"/>
<circle cx="280.5" cy="564.8" r="2.15"/>
<circle cx="262.9" cy="575.3" r="2.15"/>
<circle cx="228.7" cy="601.2" r="2.15"/>
<circle cx="268.0" cy="558.5" r="2.15"/>
<circle cx="242.1" cy="578.4" r="2.15"/>
<circle cx="274.6" cy="560.7" r="2.15"/>
<circle cx="251.5" cy="583.1" r="2.15"/>
<circle cx="263.9" cy="573.8" r="2.15"/>
<circle cx="241.9" cy="584.7" r="2.15"/>
<circle cx="269.0" cy="555.7" r="2.15"/>
<circle cx="260.1" cy="588.2" r="2.15"/>
<circle cx="271.0" cy="571.2" r="2.15"/>
<circle cx="269.1" cy="575.7" r="2.15"/>
<circle cx="249.7" cy="590.0" r="2.15"/>
<circle cx="266.8" cy="562.4" r="2.15"/>
<circle cx="229.0" cy="606.7" r="2.15"/>
<circle cx="257.7" cy="592.2" r="2.15"/>
<circle cx="268.5" cy="572.1" r="2.15"/>
<circle cx="274.9" cy="558.1" r="2.15"/>
<circle cx="273.9" cy="572.0" r="2.15"/>
<circle cx="270.9" cy="562.3" r="2.15"/>
<circle cx="246.9" cy="585.5" r="2.15"/>
<circle cx="241.4" cy="589.4" r="2.15"/>
<circle cx="271.8" cy="561.4" r="2.15"/>
<circle cx="273.6" cy="561.8" r="2.15"/>
<circle cx="262.6" cy="577.0" r="2.15"/>
<circle cx="261.6" cy="584.0" r="2.15"/>
<circle cx="276.1" cy="559.0" r="2.15"/>
<circle cx="230.4" cy="599.8" r="2.15"/>
<circle cx="222.1" cy="599.6" r="2.15"/>
<circle cx="227.8" cy="603.5" r="2.15"/>
<circle cx="254.6" cy="574.3" r="2.15"/>
<circle cx="270.8" cy="572.5" r="2.15"/>
<circle cx="256.0" cy="580.8" r="2.15"/>
<circle cx="210.6" cy="604.9" r="2.15"/>
<circle cx="221.7" cy="611.8" r="2.15"/>
<circle cx="239.5" cy="620.5" r="2.15"/>
<circle cx="242.2" cy="617.4" r="2.15"/>
<circle cx="246.2" cy="612.9" r="2.15"/>
<circle cx="277.0" cy="542.2" r="2.15"/>
<circle cx="271.1" cy="540.8" r="2.15"/>
<circle cx="280.9" cy="544.6" r="2.15"/>
</g>
<rect x="199.20" y="535.40" width="105.50" height="90.80" fill="none" stroke="#333" stroke-width="0.9"/>
<line x1="211.80" y1="626.20" x2="211.80" y2="628.20" stroke="#333" stroke-width="0.7"/>
<text x="211.00" y="636.80" font-size="7.3" text-anchor="middle" fill="#333" stroke="#333" stroke-width="0.14">-10</text>
<line x1="197.20" y1="615.30" x2="199.20" y2="615.30" stroke="#333" stroke-width="0.7"/>
<text x="195.60" y="617.90" font-size="7.2" text-anchor="end" fill="#333" stroke="#333" stroke-width="0.14">-10</text>
<line x1="231.55" y1="626.20" x2="231.55" y2="628.20" stroke="#333" stroke-width="0.7"/>
<text x="230.75" y="636.80" font-size="7.3" text-anchor="middle" fill="#333" stroke="#333" stroke-width="0.14">-5</text>
<line x1="197.20" y1="598.05" x2="199.20" y2="598.05" stroke="#333" stroke-width="0.7"/>
<text x="195.60" y="600.65" font-size="7.2" text-anchor="end" fill="#333" stroke="#333" stroke-width="0.14">-5</text>
<line x1="251.30" y1="626.20" x2="251.30" y2="628.20" stroke="#333" stroke-width="0.7"/>
<text x="252.20" y="636.80" font-size="7.3" text-anchor="middle" fill="#333" stroke="#333" stroke-width="0.14">0</text>
<line x1="197.20" y1="580.80" x2="199.20" y2="580.80" stroke="#333" stroke-width="0.7"/>
<text x="195.60" y="583.40" font-size="7.2" text-anchor="end" fill="#333" stroke="#333" stroke-width="0.14">0</text>
<line x1="271.05" y1="626.20" x2="271.05" y2="628.20" stroke="#333" stroke-width="0.7"/>
<text x="271.85" y="636.80" font-size="7.3" text-anchor="middle" fill="#333" stroke="#333" stroke-width="0.14">5</text>
<line x1="197.20" y1="563.55" x2="199.20" y2="563.55" stroke="#333" stroke-width="0.7"/>
<text x="195.60" y="566.15" font-size="7.2" text-anchor="end" fill="#333" stroke="#333" stroke-width="0.14">5</text>
<line x1="290.80" y1="626.20" x2="290.80" y2="628.20" stroke="#333" stroke-width="0.7"/>
<text x="291.60" y="636.80" font-size="7.3" text-anchor="middle" fill="#333" stroke="#333" stroke-width="0.14">10</text>
<line x1="197.20" y1="546.30" x2="199.20" y2="546.30" stroke="#333" stroke-width="0.7"/>
<text x="195.60" y="548.90" font-size="7.2" text-anchor="end" fill="#333" stroke="#333" stroke-width="0.14">10</text>
<text x="203.50" y="545.70" font-size="8" text-anchor="start" fill="#222" stroke="#222" stroke-width="0.14">HEK293T</text>
<text x="257.70" y="611.40" font-size="8" text-anchor="start" fill="#222" stroke="#222" stroke-width="0.14">R = 0.82</text>
<text x="257.7" y="621.4" font-size="8" fill="#222" stroke="#222" stroke-width="0.14"><tspan font-style="italic">p</tspan> = 1.5x10<tspan font-size="5" dy="-3">-38</tspan></text>
<text x="251.9" y="648.6" font-size="8" text-anchor="middle" fill="#222" stroke="#222" stroke-width="0.14">Log<tspan font-size="5.3" dy="1.8">2</tspan><tspan dy="-1.8"> (5p/3p) in our dataset</tspan></text>
<text transform="translate(178.1,582.0) rotate(-90)" font-size="8" text-anchor="middle" fill="#222" stroke="#222" stroke-width="0.14">Log<tspan font-size="5.3" dy="1.8">2</tspan><tspan dy="-1.8"> (5p/3p) in TruSeq</tspan></text>
<text x="-0.20" y="676.60" font-size="13" text-anchor="start" font-weight="bold" fill="#1c1010">C</text>
<g fill="#2C6A94" fill-opacity="0.55">
<circle cx="95.8" cy="712.7" r="1.45"/>
<circle cx="91.6" cy="720.4" r="1.45"/>
<circle cx="94.7" cy="711.2" r="1.45"/>
<circle cx="94.8" cy="721.3" r="1.45"/>
<circle cx="91.7" cy="717.4" r="1.45"/>
<circle cx="96.3" cy="717.3" r="1.45"/>
<circle cx="92.8" cy="718.0" r="1.45"/>
<circle cx="94.2" cy="719.8" r="1.45"/>
<circle cx="93.7" cy="716.3" r="1.45"/>
<circle cx="98.1" cy="717.4" r="1.45"/>
<circle cx="96.3" cy="720.8" r="1.45"/>
<circle cx="96.0" cy="716.7" r="1.45"/>
<circle cx="92.3" cy="717.3" r="1.45"/>
<circle cx="96.1" cy="718.4" r="1.45"/>
<circle cx="96.5" cy="711.9" r="1.45"/>
<circle cx="98.1" cy="711.6" r="1.45"/>
<circle cx="90.4" cy="716.0" r="1.45"/>
<circle cx="91.9" cy="713.9" r="1.45"/>
<circle cx="93.9" cy="716.4" r="1.45"/>
<circle cx="95.0" cy="719.3" r="1.45"/>
<circle cx="94.0" cy="719.7" r="1.45"/>
<circle cx="99.3" cy="718.8" r="1.45"/>
<circle cx="93.8" cy="723.4" r="1.45"/>
<circle cx="89.8" cy="720.1" r="1.45"/>
<circle cx="95.9" cy="714.5" r="1.45"/>
<circle cx="94.5" cy="719.5" r="1.45"/>
<circle cx="98.7" cy="720.8" r="1.45"/>
<circle cx="91.5" cy="715.5" r="1.45"/>
<circle cx="91.1" cy="716.3" r="1.45"/>
<circle cx="96.3" cy="717.5" r="1.45"/>
<circle cx="94.8" cy="717.1" r="1.45"/>
<circle cx="92.0" cy="728.3" r="1.45"/>
<circle cx="90.5" cy="717.2" r="1.45"/>
<circle cx="89.4" cy="719.2" r="1.45"/>
<circle cx="94.3" cy="712.5" r="1.45"/>
<circle cx="90.1" cy="719.1" r="1.45"/>
<circle cx="94.4" cy="715.4" r="1.45"/>
<circle cx="90.1" cy="710.7" r="1.45"/>
<circle cx="91.6" cy="713.4" r="1.45"/>
<circle cx="93.2" cy="715.8" r="1.45"/>
<circle cx="98.2" cy="714.7" r="1.45"/>
<circle cx="94.1" cy="720.8" r="1.45"/>
<circle cx="92.0" cy="722.2" r="1.45"/>
<circle cx="99.2" cy="722.7" r="1.45"/>
<circle cx="86.8" cy="711.4" r="1.45"/>
<circle cx="97.2" cy="718.5" r="1.45"/>
<circle cx="96.0" cy="720.1" r="1.45"/>
<circle cx="92.2" cy="715.5" r="1.45"/>
<circle cx="94.8" cy="718.8" r="1.45"/>
<circle cx="98.1" cy="714.6" r="1.45"/>
<circle cx="94.1" cy="721.4" r="1.45"/>
<circle cx="94.1" cy="718.3" r="1.45"/>
<circle cx="93.5" cy="714.4" r="1.45"/>
<circle cx="92.2" cy="716.3" r="1.45"/>
<circle cx="95.9" cy="716.0" r="1.45"/>
<circle cx="99.9" cy="723.4" r="1.45"/>
<circle cx="93.6" cy="721.4" r="1.45"/>
<circle cx="93.6" cy="708.3" r="1.45"/>
<circle cx="89.3" cy="718.3" r="1.45"/>
<circle cx="95.5" cy="716.9" r="1.45"/>
<circle cx="96.2" cy="722.7" r="1.45"/>
<circle cx="96.4" cy="720.6" r="1.45"/>
<circle cx="90.5" cy="715.2" r="1.45"/>
<circle cx="95.0" cy="719.8" r="1.45"/>
<circle cx="91.5" cy="718.0" r="1.45"/>
<circle cx="93.7" cy="717.9" r="1.45"/>
<circle cx="91.0" cy="725.5" r="1.45"/>
<circle cx="97.3" cy="716.6" r="1.45"/>
<circle cx="90.4" cy="722.8" r="1.45"/>
<circle cx="91.9" cy="718.7" r="1.45"/>
<circle cx="88.0" cy="712.3" r="1.45"/>
<circle cx="94.9" cy="718.4" r="1.45"/>
<circle cx="94.7" cy="716.5" r="1.45"/>
<circle cx="96.6" cy="716.7" r="1.45"/>
<circle cx="97.1" cy="711.8" r="1.45"/>
<circle cx="84.9" cy="719.6" r="1.45"/>
<circle cx="83.6" cy="718.9" r="1.45"/>
<circle cx="84.0" cy="718.0" r="1.45"/>
<circle cx="86.2" cy="716.2" r="1.45"/>
<circle cx="83.0" cy="714.4" r="1.45"/>
<circle cx="84.9" cy="718.5" r="1.45"/>
<circle cx="84.4" cy="724.9" r="1.45"/>
<circle cx="86.1" cy="724.1" r="1.45"/>
<circle cx="87.9" cy="718.0" r="1.45"/>
<circle cx="88.9" cy="715.9" r="1.45"/>
<circle cx="87.1" cy="713.3" r="1.45"/>
<circle cx="85.4" cy="712.8" r="1.45"/>
<circle cx="85.3" cy="717.2" r="1.45"/>
<circle cx="84.1" cy="716.2" r="1.45"/>
<circle cx="87.0" cy="719.8" r="1.45"/>
<circle cx="82.8" cy="718.2" r="1.45"/>
<circle cx="86.4" cy="718.6" r="1.45"/>
<circle cx="83.4" cy="720.6" r="1.45"/>
<circle cx="84.9" cy="727.1" r="1.45"/>
<circle cx="84.3" cy="713.2" r="1.45"/>
<circle cx="82.7" cy="718.9" r="1.45"/>
<circle cx="89.2" cy="715.7" r="1.45"/>
<circle cx="87.5" cy="718.6" r="1.45"/>
<circle cx="82.6" cy="708.3" r="1.45"/>
<circle cx="86.2" cy="717.3" r="1.45"/>
<circle cx="89.1" cy="715.3" r="1.45"/>
<circle cx="85.6" cy="721.9" r="1.45"/>
<circle cx="85.2" cy="718.6" r="1.45"/>
<circle cx="84.1" cy="721.1" r="1.45"/>
<circle cx="83.4" cy="718.5" r="1.45"/>
<circle cx="84.2" cy="716.7" r="1.45"/>
<circle cx="87.7" cy="717.0" r="1.45"/>
<circle cx="85.6" cy="712.8" r="1.45"/>
<circle cx="86.9" cy="723.2" r="1.45"/>
<circle cx="84.0" cy="717.5" r="1.45"/>
<circle cx="76.1" cy="736.6" r="1.45"/>
<circle cx="73.5" cy="745.8" r="1.45"/>
<circle cx="81.6" cy="737.3" r="1.45"/>
<circle cx="74.0" cy="739.0" r="1.45"/>
<circle cx="82.7" cy="743.1" r="1.45"/>
<circle cx="75.2" cy="743.4" r="1.45"/>
<circle cx="75.8" cy="745.2" r="1.45"/>
<circle cx="77.3" cy="744.2" r="1.45"/>
<circle cx="78.9" cy="731.6" r="1.45"/>
<circle cx="75.6" cy="736.1" r="1.45"/>
<circle cx="82.2" cy="747.1" r="1.45"/>
<circle cx="79.0" cy="739.3" r="1.45"/>
<circle cx="77.7" cy="736.5" r="1.45"/>
<circle cx="77.4" cy="738.0" r="1.45"/>
<circle cx="77.5" cy="739.7" r="1.45"/>
<circle cx="76.4" cy="731.5" r="1.45"/>
<circle cx="78.5" cy="743.1" r="1.45"/>
<circle cx="84.5" cy="733.9" r="1.45"/>
<circle cx="78.1" cy="741.5" r="1.45"/>
<circle cx="76.5" cy="735.0" r="1.45"/>
<circle cx="77.7" cy="741.7" r="1.45"/>
<circle cx="81.2" cy="740.2" r="1.45"/>
<circle cx="78.5" cy="732.6" r="1.45"/>
<circle cx="81.3" cy="735.0" r="1.45"/>
<circle cx="80.0" cy="734.9" r="1.45"/>
<circle cx="78.2" cy="736.0" r="1.45"/>
<circle cx="81.8" cy="740.7" r="1.45"/>
<circle cx="74.9" cy="737.4" r="1.45"/>
<circle cx="78.3" cy="737.2" r="1.45"/>
<circle cx="76.9" cy="737.4" r="1.45"/>
<circle cx="81.6" cy="731.2" r="1.45"/>
<circle cx="84.0" cy="737.9" r="1.45"/>
<circle cx="83.0" cy="741.4" r="1.45"/>
<circle cx="82.2" cy="738.8" r="1.45"/>
<circle cx="82.7" cy="738.1" r="1.45"/>
<circle cx="78.0" cy="741.7" r="1.45"/>
<circle cx="82.4" cy="739.1" r="1.45"/>
<circle cx="80.8" cy="737.6" r="1.45"/>
<circle cx="72.6" cy="737.2" r="1.45"/>
<circle cx="77.6" cy="737.9" r="1.45"/>
<circle cx="80.1" cy="745.4" r="1.45"/>
<circle cx="77.8" cy="739.5" r="1.45"/>
<circle cx="79.9" cy="736.0" r="1.45"/>
<circle cx="76.7" cy="740.0" r="1.45"/>
<circle cx="80.6" cy="745.5" r="1.45"/>
<circle cx="84.2" cy="742.5" r="1.45"/>
<circle cx="82.6" cy="738.8" r="1.45"/>
<circle cx="84.3" cy="735.7" r="1.45"/>
<circle cx="78.6" cy="745.1" r="1.45"/>
<circle cx="79.1" cy="738.1" r="1.45"/>
<circle cx="80.3" cy="743.6" r="1.45"/>
<circle cx="76.2" cy="741.9" r="1.45"/>
<circle cx="79.5" cy="742.2" r="1.45"/>
<circle cx="78.4" cy="736.1" r="1.45"/>
<circle cx="77.5" cy="734.7" r="1.45"/>
<circle cx="79.6" cy="740.1" r="1.45"/>
<circle cx="82.0" cy="737.6" r="1.45"/>
<circle cx="77.9" cy="741.3" r="1.45"/>
<circle cx="78.6" cy="738.1" r="1.45"/>
<circle cx="82.1" cy="738.3" r="1.45"/>
<circle cx="76.9" cy="743.8" r="1.45"/>
<circle cx="79.5" cy="737.9" r="1.45"/>
<circle cx="82.1" cy="741.1" r="1.45"/>
<circle cx="74.9" cy="736.4" r="1.45"/>
<circle cx="78.2" cy="743.4" r="1.45"/>
<circle cx="83.6" cy="736.2" r="1.45"/>
<circle cx="78.9" cy="738.3" r="1.45"/>
<circle cx="76.5" cy="735.9" r="1.45"/>
<circle cx="77.4" cy="740.8" r="1.45"/>
<circle cx="77.8" cy="743.1" r="1.45"/>
<circle cx="88.8" cy="728.7" r="1.45"/>
<circle cx="88.2" cy="743.4" r="1.45"/>
<circle cx="85.6" cy="737.8" r="1.45"/>
<circle cx="87.2" cy="743.7" r="1.45"/>
<circle cx="81.1" cy="737.1" r="1.45"/>
<circle cx="88.7" cy="736.0" r="1.45"/>
<circle cx="91.7" cy="738.6" r="1.45"/>
<circle cx="86.4" cy="735.9" r="1.45"/>
<circle cx="84.3" cy="730.9" r="1.45"/>
<circle cx="83.1" cy="739.4" r="1.45"/>
<circle cx="85.4" cy="737.2" r="1.45"/>
<circle cx="89.1" cy="737.4" r="1.45"/>
<circle cx="87.5" cy="737.1" r="1.45"/>
<circle cx="89.4" cy="735.4" r="1.45"/>
<circle cx="87.0" cy="741.7" r="1.45"/>
<circle cx="88.0" cy="737.8" r="1.45"/>
<circle cx="88.5" cy="733.3" r="1.45"/>
<circle cx="87.6" cy="730.9" r="1.45"/>
<circle cx="87.2" cy="738.7" r="1.45"/>
<circle cx="86.7" cy="734.6" r="1.45"/>
<circle cx="83.5" cy="732.9" r="1.45"/>
<circle cx="89.9" cy="734.3" r="1.45"/>
<circle cx="86.6" cy="733.5" r="1.45"/>
<circle cx="89.0" cy="737.4" r="1.45"/>
<circle cx="88.6" cy="738.2" r="1.45"/>
<circle cx="87.6" cy="733.3" r="1.45"/>
<circle cx="83.2" cy="732.7" r="1.45"/>
<circle cx="86.9" cy="741.9" r="1.45"/>
<circle cx="85.2" cy="737.8" r="1.45"/>
<circle cx="84.2" cy="733.7" r="1.45"/>
<circle cx="84.4" cy="735.1" r="1.45"/>
<circle cx="83.7" cy="736.3" r="1.45"/>
<circle cx="90.8" cy="733.7" r="1.45"/>
<circle cx="82.5" cy="739.0" r="1.45"/>
<circle cx="86.0" cy="741.7" r="1.45"/>
<circle cx="75.2" cy="752.7" r="1.45"/>
<circle cx="95.6" cy="741.9" r="1.45"/>
<circle cx="96.9" cy="727.1" r="1.45"/>
<circle cx="96.4" cy="733.2" r="1.45"/>
<circle cx="84.1" cy="746.7" r="1.45"/>
<circle cx="85.5" cy="746.7" r="1.45"/>
</g>
<line x1="41.40" y1="761.40" x2="121.13" y2="684.30" stroke="#333" stroke-width="0.75" stroke-dasharray="1.5,1.4"/>
<line x1="52.69" y1="772.40" x2="129.00" y2="698.61" stroke="#333" stroke-width="0.75" stroke-dasharray="1.5,1.4"/>
<rect x="41.40" y="684.30" width="87.60" height="88.10" fill="none" stroke="#333" stroke-width="1.0"/>
<line x1="58.30" y1="772.40" x2="58.30" y2="774.60" stroke="#333" stroke-width="0.8"/>
<text x="58.30" y="781.90" font-size="8.2" text-anchor="middle" fill="#222" stroke="#222" stroke-width="0.14">-10</text>
<line x1="39.20" y1="755.10" x2="41.40" y2="755.10" stroke="#333" stroke-width="0.8"/>
<text x="38.80" y="758.00" font-size="8.2" text-anchor="end" fill="#222" stroke="#222" stroke-width="0.14">-10</text>
<line x1="85.50" y1="772.40" x2="85.50" y2="774.60" stroke="#333" stroke-width="0.8"/>
<text x="85.50" y="781.90" font-size="8.2" text-anchor="middle" fill="#222" stroke="#222" stroke-width="0.14">0</text>
<line x1="39.20" y1="728.70" x2="41.40" y2="728.70" stroke="#333" stroke-width="0.8"/>
<text x="38.80" y="731.60" font-size="8.2" text-anchor="end" fill="#222" stroke="#222" stroke-width="0.14">0</text>
<line x1="112.70" y1="772.40" x2="112.70" y2="774.60" stroke="#333" stroke-width="0.8"/>
<text x="112.70" y="781.90" font-size="8.2" text-anchor="middle" fill="#222" stroke="#222" stroke-width="0.14">10</text>
<line x1="39.20" y1="702.30" x2="41.40" y2="702.30" stroke="#333" stroke-width="0.8"/>
<text x="38.80" y="705.20" font-size="8.2" text-anchor="end" fill="#222" stroke="#222" stroke-width="0.14">10</text>
<text x="85.20" y="679.70" font-size="8.2" text-anchor="middle" fill="#222" stroke="#222" stroke-width="0.14">Our datasets</text>
<text x="48.20" y="695.30" font-size="8.4" text-anchor="start" fill="#222" stroke="#222" stroke-width="0.14">R = 0.67</text>
<text x="85.5" y="792.9" font-size="8.1" text-anchor="middle" fill="#222" stroke="#222" stroke-width="0.14">Predicted log<tspan font-size="5.2" dy="1.9">2</tspan><tspan dy="-1.9"> (5p/3p)</tspan></text>
<text transform="translate(21.9,730.7) rotate(-90)" font-size="8.0" text-anchor="middle" fill="#222" stroke="#222" stroke-width="0.14">Observed log<tspan font-size="5.2" dy="1.8">2</tspan><tspan dy="-1.8">&#8201;(5p/3p)</tspan></text>
<g fill="#2C6A94" fill-opacity="0.55">
<circle cx="227.3" cy="720.3" r="1.45"/>
<circle cx="231.4" cy="716.1" r="1.45"/>
<circle cx="226.8" cy="716.6" r="1.45"/>
<circle cx="225.8" cy="724.0" r="1.45"/>
<circle cx="227.3" cy="722.3" r="1.45"/>
<circle cx="227.7" cy="720.8" r="1.45"/>
<circle cx="224.0" cy="727.8" r="1.45"/>
<circle cx="225.3" cy="732.2" r="1.45"/>
<circle cx="226.4" cy="721.3" r="1.45"/>
<circle cx="227.9" cy="725.0" r="1.45"/>
<circle cx="226.2" cy="715.7" r="1.45"/>
<circle cx="227.6" cy="726.0" r="1.45"/>
<circle cx="228.7" cy="723.4" r="1.45"/>
<circle cx="228.2" cy="721.3" r="1.45"/>
<circle cx="226.0" cy="727.4" r="1.45"/>
<circle cx="226.4" cy="704.1" r="1.45"/>
<circle cx="225.6" cy="709.5" r="1.45"/>
<circle cx="228.4" cy="721.9" r="1.45"/>
<circle cx="228.1" cy="710.5" r="1.45"/>
<circle cx="226.1" cy="722.8" r="1.45"/>
<circle cx="228.1" cy="717.1" r="1.45"/>
<circle cx="229.5" cy="716.6" r="1.45"/>
<circle cx="224.9" cy="719.7" r="1.45"/>
<circle cx="224.9" cy="714.5" r="1.45"/>
<circle cx="227.5" cy="722.0" r="1.45"/>
<circle cx="225.3" cy="713.6" r="1.45"/>
<circle cx="226.0" cy="711.5" r="1.45"/>
<circle cx="225.2" cy="721.2" r="1.45"/>
<circle cx="225.8" cy="726.1" r="1.45"/>
<circle cx="230.4" cy="708.6" r="1.45"/>
<circle cx="225.7" cy="714.3" r="1.45"/>
<circle cx="224.0" cy="711.3" r="1.45"/>
<circle cx="228.1" cy="721.6" r="1.45"/>
<circle cx="226.0" cy="717.8" r="1.45"/>
<circle cx="227.2" cy="721.7" r="1.45"/>
<circle cx="225.4" cy="721.0" r="1.45"/>
<circle cx="225.9" cy="714.3" r="1.45"/>
<circle cx="226.7" cy="717.8" r="1.45"/>
<circle cx="224.2" cy="721.8" r="1.45"/>
<circle cx="226.0" cy="722.7" r="1.45"/>
<circle cx="226.4" cy="721.3" r="1.45"/>
<circle cx="224.4" cy="713.3" r="1.45"/>
<circle cx="227.8" cy="722.6" r="1.45"/>
<circle cx="227.4" cy="725.3" r="1.45"/>
<circle cx="224.8" cy="720.6" r="1.45"/>
<circle cx="228.7" cy="720.0" r="1.45"/>
<circle cx="224.4" cy="717.7" r="1.45"/>
<circle cx="225.8" cy="723.9" r="1.45"/>
<circle cx="227.1" cy="730.5" r="1.45"/>
<circle cx="224.1" cy="728.6" r="1.45"/>
<circle cx="228.1" cy="718.6" r="1.45"/>
<circle cx="225.7" cy="723.6" r="1.45"/>
<circle cx="227.5" cy="711.1" r="1.45"/>
<circle cx="225.6" cy="717.5" r="1.45"/>
<circle cx="229.9" cy="715.2" r="1.45"/>
<circle cx="226.1" cy="716.9" r="1.45"/>
<circle cx="226.8" cy="714.8" r="1.45"/>
<circle cx="227.1" cy="722.3" r="1.45"/>
<circle cx="226.4" cy="716.7" r="1.45"/>
<circle cx="225.6" cy="718.6" r="1.45"/>
<circle cx="225.3" cy="711.1" r="1.45"/>
<circle cx="228.8" cy="724.7" r="1.45"/>
<circle cx="227.8" cy="718.0" r="1.45"/>
<circle cx="226.7" cy="720.7" r="1.45"/>
<circle cx="227.0" cy="712.6" r="1.45"/>
<circle cx="224.9" cy="712.5" r="1.45"/>
<circle cx="226.2" cy="726.1" r="1.45"/>
<circle cx="226.5" cy="715.0" r="1.45"/>
<circle cx="226.5" cy="717.2" r="1.45"/>
<circle cx="226.1" cy="722.5" r="1.45"/>
<circle cx="220.5" cy="726.2" r="1.45"/>
<circle cx="220.5" cy="719.5" r="1.45"/>
<circle cx="218.7" cy="722.4" r="1.45"/>
<circle cx="218.7" cy="721.4" r="1.45"/>
<circle cx="219.0" cy="722.0" r="1.45"/>
<circle cx="216.4" cy="732.4" r="1.45"/>
<circle cx="219.6" cy="724.6" r="1.45"/>
<circle cx="218.3" cy="722.1" r="1.45"/>
<circle cx="217.6" cy="713.1" r="1.45"/>
<circle cx="219.1" cy="722.2" r="1.45"/>
<circle cx="217.6" cy="716.6" r="1.45"/>
<circle cx="220.1" cy="713.4" r="1.45"/>
<circle cx="220.4" cy="725.5" r="1.45"/>
<circle cx="217.4" cy="714.0" r="1.45"/>
<circle cx="218.2" cy="721.8" r="1.45"/>
<circle cx="218.9" cy="718.6" r="1.45"/>
<circle cx="219.9" cy="726.7" r="1.45"/>
<circle cx="218.2" cy="730.4" r="1.45"/>
<circle cx="219.9" cy="722.1" r="1.45"/>
<circle cx="216.8" cy="715.8" r="1.45"/>
<circle cx="219.1" cy="726.5" r="1.45"/>
<circle cx="218.5" cy="724.3" r="1.45"/>
<circle cx="219.3" cy="720.1" r="1.45"/>
<circle cx="218.3" cy="719.0" r="1.45"/>
<circle cx="215.5" cy="723.0" r="1.45"/>
<circle cx="220.0" cy="716.2" r="1.45"/>
<circle cx="220.2" cy="726.7" r="1.45"/>
<circle cx="216.8" cy="723.0" r="1.45"/>
<circle cx="222.3" cy="719.9" r="1.45"/>
<circle cx="218.1" cy="730.0" r="1.45"/>
<circle cx="219.3" cy="723.6" r="1.45"/>
<circle cx="219.8" cy="720.2" r="1.45"/>
<circle cx="215.9" cy="721.9" r="1.45"/>
<circle cx="220.2" cy="724.4" r="1.45"/>
<circle cx="217.5" cy="727.3" r="1.45"/>
<circle cx="217.3" cy="709.9" r="1.45"/>
<circle cx="221.1" cy="724.5" r="1.45"/>
<circle cx="221.0" cy="726.8" r="1.45"/>
<circle cx="218.4" cy="725.2" r="1.45"/>
<circle cx="218.8" cy="717.9" r="1.45"/>
<circle cx="221.9" cy="717.5" r="1.45"/>
<circle cx="218.9" cy="720.5" r="1.45"/>
<circle cx="218.8" cy="719.4" r="1.45"/>
<circle cx="217.9" cy="720.0" r="1.45"/>
<circle cx="219.7" cy="716.4" r="1.45"/>
<circle cx="217.7" cy="735.5" r="1.45"/>
<circle cx="219.6" cy="742.3" r="1.45"/>
<circle cx="215.8" cy="740.9" r="1.45"/>
<circle cx="220.5" cy="739.4" r="1.45"/>
<circle cx="222.9" cy="734.8" r="1.45"/>
<circle cx="217.9" cy="738.4" r="1.45"/>
<circle cx="219.9" cy="735.2" r="1.45"/>
<circle cx="218.7" cy="735.4" r="1.45"/>
<circle cx="224.0" cy="732.9" r="1.45"/>
<circle cx="219.4" cy="740.4" r="1.45"/>
<circle cx="216.2" cy="736.9" r="1.45"/>
<circle cx="218.4" cy="738.1" r="1.45"/>
<circle cx="218.2" cy="733.6" r="1.45"/>
<circle cx="220.9" cy="741.7" r="1.45"/>
<circle cx="216.8" cy="736.1" r="1.45"/>
<circle cx="221.4" cy="735.6" r="1.45"/>
<circle cx="219.9" cy="745.5" r="1.45"/>
<circle cx="218.2" cy="734.7" r="1.45"/>
<circle cx="219.7" cy="737.9" r="1.45"/>
<circle cx="220.0" cy="733.2" r="1.45"/>
<circle cx="219.2" cy="741.7" r="1.45"/>
<circle cx="216.8" cy="736.8" r="1.45"/>
<circle cx="218.8" cy="738.8" r="1.45"/>
<circle cx="220.9" cy="741.4" r="1.45"/>
<circle cx="218.6" cy="734.3" r="1.45"/>
<circle cx="217.6" cy="749.5" r="1.45"/>
<circle cx="218.2" cy="733.5" r="1.45"/>
<circle cx="218.1" cy="739.2" r="1.45"/>
<circle cx="216.1" cy="731.4" r="1.45"/>
<circle cx="216.2" cy="741.5" r="1.45"/>
<circle cx="218.8" cy="727.3" r="1.45"/>
<circle cx="219.3" cy="741.8" r="1.45"/>
<circle cx="216.6" cy="739.6" r="1.45"/>
<circle cx="217.1" cy="741.3" r="1.45"/>
<circle cx="219.2" cy="731.3" r="1.45"/>
<circle cx="217.3" cy="730.5" r="1.45"/>
<circle cx="215.9" cy="727.4" r="1.45"/>
<circle cx="218.0" cy="739.9" r="1.45"/>
<circle cx="218.3" cy="736.7" r="1.45"/>
<circle cx="219.0" cy="739.7" r="1.45"/>
<circle cx="217.9" cy="740.9" r="1.45"/>
<circle cx="219.2" cy="740.8" r="1.45"/>
<circle cx="218.0" cy="745.7" r="1.45"/>
<circle cx="219.1" cy="735.3" r="1.45"/>
<circle cx="217.4" cy="732.5" r="1.45"/>
<circle cx="210.2" cy="733.5" r="1.45"/>
<circle cx="207.5" cy="730.1" r="1.45"/>
<circle cx="212.3" cy="721.6" r="1.45"/>
<circle cx="209.2" cy="734.5" r="1.45"/>
<circle cx="211.4" cy="730.7" r="1.45"/>
<circle cx="209.2" cy="733.7" r="1.45"/>
<circle cx="211.8" cy="730.5" r="1.45"/>
<circle cx="210.1" cy="727.4" r="1.45"/>
<circle cx="207.8" cy="731.3" r="1.45"/>
<circle cx="209.2" cy="736.5" r="1.45"/>
<circle cx="211.6" cy="722.9" r="1.45"/>
<circle cx="211.0" cy="733.3" r="1.45"/>
<circle cx="212.9" cy="729.2" r="1.45"/>
<circle cx="206.7" cy="738.0" r="1.45"/>
<circle cx="209.2" cy="738.4" r="1.45"/>
<circle cx="207.8" cy="729.9" r="1.45"/>
<circle cx="210.5" cy="722.9" r="1.45"/>
<circle cx="209.8" cy="733.3" r="1.45"/>
<circle cx="209.0" cy="727.5" r="1.45"/>
<circle cx="212.3" cy="723.3" r="1.45"/>
<circle cx="211.9" cy="737.8" r="1.45"/>
<circle cx="212.2" cy="739.9" r="1.45"/>
<circle cx="209.3" cy="735.2" r="1.45"/>
<circle cx="213.6" cy="738.5" r="1.45"/>
<circle cx="208.7" cy="732.5" r="1.45"/>
<circle cx="212.2" cy="730.4" r="1.45"/>
<circle cx="211.2" cy="739.3" r="1.45"/>
<circle cx="209.7" cy="725.8" r="1.45"/>
<circle cx="210.5" cy="738.1" r="1.45"/>
<circle cx="209.7" cy="725.3" r="1.45"/>
<circle cx="213.1" cy="731.3" r="1.45"/>
<circle cx="209.0" cy="723.3" r="1.45"/>
<circle cx="209.3" cy="733.3" r="1.45"/>
<circle cx="211.0" cy="733.9" r="1.45"/>
<circle cx="210.0" cy="723.6" r="1.45"/>
<circle cx="210.8" cy="743.0" r="1.45"/>
<circle cx="209.4" cy="725.5" r="1.45"/>
<circle cx="210.0" cy="740.4" r="1.45"/>
<circle cx="211.8" cy="730.8" r="1.45"/>
<circle cx="210.4" cy="730.3" r="1.45"/>
<circle cx="209.7" cy="732.7" r="1.45"/>
<circle cx="211.2" cy="737.4" r="1.45"/>
<circle cx="212.3" cy="740.6" r="1.45"/>
<circle cx="213.6" cy="733.4" r="1.45"/>
<circle cx="210.9" cy="741.6" r="1.45"/>
<circle cx="211.6" cy="739.2" r="1.45"/>
<circle cx="211.1" cy="733.8" r="1.45"/>
<circle cx="209.0" cy="722.6" r="1.45"/>
<circle cx="210.6" cy="737.1" r="1.45"/>
<circle cx="209.7" cy="731.8" r="1.45"/>
<circle cx="210.4" cy="728.4" r="1.45"/>
<circle cx="209.4" cy="732.5" r="1.45"/>
<circle cx="209.5" cy="738.3" r="1.45"/>
<circle cx="211.6" cy="739.0" r="1.45"/>
<circle cx="207.7" cy="729.7" r="1.45"/>
<circle cx="225.3" cy="737.7" r="1.45"/>
<circle cx="226.4" cy="737.8" r="1.45"/>
<circle cx="225.9" cy="735.1" r="1.45"/>
<circle cx="224.7" cy="736.1" r="1.45"/>
<circle cx="225.7" cy="738.4" r="1.45"/>
<circle cx="225.4" cy="736.9" r="1.45"/>
</g>
<line x1="174.10" y1="761.20" x2="251.67" y2="684.10" stroke="#333" stroke-width="0.75" stroke-dasharray="1.5,1.4"/>
<line x1="185.80" y1="771.80" x2="262.10" y2="695.96" stroke="#333" stroke-width="0.75" stroke-dasharray="1.5,1.4"/>
<rect x="174.10" y="684.10" width="88.00" height="87.70" fill="none" stroke="#333" stroke-width="1.0"/>
<line x1="191.70" y1="771.80" x2="191.70" y2="774.00" stroke="#333" stroke-width="0.8"/>
<text x="191.70" y="781.30" font-size="8.2" text-anchor="middle" fill="#222" stroke="#222" stroke-width="0.14">-10</text>
<line x1="171.90" y1="754.05" x2="174.10" y2="754.05" stroke="#333" stroke-width="0.8"/>
<text x="171.50" y="756.95" font-size="8.2" text-anchor="end" fill="#222" stroke="#222" stroke-width="0.14">-10</text>
<line x1="218.50" y1="771.80" x2="218.50" y2="774.00" stroke="#333" stroke-width="0.8"/>
<text x="218.50" y="781.30" font-size="8.2" text-anchor="middle" fill="#222" stroke="#222" stroke-width="0.14">0</text>
<line x1="171.90" y1="727.40" x2="174.10" y2="727.40" stroke="#333" stroke-width="0.8"/>
<text x="171.50" y="730.30" font-size="8.2" text-anchor="end" fill="#222" stroke="#222" stroke-width="0.14">0</text>
<line x1="245.30" y1="771.80" x2="245.30" y2="774.00" stroke="#333" stroke-width="0.8"/>
<text x="245.30" y="781.30" font-size="8.2" text-anchor="middle" fill="#222" stroke="#222" stroke-width="0.14">10</text>
<line x1="171.90" y1="700.75" x2="174.10" y2="700.75" stroke="#333" stroke-width="0.8"/>
<text x="171.50" y="703.65" font-size="8.2" text-anchor="end" fill="#222" stroke="#222" stroke-width="0.14">10</text>
<text x="218.10" y="679.50" font-size="8.2" text-anchor="middle" fill="#222" letter-spacing="-0.55" stroke="#222" stroke-width="0.14">AQ-seq</text>
<text x="181.30" y="695.10" font-size="8.4" text-anchor="start" fill="#222" stroke="#222" stroke-width="0.14">R = 0.6</text>
<text x="218.5" y="792.3" font-size="8.1" text-anchor="middle" fill="#222" stroke="#222" stroke-width="0.14">Predicted log<tspan font-size="5.2" dy="1.9">2</tspan><tspan dy="-1.9"> (5p/3p)</tspan></text>
<text transform="translate(152.6,727.2) rotate(-90)" font-size="8.0" text-anchor="middle" fill="#222" stroke="#222" stroke-width="0.14">Observed log<tspan font-size="5.2" dy="1.8">2</tspan><tspan dy="-1.8">&#8201;(5p/3p)</tspan></text>
<g fill="#2C6A94" fill-opacity="0.55">
<circle cx="368.1" cy="723.4" r="1.45"/>
<circle cx="363.1" cy="717.6" r="1.45"/>
<circle cx="359.8" cy="719.7" r="1.45"/>
<circle cx="360.8" cy="716.5" r="1.45"/>
<circle cx="363.2" cy="708.8" r="1.45"/>
<circle cx="362.7" cy="708.3" r="1.45"/>
<circle cx="363.3" cy="715.3" r="1.45"/>
<circle cx="361.5" cy="722.8" r="1.45"/>
<circle cx="357.8" cy="716.7" r="1.45"/>
<circle cx="361.6" cy="713.9" r="1.45"/>
<circle cx="362.9" cy="724.8" r="1.45"/>
<circle cx="360.1" cy="723.8" r="1.45"/>
<circle cx="364.7" cy="717.0" r="1.45"/>
<circle cx="362.3" cy="722.4" r="1.45"/>
<circle cx="358.6" cy="720.2" r="1.45"/>
<circle cx="361.7" cy="713.1" r="1.45"/>
<circle cx="357.9" cy="714.0" r="1.45"/>
<circle cx="359.7" cy="719.8" r="1.45"/>
<circle cx="361.1" cy="719.2" r="1.45"/>
<circle cx="363.2" cy="710.3" r="1.45"/>
<circle cx="362.9" cy="719.9" r="1.45"/>
<circle cx="363.1" cy="713.7" r="1.45"/>
<circle cx="364.3" cy="714.4" r="1.45"/>
<circle cx="357.7" cy="721.4" r="1.45"/>
<circle cx="360.9" cy="710.0" r="1.45"/>
<circle cx="361.6" cy="710.1" r="1.45"/>
<circle cx="362.8" cy="724.3" r="1.45"/>
<circle cx="362.1" cy="712.5" r="1.45"/>
<circle cx="363.1" cy="726.3" r="1.45"/>
<circle cx="363.1" cy="720.2" r="1.45"/>
<circle cx="356.4" cy="720.1" r="1.45"/>
<circle cx="356.7" cy="724.9" r="1.45"/>
<circle cx="365.8" cy="699.5" r="1.45"/>
<circle cx="364.8" cy="713.3" r="1.45"/>
<circle cx="367.1" cy="713.9" r="1.45"/>
<circle cx="359.4" cy="732.9" r="1.45"/>
<circle cx="364.4" cy="731.6" r="1.45"/>
<circle cx="354.3" cy="720.7" r="1.45"/>
<circle cx="362.2" cy="722.1" r="1.45"/>
<circle cx="364.8" cy="716.8" r="1.45"/>
<circle cx="362.6" cy="713.2" r="1.45"/>
<circle cx="360.4" cy="714.8" r="1.45"/>
<circle cx="368.3" cy="722.6" r="1.45"/>
<circle cx="362.5" cy="712.6" r="1.45"/>
<circle cx="360.6" cy="716.5" r="1.45"/>
<circle cx="357.4" cy="719.2" r="1.45"/>
<circle cx="362.1" cy="708.6" r="1.45"/>
<circle cx="364.6" cy="720.1" r="1.45"/>
<circle cx="359.0" cy="703.6" r="1.45"/>
<circle cx="364.4" cy="729.3" r="1.45"/>
<circle cx="361.1" cy="722.3" r="1.45"/>
<circle cx="360.4" cy="727.9" r="1.45"/>
<circle cx="360.9" cy="719.7" r="1.45"/>
<circle cx="361.4" cy="709.0" r="1.45"/>
<circle cx="362.7" cy="724.5" r="1.45"/>
<circle cx="357.4" cy="719.8" r="1.45"/>
<circle cx="365.2" cy="709.6" r="1.45"/>
<circle cx="360.5" cy="708.1" r="1.45"/>
<circle cx="363.2" cy="720.3" r="1.45"/>
<circle cx="363.2" cy="716.6" r="1.45"/>
<circle cx="359.1" cy="719.0" r="1.45"/>
<circle cx="362.5" cy="707.0" r="1.45"/>
<circle cx="359.3" cy="714.4" r="1.45"/>
<circle cx="362.1" cy="716.4" r="1.45"/>
<circle cx="358.8" cy="707.3" r="1.45"/>
<circle cx="365.6" cy="705.0" r="1.45"/>
<circle cx="363.4" cy="705.8" r="1.45"/>
<circle cx="363.6" cy="709.1" r="1.45"/>
<circle cx="361.2" cy="714.4" r="1.45"/>
<circle cx="361.2" cy="723.3" r="1.45"/>
<circle cx="351.8" cy="721.5" r="1.45"/>
<circle cx="350.5" cy="717.0" r="1.45"/>
<circle cx="351.5" cy="702.0" r="1.45"/>
<circle cx="356.0" cy="708.0" r="1.45"/>
<circle cx="354.2" cy="719.9" r="1.45"/>
<circle cx="353.2" cy="723.4" r="1.45"/>
<circle cx="351.5" cy="717.6" r="1.45"/>
<circle cx="352.0" cy="709.3" r="1.45"/>
<circle cx="351.2" cy="699.8" r="1.45"/>
<circle cx="351.7" cy="709.4" r="1.45"/>
<circle cx="349.6" cy="709.0" r="1.45"/>
<circle cx="350.3" cy="713.4" r="1.45"/>
<circle cx="352.7" cy="709.5" r="1.45"/>
<circle cx="353.8" cy="712.2" r="1.45"/>
<circle cx="352.4" cy="702.6" r="1.45"/>
<circle cx="351.8" cy="714.5" r="1.45"/>
<circle cx="351.8" cy="713.7" r="1.45"/>
<circle cx="350.8" cy="717.1" r="1.45"/>
<circle cx="353.6" cy="718.1" r="1.45"/>
<circle cx="353.6" cy="718.2" r="1.45"/>
<circle cx="355.4" cy="715.4" r="1.45"/>
<circle cx="356.0" cy="711.5" r="1.45"/>
<circle cx="352.4" cy="708.7" r="1.45"/>
<circle cx="354.9" cy="705.2" r="1.45"/>
<circle cx="355.3" cy="709.1" r="1.45"/>
<circle cx="350.4" cy="708.8" r="1.45"/>
<circle cx="352.5" cy="712.1" r="1.45"/>
<circle cx="355.1" cy="719.0" r="1.45"/>
<circle cx="355.2" cy="699.9" r="1.45"/>
<circle cx="353.7" cy="716.5" r="1.45"/>
<circle cx="355.3" cy="713.4" r="1.45"/>
<circle cx="354.7" cy="706.9" r="1.45"/>
<circle cx="349.8" cy="712.6" r="1.45"/>
<circle cx="349.8" cy="718.9" r="1.45"/>
<circle cx="353.8" cy="721.9" r="1.45"/>
<circle cx="351.3" cy="717.4" r="1.45"/>
<circle cx="353.3" cy="712.4" r="1.45"/>
<circle cx="353.5" cy="717.7" r="1.45"/>
<circle cx="351.2" cy="712.1" r="1.45"/>
<circle cx="351.0" cy="719.6" r="1.45"/>
<circle cx="354.0" cy="719.5" r="1.45"/>
<circle cx="350.9" cy="707.7" r="1.45"/>
<circle cx="352.6" cy="728.3" r="1.45"/>
<circle cx="351.2" cy="702.7" r="1.45"/>
<circle cx="358.1" cy="716.5" r="1.45"/>
<circle cx="354.0" cy="710.1" r="1.45"/>
<circle cx="353.2" cy="725.8" r="1.45"/>
<circle cx="354.5" cy="712.9" r="1.45"/>
<circle cx="352.2" cy="724.6" r="1.45"/>
<circle cx="351.4" cy="715.4" r="1.45"/>
<circle cx="352.2" cy="713.3" r="1.45"/>
<circle cx="351.9" cy="708.6" r="1.45"/>
<circle cx="353.8" cy="721.7" r="1.45"/>
<circle cx="351.5" cy="712.1" r="1.45"/>
<circle cx="351.6" cy="706.1" r="1.45"/>
<circle cx="351.6" cy="713.2" r="1.45"/>
<circle cx="353.8" cy="721.6" r="1.45"/>
<circle cx="355.0" cy="716.0" r="1.45"/>
<circle cx="351.3" cy="718.9" r="1.45"/>
<circle cx="349.4" cy="723.0" r="1.45"/>
<circle cx="347.6" cy="742.0" r="1.45"/>
<circle cx="341.3" cy="740.1" r="1.45"/>
<circle cx="344.3" cy="745.9" r="1.45"/>
<circle cx="341.5" cy="739.6" r="1.45"/>
<circle cx="345.8" cy="739.7" r="1.45"/>
<circle cx="348.1" cy="742.5" r="1.45"/>
<circle cx="341.1" cy="749.3" r="1.45"/>
<circle cx="342.1" cy="737.4" r="1.45"/>
<circle cx="341.4" cy="742.2" r="1.45"/>
<circle cx="338.8" cy="744.6" r="1.45"/>
<circle cx="340.7" cy="741.7" r="1.45"/>
<circle cx="346.0" cy="738.2" r="1.45"/>
<circle cx="345.5" cy="734.3" r="1.45"/>
<circle cx="340.6" cy="733.4" r="1.45"/>
<circle cx="342.4" cy="748.9" r="1.45"/>
<circle cx="340.1" cy="741.7" r="1.45"/>
<circle cx="336.8" cy="727.8" r="1.45"/>
<circle cx="342.1" cy="736.2" r="1.45"/>
<circle cx="338.0" cy="740.6" r="1.45"/>
<circle cx="343.2" cy="745.7" r="1.45"/>
<circle cx="343.1" cy="741.2" r="1.45"/>
<circle cx="343.6" cy="748.3" r="1.45"/>
<circle cx="344.1" cy="742.9" r="1.45"/>
<circle cx="339.2" cy="754.1" r="1.45"/>
<circle cx="341.5" cy="743.4" r="1.45"/>
<circle cx="350.6" cy="748.3" r="1.45"/>
<circle cx="347.5" cy="733.9" r="1.45"/>
<circle cx="343.7" cy="739.8" r="1.45"/>
<circle cx="344.0" cy="749.9" r="1.45"/>
<circle cx="347.2" cy="743.1" r="1.45"/>
<circle cx="339.6" cy="741.3" r="1.45"/>
<circle cx="332.5" cy="749.0" r="1.45"/>
<circle cx="338.1" cy="750.4" r="1.45"/>
<circle cx="344.3" cy="732.0" r="1.45"/>
<circle cx="342.3" cy="743.2" r="1.45"/>
<circle cx="343.3" cy="744.2" r="1.45"/>
<circle cx="342.7" cy="738.9" r="1.45"/>
<circle cx="341.4" cy="743.7" r="1.45"/>
<circle cx="342.4" cy="741.0" r="1.45"/>
<circle cx="344.6" cy="750.1" r="1.45"/>
<circle cx="338.2" cy="744.2" r="1.45"/>
<circle cx="343.9" cy="748.9" r="1.45"/>
<circle cx="346.4" cy="733.0" r="1.45"/>
<circle cx="339.6" cy="734.8" r="1.45"/>
<circle cx="334.8" cy="741.9" r="1.45"/>
<circle cx="336.5" cy="735.1" r="1.45"/>
<circle cx="345.1" cy="738.4" r="1.45"/>
<circle cx="340.1" cy="748.0" r="1.45"/>
<circle cx="343.6" cy="744.4" r="1.45"/>
<circle cx="344.5" cy="750.7" r="1.45"/>
<circle cx="343.6" cy="738.4" r="1.45"/>
<circle cx="334.1" cy="748.9" r="1.45"/>
<circle cx="339.6" cy="745.0" r="1.45"/>
<circle cx="336.0" cy="741.4" r="1.45"/>
<circle cx="338.1" cy="742.0" r="1.45"/>
<circle cx="335.6" cy="748.4" r="1.45"/>
<circle cx="344.5" cy="751.5" r="1.45"/>
<circle cx="341.9" cy="733.1" r="1.45"/>
<circle cx="344.9" cy="749.3" r="1.45"/>
<circle cx="349.9" cy="744.8" r="1.45"/>
<circle cx="345.3" cy="736.0" r="1.45"/>
<circle cx="340.9" cy="737.9" r="1.45"/>
<circle cx="332.3" cy="741.0" r="1.45"/>
<circle cx="342.6" cy="743.6" r="1.45"/>
<circle cx="342.5" cy="735.3" r="1.45"/>
<circle cx="345.3" cy="745.2" r="1.45"/>
<circle cx="344.8" cy="734.7" r="1.45"/>
<circle cx="342.4" cy="739.3" r="1.45"/>
<circle cx="333.4" cy="750.8" r="1.45"/>
<circle cx="343.3" cy="750.3" r="1.45"/>
<circle cx="354.2" cy="734.1" r="1.45"/>
<circle cx="349.7" cy="746.4" r="1.45"/>
<circle cx="351.7" cy="739.0" r="1.45"/>
<circle cx="354.2" cy="741.5" r="1.45"/>
<circle cx="352.2" cy="745.5" r="1.45"/>
<circle cx="352.8" cy="744.4" r="1.45"/>
<circle cx="354.6" cy="736.6" r="1.45"/>
<circle cx="348.1" cy="738.4" r="1.45"/>
<circle cx="349.5" cy="735.2" r="1.45"/>
<circle cx="349.6" cy="733.6" r="1.45"/>
<circle cx="354.7" cy="729.9" r="1.45"/>
<circle cx="352.9" cy="740.0" r="1.45"/>
<circle cx="355.1" cy="746.8" r="1.45"/>
<circle cx="352.0" cy="742.0" r="1.45"/>
<circle cx="352.0" cy="748.7" r="1.45"/>
<circle cx="348.0" cy="749.4" r="1.45"/>
<circle cx="355.7" cy="742.1" r="1.45"/>
<circle cx="353.6" cy="741.0" r="1.45"/>
<circle cx="351.5" cy="733.4" r="1.45"/>
<circle cx="346.5" cy="741.5" r="1.45"/>
<circle cx="350.2" cy="745.2" r="1.45"/>
<circle cx="348.2" cy="748.5" r="1.45"/>
<circle cx="349.2" cy="734.5" r="1.45"/>
<circle cx="350.4" cy="742.8" r="1.45"/>
<circle cx="351.7" cy="737.0" r="1.45"/>
<circle cx="354.6" cy="739.3" r="1.45"/>
<circle cx="352.1" cy="737.6" r="1.45"/>
<circle cx="350.2" cy="739.2" r="1.45"/>
<circle cx="356.2" cy="743.8" r="1.45"/>
<circle cx="350.0" cy="748.5" r="1.45"/>
<circle cx="352.2" cy="737.0" r="1.45"/>
<circle cx="351.1" cy="742.0" r="1.45"/>
<circle cx="355.0" cy="740.1" r="1.45"/>
<circle cx="353.8" cy="742.2" r="1.45"/>
<circle cx="355.3" cy="735.5" r="1.45"/>
<circle cx="351.8" cy="743.4" r="1.45"/>
<circle cx="358.3" cy="746.0" r="1.45"/>
<circle cx="349.8" cy="753.4" r="1.45"/>
<circle cx="353.8" cy="739.9" r="1.45"/>
<circle cx="351.9" cy="748.3" r="1.45"/>
<circle cx="352.2" cy="744.4" r="1.45"/>
<circle cx="349.3" cy="741.5" r="1.45"/>
<circle cx="352.9" cy="741.0" r="1.45"/>
<circle cx="350.9" cy="736.4" r="1.45"/>
<circle cx="352.7" cy="742.2" r="1.45"/>
<circle cx="353.6" cy="738.6" r="1.45"/>
<circle cx="354.4" cy="735.9" r="1.45"/>
<circle cx="354.0" cy="743.3" r="1.45"/>
<circle cx="355.4" cy="734.9" r="1.45"/>
<circle cx="350.9" cy="733.6" r="1.45"/>
<circle cx="342.4" cy="726.3" r="1.45"/>
<circle cx="341.9" cy="727.7" r="1.45"/>
<circle cx="345.7" cy="727.6" r="1.45"/>
<circle cx="346.8" cy="725.7" r="1.45"/>
<circle cx="341.6" cy="715.5" r="1.45"/>
<circle cx="343.2" cy="729.4" r="1.45"/>
<circle cx="341.6" cy="730.2" r="1.45"/>
<circle cx="344.2" cy="726.4" r="1.45"/>
<circle cx="341.8" cy="722.2" r="1.45"/>
<circle cx="337.2" cy="720.0" r="1.45"/>
<circle cx="347.8" cy="725.9" r="1.45"/>
<circle cx="340.2" cy="719.8" r="1.45"/>
<circle cx="346.0" cy="725.7" r="1.45"/>
<circle cx="342.7" cy="719.8" r="1.45"/>
<circle cx="345.5" cy="725.4" r="1.45"/>
<circle cx="371.3" cy="703.0" r="1.45"/>
<circle cx="366.2" cy="721.6" r="1.45"/>
<circle cx="368.5" cy="720.6" r="1.45"/>
<circle cx="367.3" cy="716.3" r="1.45"/>
<circle cx="367.0" cy="720.4" r="1.45"/>
<circle cx="368.3" cy="719.0" r="1.45"/>
<circle cx="368.5" cy="709.5" r="1.45"/>
<circle cx="369.5" cy="715.7" r="1.45"/>
<circle cx="370.8" cy="718.9" r="1.45"/>
<circle cx="369.2" cy="704.5" r="1.45"/>
<circle cx="368.3" cy="710.9" r="1.45"/>
<circle cx="367.4" cy="720.0" r="1.45"/>
<circle cx="358.9" cy="727.4" r="1.45"/>
<circle cx="359.3" cy="726.7" r="1.45"/>
<circle cx="359.2" cy="729.6" r="1.45"/>
<circle cx="357.2" cy="729.7" r="1.45"/>
<circle cx="358.6" cy="729.3" r="1.45"/>
<circle cx="356.2" cy="724.3" r="1.45"/>
<circle cx="360.9" cy="728.4" r="1.45"/>
<circle cx="357.5" cy="725.0" r="1.45"/>
<circle cx="358.1" cy="730.2" r="1.45"/>
<circle cx="359.8" cy="731.4" r="1.45"/>
<circle cx="358.8" cy="731.1" r="1.45"/>
<circle cx="359.8" cy="727.6" r="1.45"/>
<circle cx="360.1" cy="727.5" r="1.45"/>
<circle cx="359.3" cy="727.7" r="1.45"/>
<circle cx="360.3" cy="732.9" r="1.45"/>
<circle cx="356.0" cy="695.1" r="1.45"/>
</g>
<line x1="307.40" y1="759.30" x2="385.01" y2="683.40" stroke="#333" stroke-width="0.75" stroke-dasharray="1.5,1.4"/>
<line x1="317.90" y1="770.50" x2="394.50" y2="695.59" stroke="#333" stroke-width="0.75" stroke-dasharray="1.5,1.4"/>
<rect x="307.40" y="683.40" width="87.10" height="87.10" fill="none" stroke="#333" stroke-width="1.0"/>
<line x1="327.50" y1="770.50" x2="327.50" y2="772.70" stroke="#333" stroke-width="0.8"/>
<text x="327.50" y="780.00" font-size="8.2" text-anchor="middle" fill="#222" stroke="#222" stroke-width="0.14">-10</text>
<line x1="305.20" y1="754.20" x2="307.40" y2="754.20" stroke="#333" stroke-width="0.8"/>
<text x="304.80" y="757.10" font-size="8.2" text-anchor="end" fill="#222" stroke="#222" stroke-width="0.14">-10</text>
<line x1="354.60" y1="770.50" x2="354.60" y2="772.70" stroke="#333" stroke-width="0.8"/>
<text x="354.60" y="780.00" font-size="8.2" text-anchor="middle" fill="#222" stroke="#222" stroke-width="0.14">0</text>
<line x1="305.20" y1="727.70" x2="307.40" y2="727.70" stroke="#333" stroke-width="0.8"/>
<text x="304.80" y="730.60" font-size="8.2" text-anchor="end" fill="#222" stroke="#222" stroke-width="0.14">0</text>
<line x1="381.70" y1="770.50" x2="381.70" y2="772.70" stroke="#333" stroke-width="0.8"/>
<text x="381.70" y="780.00" font-size="8.2" text-anchor="middle" fill="#222" stroke="#222" stroke-width="0.14">10</text>
<line x1="305.20" y1="701.20" x2="307.40" y2="701.20" stroke="#333" stroke-width="0.8"/>
<text x="304.80" y="704.10" font-size="8.2" text-anchor="end" fill="#222" stroke="#222" stroke-width="0.14">10</text>
<text x="350.95" y="678.80" font-size="8.2" text-anchor="middle" fill="#222" letter-spacing="-0.2" stroke="#222" stroke-width="0.14">TruSeq</text>
<text x="311.80" y="694.40" font-size="8.4" text-anchor="start" fill="#222" stroke="#222" stroke-width="0.14">R = 0.59</text>
<text x="354.6" y="791.0" font-size="8.1" text-anchor="middle" fill="#222" stroke="#222" stroke-width="0.14">Predicted log<tspan font-size="5.2" dy="1.9">2</tspan><tspan dy="-1.9"> (5p/3p)</tspan></text>
<text transform="translate(285.9,726.6) rotate(-90)" font-size="8.0" text-anchor="middle" fill="#222" stroke="#222" stroke-width="0.14">Observed log<tspan font-size="5.2" dy="1.8">2</tspan><tspan dy="-1.8"> (5p/3p)</tspan></text>
<text x="338.90" y="408.60" font-size="13" text-anchor="start" font-weight="bold" fill="#1c1010">E</text>
<line x1="373.90" y1="461.30" x2="673.50" y2="461.30" stroke="#555" stroke-width="0.8" stroke-dasharray="3.2,3.2"/>
<line x1="371.70" y1="405.10" x2="373.90" y2="405.10" stroke="#333" stroke-width="0.7"/>
<text x="369.70" y="407.40" font-size="7.8" text-anchor="end" fill="#333" stroke="#333" stroke-width="0.14">10</text>
<line x1="371.70" y1="433.20" x2="373.90" y2="433.20" stroke="#333" stroke-width="0.7"/>
<text x="369.70" y="435.50" font-size="7.8" text-anchor="end" fill="#333" stroke="#333" stroke-width="0.14">5</text>
<line x1="371.70" y1="461.30" x2="373.90" y2="461.30" stroke="#333" stroke-width="0.7"/>
<text x="369.70" y="463.60" font-size="7.8" text-anchor="end" fill="#333" stroke="#333" stroke-width="0.14">0</text>
<line x1="371.70" y1="489.40" x2="373.90" y2="489.40" stroke="#333" stroke-width="0.7"/>
<text x="369.70" y="491.70" font-size="7.8" text-anchor="end" fill="#333" stroke="#333" stroke-width="0.14">&#8722;5</text>
<line x1="416.70" y1="493.10" x2="416.70" y2="494.90" stroke="#333" stroke-width="0.7"/>
<line x1="487.60" y1="493.10" x2="487.60" y2="494.90" stroke="#333" stroke-width="0.7"/>
<line x1="559.40" y1="493.10" x2="559.40" y2="494.90" stroke="#333" stroke-width="0.7"/>
<line x1="630.40" y1="493.10" x2="630.40" y2="494.90" stroke="#333" stroke-width="0.7"/>
<line x1="373.90" y1="561.90" x2="673.50" y2="561.90" stroke="#555" stroke-width="0.8" stroke-dasharray="3.2,3.2"/>
<line x1="371.70" y1="505.80" x2="373.90" y2="505.80" stroke="#333" stroke-width="0.7"/>
<text x="369.70" y="508.10" font-size="7.8" text-anchor="end" fill="#333" stroke="#333" stroke-width="0.14">10</text>
<line x1="371.70" y1="533.85" x2="373.90" y2="533.85" stroke="#333" stroke-width="0.7"/>
<text x="369.70" y="536.15" font-size="7.8" text-anchor="end" fill="#333" stroke="#333" stroke-width="0.14">5</text>
<line x1="371.70" y1="561.90" x2="373.90" y2="561.90" stroke="#333" stroke-width="0.7"/>
<text x="369.70" y="564.20" font-size="7.8" text-anchor="end" fill="#333" stroke="#333" stroke-width="0.14">0</text>
<line x1="371.70" y1="589.95" x2="373.90" y2="589.95" stroke="#333" stroke-width="0.7"/>
<text x="369.70" y="592.25" font-size="7.8" text-anchor="end" fill="#333" stroke="#333" stroke-width="0.14">&#8722;5</text>
<line x1="416.70" y1="594.00" x2="416.70" y2="595.80" stroke="#333" stroke-width="0.7"/>
<line x1="487.60" y1="594.00" x2="487.60" y2="595.80" stroke="#333" stroke-width="0.7"/>
<line x1="559.40" y1="594.00" x2="559.40" y2="595.80" stroke="#333" stroke-width="0.7"/>
<line x1="630.40" y1="594.00" x2="630.40" y2="595.80" stroke="#333" stroke-width="0.7"/>
<line x1="395.50" y1="438.40" x2="395.50" y2="440.10" stroke="#2a2a2a" stroke-width="0.8"/>
<line x1="395.50" y1="443.30" x2="395.50" y2="444.50" stroke="#2a2a2a" stroke-width="0.8"/>
<rect x="388.80" y="440.10" width="13.40" height="3.20" fill="#C99C6B" stroke="#4a3c2c" stroke-width="0.75"/>
<line x1="388.80" y1="441.70" x2="402.20" y2="441.70" stroke="#4a3c2c" stroke-width="0.7"/>
<line x1="409.75" y1="446.60" x2="409.75" y2="450.10" stroke="#2a2a2a" stroke-width="0.8"/>
<line x1="409.75" y1="454.20" x2="409.75" y2="455.50" stroke="#2a2a2a" stroke-width="0.8"/>
<rect x="403.10" y="450.10" width="13.30" height="4.10" fill="#7FCBE0" stroke="#2f4e58" stroke-width="0.75"/>
<line x1="403.10" y1="452.15" x2="416.40" y2="452.15" stroke="#2f4e58" stroke-width="0.7"/>
<line x1="423.95" y1="445.20" x2="423.95" y2="447.20" stroke="#2a2a2a" stroke-width="0.8"/>
<line x1="423.95" y1="449.80" x2="423.95" y2="452.00" stroke="#2a2a2a" stroke-width="0.8"/>
<rect x="417.10" y="447.20" width="13.70" height="2.60" fill="#EC8070" stroke="#4a2a25" stroke-width="0.75"/>
<line x1="417.10" y1="448.50" x2="430.80" y2="448.50" stroke="#4a2a25" stroke-width="0.7"/>
<line x1="431.70" y1="445.40" x2="444.80" y2="445.40" stroke="#3a3a3a" stroke-width="0.95"/>
<line x1="474.60" y1="435.40" x2="474.60" y2="439.30" stroke="#2a2a2a" stroke-width="0.8"/>
<line x1="474.60" y1="444.00" x2="474.60" y2="445.00" stroke="#2a2a2a" stroke-width="0.8"/>
<rect x="469.30" y="439.30" width="10.60" height="4.70" fill="#7FCBE0" stroke="#2f4e58" stroke-width="0.75"/>
<line x1="469.30" y1="441.65" x2="479.90" y2="441.65" stroke="#2f4e58" stroke-width="0.7"/>
<rect x="482.50" y="445.10" width="8.70" height="1.40" fill="#1F4568" stroke="#0f2236" stroke-width="0.75"/>
<line x1="482.50" y1="445.80" x2="491.20" y2="445.80" stroke="#0f2236" stroke-width="0.7"/>
<line x1="537.95" y1="442.40" x2="537.95" y2="444.50" stroke="#2a2a2a" stroke-width="0.8"/>
<line x1="537.95" y1="446.10" x2="537.95" y2="446.80" stroke="#2a2a2a" stroke-width="0.8"/>
<rect x="531.10" y="444.50" width="13.70" height="1.60" fill="#C99C6B" stroke="#4a3c2c" stroke-width="0.75"/>
<line x1="531.10" y1="445.30" x2="544.80" y2="445.30" stroke="#4a3c2c" stroke-width="0.7"/>
<rect x="545.40" y="443.30" width="13.30" height="1.50" fill="#7FCBE0" stroke="#2f4e58" stroke-width="0.75"/>
<line x1="545.40" y1="444.05" x2="558.70" y2="444.05" stroke="#2f4e58" stroke-width="0.7"/>
<line x1="566.35" y1="441.20" x2="566.35" y2="442.30" stroke="#2a2a2a" stroke-width="0.8"/>
<line x1="566.35" y1="450.40" x2="566.35" y2="452.50" stroke="#2a2a2a" stroke-width="0.8"/>
<rect x="559.70" y="442.30" width="13.30" height="8.10" fill="#EC8070" stroke="#4a2a25" stroke-width="0.75"/>
<line x1="559.70" y1="446.35" x2="573.00" y2="446.35" stroke="#4a2a25" stroke-width="0.7"/>
<line x1="580.65" y1="442.50" x2="580.65" y2="444.40" stroke="#2a2a2a" stroke-width="0.8"/>
<line x1="580.65" y1="447.70" x2="580.65" y2="449.80" stroke="#2a2a2a" stroke-width="0.8"/>
<rect x="574.00" y="444.40" width="13.30" height="3.30" fill="#1F4568" stroke="#0f2236" stroke-width="0.75"/>
<line x1="574.00" y1="446.05" x2="587.30" y2="446.05" stroke="#0f2236" stroke-width="0.7"/>
<line x1="609.10" y1="467.20" x2="609.10" y2="469.20" stroke="#2a2a2a" stroke-width="0.8"/>
<line x1="609.10" y1="471.40" x2="609.10" y2="472.00" stroke="#2a2a2a" stroke-width="0.8"/>
<rect x="602.30" y="469.20" width="13.60" height="2.20" fill="#C99C6B" stroke="#4a3c2c" stroke-width="0.75"/>
<line x1="602.30" y1="470.30" x2="615.90" y2="470.30" stroke="#4a3c2c" stroke-width="0.7"/>
<line x1="623.45" y1="470.30" x2="623.45" y2="471.90" stroke="#2a2a2a" stroke-width="0.8"/>
<line x1="623.45" y1="475.00" x2="623.45" y2="476.00" stroke="#2a2a2a" stroke-width="0.8"/>
<rect x="616.60" y="471.90" width="13.70" height="3.10" fill="#7FCBE0" stroke="#2f4e58" stroke-width="0.75"/>
<line x1="616.60" y1="473.45" x2="630.30" y2="473.45" stroke="#2f4e58" stroke-width="0.7"/>
<line x1="637.75" y1="468.00" x2="637.75" y2="468.90" stroke="#2a2a2a" stroke-width="0.8"/>
<line x1="637.75" y1="470.40" x2="637.75" y2="471.00" stroke="#2a2a2a" stroke-width="0.8"/>
<rect x="630.90" y="468.90" width="13.70" height="1.50" fill="#EC8070" stroke="#4a2a25" stroke-width="0.75"/>
<line x1="630.90" y1="469.65" x2="644.60" y2="469.65" stroke="#4a2a25" stroke-width="0.7"/>
<line x1="652.05" y1="464.80" x2="652.05" y2="465.70" stroke="#2a2a2a" stroke-width="0.8"/>
<line x1="652.05" y1="467.10" x2="652.05" y2="467.70" stroke="#2a2a2a" stroke-width="0.8"/>
<rect x="645.20" y="465.70" width="13.70" height="1.40" fill="#1F4568" stroke="#0f2236" stroke-width="0.75"/>
<line x1="645.20" y1="466.40" x2="658.90" y2="466.40" stroke="#0f2236" stroke-width="0.7"/>
<rect x="388.30" y="567.40" width="13.20" height="1.20" fill="#C99C6B" stroke="#4a3c2c" stroke-width="0.75"/>
<line x1="388.30" y1="568.00" x2="401.50" y2="568.00" stroke="#4a3c2c" stroke-width="0.7"/>
<line x1="402.80" y1="589.30" x2="416.20" y2="589.30" stroke="#3a3a3a" stroke-width="0.95"/>
<line x1="417.50" y1="588.50" x2="430.60" y2="588.50" stroke="#3a3a3a" stroke-width="0.95"/>
<line x1="438.00" y1="571.00" x2="438.00" y2="572.50" stroke="#2a2a2a" stroke-width="0.8"/>
<line x1="438.00" y1="575.50" x2="438.00" y2="576.20" stroke="#2a2a2a" stroke-width="0.8"/>
<rect x="431.70" y="572.50" width="12.60" height="3.00" fill="#1F4568" stroke="#0f2236" stroke-width="0.75"/>
<line x1="431.70" y1="574.00" x2="444.30" y2="574.00" stroke="#0f2236" stroke-width="0.7"/>
<line x1="467.20" y1="566.50" x2="481.00" y2="566.50" stroke="#9a9a9a" stroke-width="0.95"/>
<line x1="488.45" y1="567.00" x2="488.45" y2="568.00" stroke="#2a2a2a" stroke-width="0.8"/>
<line x1="488.45" y1="571.40" x2="488.45" y2="572.00" stroke="#2a2a2a" stroke-width="0.8"/>
<rect x="481.90" y="568.00" width="13.10" height="3.40" fill="#EC8070" stroke="#4a2a25" stroke-width="0.75"/>
<line x1="481.90" y1="569.70" x2="495.00" y2="569.70" stroke="#4a2a25" stroke-width="0.7"/>
<line x1="495.50" y1="567.55" x2="509.00" y2="567.55" stroke="#9a9a9a" stroke-width="0.95"/>
<line x1="541.00" y1="583.20" x2="550.80" y2="583.20" stroke="#3a3a3a" stroke-width="0.95"/>
<line x1="551.80" y1="571.60" x2="561.60" y2="571.60" stroke="#3a3a3a" stroke-width="0.95"/>
<line x1="562.70" y1="590.50" x2="572.40" y2="590.50" stroke="#9a9a9a" stroke-width="0.95"/>
<rect x="603.20" y="519.20" width="13.50" height="2.40" fill="#C99C6B" stroke="#4a3c2c" stroke-width="0.75"/>
<line x1="603.20" y1="520.40" x2="616.70" y2="520.40" stroke="#4a3c2c" stroke-width="0.7"/>
<line x1="617.50" y1="557.00" x2="631.00" y2="557.00" stroke="#3a3a3a" stroke-width="0.95"/>
<line x1="631.80" y1="554.80" x2="645.00" y2="554.80" stroke="#3a3a3a" stroke-width="0.95"/>
<rect x="645.80" y="519.70" width="13.50" height="3.20" fill="#1F4568" stroke="#0f2236" stroke-width="0.75"/>
<line x1="645.80" y1="521.30" x2="659.30" y2="521.30" stroke="#0f2236" stroke-width="0.7"/>
<rect x="373.90" y="400.60" width="299.60" height="92.50" fill="none" stroke="#333" stroke-width="0.9"/>
<rect x="373.90" y="501.40" width="299.60" height="92.60" fill="none" stroke="#333" stroke-width="0.9"/>
<rect x="373.90" y="604.50" width="299.60" height="34.60" fill="none" stroke="#333" stroke-width="0.9"/>
<text x="380.20" y="411.10" font-size="8.0" text-anchor="start" fill="#222" stroke="#222" stroke-width="0.14">Our datasets</text>
<text x="380.20" y="512.60" font-size="8.0" text-anchor="start" fill="#222" stroke="#222" stroke-width="0.14">TruSeq</text>
<text x="380.00" y="612.80" font-size="7.1" text-anchor="start" fill="#222" stroke="#222" stroke-width="0.14">miRBase</text>
<line x1="624.90" y1="404.70" x2="624.90" y2="413.10" stroke="#4a3c2c" stroke-width="0.6"/>
<rect x="620.90" y="406.50" width="8.00" height="4.80" fill="#C99C6B" stroke="#4a3c2c" stroke-width="0.6"/>
<line x1="620.90" y1="408.90" x2="628.90" y2="408.90" stroke="#4a3c2c" stroke-width="0.6"/>
<text x="632.90" y="411.70" font-size="7.8" text-anchor="start" fill="#222" stroke="#222" stroke-width="0.14">HCT116</text>
<line x1="624.90" y1="414.77" x2="624.90" y2="423.17" stroke="#2f4e58" stroke-width="0.6"/>
<rect x="620.90" y="416.57" width="8.00" height="4.80" fill="#7FCBE0" stroke="#2f4e58" stroke-width="0.6"/>
<line x1="620.90" y1="418.97" x2="628.90" y2="418.97" stroke="#2f4e58" stroke-width="0.6"/>
<text x="632.90" y="421.77" font-size="7.8" text-anchor="start" fill="#222" stroke="#222" stroke-width="0.14">HEK293T</text>
<line x1="624.90" y1="424.84" x2="624.90" y2="433.24" stroke="#4a2a25" stroke-width="0.6"/>
<rect x="620.90" y="426.64" width="8.00" height="4.80" fill="#EC8070" stroke="#4a2a25" stroke-width="0.6"/>
<line x1="620.90" y1="429.04" x2="628.90" y2="429.04" stroke="#4a2a25" stroke-width="0.6"/>
<text x="632.90" y="431.84" font-size="7.8" text-anchor="start" fill="#222" stroke="#222" stroke-width="0.14">Hela</text>
<line x1="624.90" y1="434.91" x2="624.90" y2="443.31" stroke="#0f2236" stroke-width="0.6"/>
<rect x="620.90" y="436.71" width="8.00" height="4.80" fill="#1F4568" stroke="#0f2236" stroke-width="0.6"/>
<line x1="620.90" y1="439.11" x2="628.90" y2="439.11" stroke="#0f2236" stroke-width="0.6"/>
<text x="632.90" y="441.91" font-size="7.8" text-anchor="start" fill="#222" stroke="#222" stroke-width="0.14">K562</text>
<text transform="translate(354.3,447.0) rotate(-90)" font-size="8.2" text-anchor="middle" fill="#222" stroke="#222" stroke-width="0.14">Log<tspan font-size="5.4" dy="1.8">2</tspan><tspan dy="-1.8">(5p/3p)</tspan></text>
<text transform="translate(354.3,548.0) rotate(-90)" font-size="8.2" text-anchor="middle" fill="#222" stroke="#222" stroke-width="0.14">Log<tspan font-size="5.4" dy="1.8">2</tspan><tspan dy="-1.8">(5p/3p)</tspan></text>
<text x="0.00" y="0.00" font-size="8.0" text-anchor="middle" fill="#222" transform="translate(355.60,623.10) rotate(-90)" stroke="#222" stroke-width="0.14">Major strand</text>
<text x="416.70" y="630.10" font-size="8.2" text-anchor="middle" font-weight="bold" fill="#C0272D">3p</text>
<line x1="416.70" y1="639.10" x2="416.70" y2="641.00" stroke="#333" stroke-width="0.7"/>
<text x="487.60" y="630.10" font-size="8.2" text-anchor="middle" fill="#333" stroke="#333" stroke-width="0.14">5p</text>
<line x1="487.60" y1="639.10" x2="487.60" y2="641.00" stroke="#333" stroke-width="0.7"/>
<text x="559.40" y="630.10" font-size="8.2" text-anchor="middle" fill="#333" stroke="#333" stroke-width="0.14">5p</text>
<line x1="559.40" y1="639.10" x2="559.40" y2="641.00" stroke="#333" stroke-width="0.7"/>
<text x="630.40" y="630.10" font-size="8.2" text-anchor="middle" font-weight="bold" fill="#C0272D">5p</text>
<line x1="630.40" y1="639.10" x2="630.40" y2="641.00" stroke="#333" stroke-width="0.7"/>
<text x="418.70" y="651.00" font-size="7.75" text-anchor="middle" fill="#222" stroke="#222" stroke-width="0.14">pre&#8722;mir&#8722;500a</text>
<text x="489.60" y="651.00" font-size="7.75" text-anchor="middle" fill="#222" stroke="#222" stroke-width="0.14">pre&#8722;mir&#8722;582</text>
<text x="561.40" y="651.00" font-size="7.75" text-anchor="middle" fill="#222" stroke="#222" stroke-width="0.14">pre&#8722;mir&#8722;671</text>
<text x="632.40" y="651.00" font-size="7.75" text-anchor="middle" fill="#222" stroke="#222" stroke-width="0.14">pre&#8722;mir&#8722;362</text>
<text x="425.40" y="676.50" font-size="13" text-anchor="start" font-weight="bold" fill="#1c1010">F</text>
<text x="491.70" y="677.30" font-size="8.2" text-anchor="middle" font-weight="bold" fill="#111">pre-mir-362</text>
<line x1="462.00" y1="716.40" x2="466.60" y2="716.40" stroke="#222" stroke-width="0.9"/>
<text x="459.60" y="719.20" font-size="8.0" text-anchor="end" fill="#333" stroke="#333" stroke-width="0.14">0</text>
<line x1="462.00" y1="741.70" x2="466.60" y2="741.70" stroke="#222" stroke-width="0.9"/>
<text x="459.60" y="744.50" font-size="8.0" text-anchor="end" fill="#333" stroke="#333" stroke-width="0.14">-1</text>
<line x1="462.00" y1="767.00" x2="466.60" y2="767.00" stroke="#222" stroke-width="0.9"/>
<text x="459.60" y="769.80" font-size="8.0" text-anchor="end" fill="#333" stroke="#333" stroke-width="0.14">-2</text>
<line x1="462.00" y1="792.30" x2="466.60" y2="792.30" stroke="#222" stroke-width="0.9"/>
<text x="459.60" y="795.10" font-size="8.0" text-anchor="end" fill="#333" stroke="#333" stroke-width="0.14">-3</text>
<rect x="473.30" y="716.40" width="13.10" height="57.90" fill="#3C6186" stroke="none" stroke-width="0"/>
<rect x="493.20" y="716.40" width="12.70" height="62.60" fill="#3C6186" stroke="none" stroke-width="0"/>
<line x1="466.60" y1="716.00" x2="466.60" y2="792.60" stroke="#222" stroke-width="1.0"/>
<line x1="466.10" y1="716.40" x2="512.90" y2="716.40" stroke="#222" stroke-width="1.0"/>
<line x1="479.80" y1="716.40" x2="479.80" y2="711.90" stroke="#222" stroke-width="0.9"/>
<text x="0.00" y="0.00" font-size="8.2" text-anchor="start" fill="#222" transform="translate(479.20,710.40) rotate(-45)" stroke="#222" stroke-width="0.14">IOSE</text>
<line x1="499.70" y1="716.40" x2="499.70" y2="711.90" stroke="#222" stroke-width="0.9"/>
<text x="0.00" y="0.00" font-size="8.2" text-anchor="start" fill="#222" transform="translate(499.10,710.40) rotate(-45)" stroke="#222" stroke-width="0.14">SW480</text>
<line x1="474.60" y1="773.00" x2="484.10" y2="774.90" stroke="#111" stroke-width="1.0"/>
<line x1="475.00" y1="777.80" x2="479.80" y2="775.20" stroke="#111" stroke-width="1.0"/>
<line x1="475.00" y1="775.00" x2="484.00" y2="775.00" stroke="#111" stroke-width="1.6"/>
<line x1="476.00" y1="775.00" x2="483.00" y2="775.00" stroke="#ddd" stroke-width="0.5"/>
<line x1="494.50" y1="779.40" x2="504.00" y2="779.10" stroke="#111" stroke-width="1.0"/>
<circle cx="474.6" cy="772.4" r="1.75" fill="#111"/>
<circle cx="475.0" cy="777.8" r="1.75" fill="#111"/>
<circle cx="484.1" cy="774.9" r="1.75" fill="#111"/>
<circle cx="494.5" cy="779.4" r="1.75" fill="#111"/>
<circle cx="499.3" cy="779.1" r="1.75" fill="#111"/>
<circle cx="504.0" cy="779.1" r="1.75" fill="#111"/>
<text transform="translate(444.6,757.2) rotate(-90)" font-size="7.8" text-anchor="middle" fill="#222" stroke="#222" stroke-width="0.14">Log<tspan font-size="5.2" dy="1.7">2</tspan><tspan dy="-1.7"> (5p/3p)</tspan></text>
<text x="541.00" y="676.50" font-size="13" text-anchor="start" font-weight="bold" fill="#1c1010">G</text>
<text x="629.60" y="677.80" font-size="8.2" text-anchor="middle" font-weight="bold" fill="#111">pre-mir-423</text>
<line x1="590.00" y1="716.40" x2="594.70" y2="716.40" stroke="#222" stroke-width="0.9"/>
<text x="588.20" y="719.20" font-size="8.2" text-anchor="end" fill="#333" stroke="#333" stroke-width="0.14">0.0</text>
<line x1="590.00" y1="754.00" x2="594.70" y2="754.00" stroke="#222" stroke-width="0.9"/>
<text x="588.20" y="756.80" font-size="8.2" text-anchor="end" fill="#333" stroke="#333" stroke-width="0.14">-0.5</text>
<line x1="590.00" y1="791.60" x2="594.70" y2="791.60" stroke="#222" stroke-width="0.9"/>
<text x="588.20" y="794.40" font-size="8.2" text-anchor="end" fill="#333" stroke="#333" stroke-width="0.14">-1.0</text>
<rect x="601.20" y="716.40" width="12.90" height="45.40" fill="#3C6186" stroke="none" stroke-width="0"/>
<rect x="622.30" y="716.40" width="12.60" height="47.00" fill="#3C6186" stroke="none" stroke-width="0"/>
<rect x="643.10" y="716.40" width="12.70" height="51.70" fill="#3C6186" stroke="none" stroke-width="0"/>
<line x1="594.70" y1="716.00" x2="594.70" y2="791.90" stroke="#222" stroke-width="1.0"/>
<line x1="594.20" y1="716.40" x2="660.10" y2="716.40" stroke="#222" stroke-width="1.0"/>
<line x1="607.50" y1="716.40" x2="607.50" y2="711.90" stroke="#222" stroke-width="0.9"/>
<text x="0.00" y="0.00" font-size="8.2" text-anchor="start" fill="#222" transform="translate(606.90,710.40) rotate(-45)" stroke="#222" stroke-width="0.14">Huh7</text>
<line x1="628.50" y1="716.40" x2="628.50" y2="711.90" stroke="#222" stroke-width="0.9"/>
<text x="0.00" y="0.00" font-size="8.2" text-anchor="start" fill="#222" transform="translate(627.90,710.40) rotate(-45)" stroke="#222" stroke-width="0.14">HepG2</text>
<line x1="649.30" y1="716.40" x2="649.30" y2="711.90" stroke="#222" stroke-width="0.9"/>
<text x="0.00" y="0.00" font-size="8.2" text-anchor="start" fill="#222" transform="translate(648.70,710.40) rotate(-45)" stroke="#222" stroke-width="0.14">HEK293</text>
<line x1="604.60" y1="758.10" x2="610.50" y2="760.60" stroke="#111" stroke-width="1.0"/>
<line x1="607.50" y1="759.50" x2="607.50" y2="766.80" stroke="#111" stroke-width="1.0"/>
<line x1="604.60" y1="764.30" x2="610.50" y2="764.30" stroke="#111" stroke-width="1.0"/>
<line x1="628.40" y1="759.50" x2="628.40" y2="767.50" stroke="#111" stroke-width="1.0"/>
<line x1="626.30" y1="759.50" x2="630.50" y2="759.50" stroke="#111" stroke-width="1.0"/>
<line x1="625.40" y1="769.30" x2="631.40" y2="765.70" stroke="#111" stroke-width="1.0"/>
<line x1="649.10" y1="766.30" x2="646.10" y2="769.60" stroke="#111" stroke-width="1.0"/>
<line x1="649.10" y1="766.30" x2="652.10" y2="769.30" stroke="#111" stroke-width="1.0"/>
<line x1="646.10" y1="769.60" x2="652.10" y2="769.30" stroke="#111" stroke-width="1.0"/>
<circle cx="604.6" cy="758.1" r="1.7" fill="#111"/>
<circle cx="610.5" cy="760.6" r="1.7" fill="#111"/>
<circle cx="607.5" cy="766.8" r="1.7" fill="#111"/>
<circle cx="628.3" cy="756.1" r="1.7" fill="#111"/>
<circle cx="631.4" cy="765.7" r="1.7" fill="#111"/>
<circle cx="625.4" cy="769.3" r="1.7" fill="#111"/>
<circle cx="649.1" cy="766.3" r="1.7" fill="#111"/>
<circle cx="646.1" cy="769.6" r="1.7" fill="#111"/>
<circle cx="652.1" cy="769.3" r="1.7" fill="#111"/>
<text transform="translate(566.0,755.8) rotate(-90)" font-size="8.1" text-anchor="middle" fill="#222" stroke="#222" stroke-width="0.14">Log<tspan font-size="5.4" dy="1.7">2</tspan><tspan dy="-1.7"> (5p/3p)</tspan></text>
</svg></body></html>
